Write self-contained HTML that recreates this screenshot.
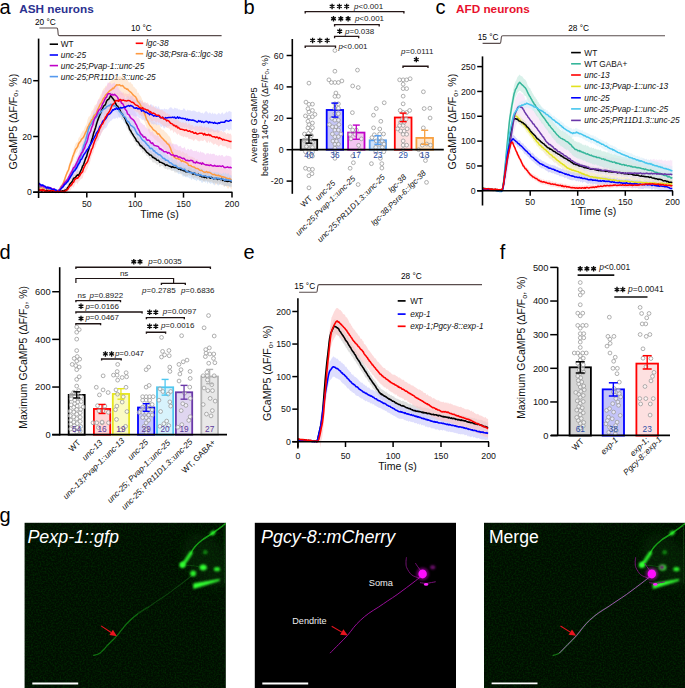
<!DOCTYPE html>
<html><head><meta charset="utf-8"><title>Figure</title>
<style>html,body{margin:0;padding:0;background:#fff;width:685px;height:688px;overflow:hidden}svg text{font-family:"Liberation Sans", sans-serif}</style>
</head><body>
<svg width="685" height="688" viewBox="0 0 685 688" style="display:block">
<defs>
<filter id="bl5" x="-50%" y="-50%" width="200%" height="200%"><feGaussianBlur stdDeviation="0.5"/></filter>
<filter id="bl6" x="-50%" y="-50%" width="200%" height="200%"><feGaussianBlur stdDeviation="0.6"/></filter>
<filter id="bl7" x="-50%" y="-50%" width="200%" height="200%"><feGaussianBlur stdDeviation="0.7"/></filter>
<filter id="bl8" x="-50%" y="-50%" width="200%" height="200%"><feGaussianBlur stdDeviation="0.8"/></filter>
<filter id="bl10" x="-50%" y="-50%" width="200%" height="200%"><feGaussianBlur stdDeviation="1.0"/></filter>
<filter id="bl60" x="-50%" y="-50%" width="200%" height="200%"><feGaussianBlur stdDeviation="6.0"/></filter>
<filter id="nz" x="0" y="0" width="100%" height="100%"><feTurbulence type="fractalNoise" baseFrequency="0.6" numOctaves="2" seed="3"/><feColorMatrix type="matrix" values="0 0 0 0 0  0 0 0 0 0.16  0 0 0 0 0  0 0 0 1.3 -0.5"/></filter>
<pattern id="noiseG" width="201" height="166" patternUnits="userSpaceOnUse"><rect width="201" height="166" filter="url(#nz)"/></pattern>
<clipPath id="cl1"><rect x="24.6" y="522.8" width="201.2" height="166"/></clipPath>
<clipPath id="cl2"><rect x="254.8" y="522.8" width="201.2" height="166"/></clipPath>
<clipPath id="cl3"><rect x="484" y="522.8" width="201" height="166"/></clipPath>
</defs>
<g font-family='"Liberation Sans", sans-serif'>
<rect width="685" height="688" fill="#fff"/>
<text x="-0.60" y="13.70" font-size="20" text-anchor="start" fill="#000" font-weight="normal" font-style="normal" >a</text>
<text x="19.30" y="12.60" font-size="11.75" text-anchor="start" fill="#2b3190" font-weight="bold" font-style="normal" >ASH neurons</text>
<path d="M39.4,28 L56.6,28 Q57.6,28 57.8,30 L58.2,34.5 Q58.4,35.6 59.6,35.6 L221.6,35.6" fill="none" stroke="#5a4d4d" stroke-width="1.1"/>
<text x="35.00" y="25.20" font-size="8.3" text-anchor="start" fill="#000" font-weight="normal" font-style="normal" >20 &#176;C</text>
<text x="130.90" y="31.20" font-size="8.3" text-anchor="start" fill="#000" font-weight="normal" font-style="normal" >10 &#176;C</text>
<line x1="49.70" y1="44.20" x2="58.00" y2="44.20" stroke="#000" stroke-width="1.6" />
<text x="60.80" y="47.20" font-size="8.25" text-anchor="start" fill="#111" font-weight="normal" font-style="normal" >WT</text>
<line x1="49.70" y1="55.00" x2="58.00" y2="55.00" stroke="#0000ff" stroke-width="1.6" />
<text x="60.80" y="58.00" font-size="8.25" text-anchor="start" fill="#111" font-weight="normal" font-style="italic" >unc-25</text>
<line x1="49.70" y1="65.60" x2="58.00" y2="65.60" stroke="#c000c8" stroke-width="1.6" />
<text x="60.80" y="68.60" font-size="8.25" text-anchor="start" fill="#111" font-weight="normal" font-style="italic" >unc-25;Pvap-1::unc-25</text>
<line x1="49.70" y1="76.60" x2="58.00" y2="76.60" stroke="#5599ee" stroke-width="1.6" />
<text x="60.80" y="79.60" font-size="8.25" text-anchor="start" fill="#111" font-weight="normal" font-style="italic" >unc-25;PR11D1.3::unc-25</text>
<line x1="135.70" y1="43.30" x2="143.20" y2="43.30" stroke="#ff0000" stroke-width="1.6" />
<text x="146.00" y="46.30" font-size="8.3" text-anchor="start" fill="#111" font-weight="normal" font-style="italic" >lgc-38</text>
<line x1="135.70" y1="53.70" x2="143.20" y2="53.70" stroke="#ff9a40" stroke-width="1.6" />
<text x="146.00" y="56.70" font-size="8.3" text-anchor="start" fill="#111" font-weight="normal" font-style="italic" >lgc-38;Psra-6::lgc-38</text>
<path d="M38.60,186.37 L39.60,185.69 L40.60,185.63 L41.60,186.81 L42.60,187.09 L43.60,187.53 L44.60,187.86 L45.60,187.83 L46.60,189.44 L47.60,187.99 L48.60,189.27 L49.60,190.61 L50.60,189.03 L51.60,187.18 L52.60,189.00 L53.60,190.49 L54.60,189.84 L55.60,190.74 L56.60,191.85 L57.60,190.94 L58.60,190.48 L59.60,187.97 L60.60,184.75 L61.60,185.39 L62.60,183.13 L63.60,181.01 L64.60,177.62 L65.60,174.57 L66.60,171.76 L67.60,169.63 L68.60,165.87 L69.60,162.45 L70.60,158.86 L71.60,157.77 L72.60,153.64 L73.60,149.55 L74.60,146.30 L75.60,143.74 L76.60,142.55 L77.60,141.90 L78.60,137.87 L79.60,136.98 L80.60,134.52 L81.60,132.70 L82.60,130.91 L83.60,130.55 L84.60,127.70 L85.60,125.87 L86.60,124.17 L87.60,119.48 L88.60,116.73 L89.60,116.30 L90.60,114.72 L91.60,110.89 L92.60,110.32 L93.60,108.62 L94.60,105.42 L95.60,104.71 L96.60,104.08 L97.60,101.19 L98.60,99.22 L99.60,97.31 L100.60,94.71 L101.60,93.27 L102.60,90.35 L103.60,88.55 L104.60,87.83 L105.60,85.81 L106.60,85.70 L107.60,84.31 L108.60,82.96 L109.60,81.51 L110.60,81.36 L111.60,80.42 L112.60,80.01 L113.60,80.01 L114.60,78.48 L115.60,76.69 L116.60,75.78 L117.60,76.42 L118.60,77.12 L119.60,75.89 L120.60,76.33 L121.60,77.16 L122.60,75.56 L123.60,77.27 L124.60,77.98 L125.60,79.35 L126.60,79.55 L127.60,79.75 L128.60,82.20 L129.60,82.61 L130.60,81.96 L131.60,83.93 L132.60,84.16 L133.60,87.04 L134.60,87.17 L135.60,88.67 L136.60,89.20 L137.60,93.18 L138.60,92.42 L139.60,95.36 L140.60,95.98 L141.60,97.99 L142.60,101.18 L143.60,103.18 L144.60,103.87 L145.60,107.59 L146.60,110.46 L147.60,111.01 L148.60,113.84 L149.60,116.92 L150.60,117.02 L151.60,118.83 L152.60,120.31 L153.60,121.62 L154.60,121.91 L155.60,123.14 L156.60,123.18 L157.60,124.94 L158.60,124.59 L159.60,124.90 L160.60,127.48 L161.60,129.25 L162.60,129.72 L163.60,129.68 L164.60,131.24 L165.60,132.23 L166.60,132.88 L167.60,134.37 L168.60,135.76 L169.60,136.45 L170.60,138.51 L171.60,141.98 L172.60,144.24 L173.60,146.41 L174.60,148.69 L175.60,149.29 L176.60,150.35 L177.60,149.76 L178.60,150.85 L179.60,150.01 L180.60,150.83 L181.60,152.64 L182.60,150.89 L183.60,151.90 L184.60,153.13 L185.60,153.63 L186.60,153.07 L187.60,154.13 L188.60,156.54 L189.60,155.94 L190.60,156.75 L191.60,156.51 L192.60,156.98 L193.60,157.78 L194.60,157.81 L195.60,159.76 L196.60,159.34 L197.60,159.05 L198.60,160.98 L199.60,161.97 L200.60,162.26 L201.60,160.36 L202.60,161.71 L203.60,162.05 L204.60,163.89 L205.60,163.15 L206.60,161.57 L207.60,164.50 L208.60,162.16 L209.60,162.33 L210.60,165.03 L211.60,164.60 L212.60,166.38 L213.60,165.82 L214.60,164.44 L215.60,166.26 L216.60,166.88 L217.60,165.36 L218.60,167.03 L219.60,166.57 L220.60,167.05 L221.60,167.51 L222.60,168.47 L223.60,167.94 L224.60,168.18 L225.60,167.51 L226.60,169.73 L227.60,168.71 L228.60,170.14 L229.60,168.30 L230.60,169.47 L231.60,171.13 L231.60,189.83 L230.60,188.26 L229.60,186.31 L228.60,188.45 L227.60,188.55 L226.60,186.50 L225.60,185.55 L224.60,186.85 L223.60,186.55 L222.60,184.79 L221.60,185.08 L220.60,184.02 L219.60,184.87 L218.60,184.29 L217.60,184.24 L216.60,184.09 L215.60,184.69 L214.60,183.39 L213.60,183.59 L212.60,182.73 L211.60,182.35 L210.60,181.00 L209.60,180.52 L208.60,180.95 L207.60,182.51 L206.60,179.79 L205.60,181.08 L204.60,180.28 L203.60,181.13 L202.60,181.23 L201.60,178.11 L200.60,180.44 L199.60,179.59 L198.60,177.95 L197.60,176.61 L196.60,176.63 L195.60,176.78 L194.60,176.95 L193.60,175.33 L192.60,176.35 L191.60,175.01 L190.60,174.18 L189.60,174.61 L188.60,174.95 L187.60,172.01 L186.60,171.91 L185.60,172.52 L184.60,170.43 L183.60,170.90 L182.60,169.87 L181.60,170.17 L180.60,169.18 L179.60,168.65 L178.60,169.03 L177.60,168.10 L176.60,168.59 L175.60,167.48 L174.60,166.94 L173.60,164.63 L172.60,163.02 L171.60,161.91 L170.60,156.53 L169.60,155.18 L168.60,152.72 L167.60,153.48 L166.60,151.49 L165.60,150.14 L164.60,149.38 L163.60,147.89 L162.60,146.73 L161.60,145.61 L160.60,145.32 L159.60,143.05 L158.60,142.12 L157.60,142.56 L156.60,140.40 L155.60,140.06 L154.60,139.58 L153.60,137.86 L152.60,136.82 L151.60,135.16 L150.60,136.16 L149.60,133.87 L148.60,131.76 L147.60,129.37 L146.60,127.33 L145.60,124.62 L144.60,121.74 L143.60,120.18 L142.60,118.51 L141.60,116.06 L140.60,114.42 L139.60,112.65 L138.60,111.56 L137.60,111.56 L136.60,107.70 L135.60,106.33 L134.60,104.08 L133.60,103.35 L132.60,103.85 L131.60,101.64 L130.60,101.06 L129.60,100.04 L128.60,99.02 L127.60,97.30 L126.60,98.09 L125.60,96.19 L124.60,97.28 L123.60,95.83 L122.60,95.36 L121.60,95.21 L120.60,94.36 L119.60,93.10 L118.60,94.58 L117.60,93.58 L116.60,94.20 L115.60,95.28 L114.60,97.02 L113.60,97.01 L112.60,97.99 L111.60,99.20 L110.60,98.69 L109.60,100.99 L108.60,100.17 L107.60,102.92 L106.60,104.04 L105.60,104.69 L104.60,106.89 L103.60,107.96 L102.60,108.42 L101.60,110.79 L100.60,111.71 L99.60,114.57 L98.60,115.65 L97.60,117.69 L96.60,122.23 L95.60,124.11 L94.60,124.91 L93.60,125.66 L92.60,127.43 L91.60,129.80 L90.60,129.92 L89.60,131.40 L88.60,134.33 L87.60,136.01 L86.60,138.66 L85.60,140.44 L84.60,142.28 L83.60,144.49 L82.60,145.84 L81.60,145.45 L80.60,146.44 L79.60,148.59 L78.60,148.24 L77.60,151.47 L76.60,152.65 L75.60,153.86 L74.60,157.73 L73.60,159.80 L72.60,161.50 L71.60,164.01 L70.60,166.36 L69.60,168.89 L68.60,173.02 L67.60,174.17 L66.60,176.68 L65.60,179.22 L64.60,182.05 L63.60,183.17 L62.60,187.04 L61.60,188.37 L60.60,188.35 L59.60,190.11 L58.60,192.22 L57.60,192.96 L56.60,191.68 L55.60,190.97 L54.60,190.67 L53.60,191.13 L52.60,191.65 L51.60,190.49 L50.60,190.71 L49.60,191.74 L48.60,190.42 L47.60,190.96 L46.60,190.34 L45.60,190.31 L44.60,189.01 L43.60,189.85 L42.60,189.86 L41.60,188.09 L40.60,189.22 L39.60,188.42 L38.60,187.76Z" fill="#ffd6b0" fill-opacity="0.5" stroke="none"/>
<path d="M38.60,182.20 L39.60,182.87 L40.60,184.66 L41.60,185.08 L42.60,184.35 L43.60,184.92 L44.60,184.92 L45.60,187.03 L46.60,185.96 L47.60,187.85 L48.60,186.67 L49.60,185.95 L50.60,186.74 L51.60,188.02 L52.60,188.10 L53.60,188.86 L54.60,188.79 L55.60,189.09 L56.60,191.27 L57.60,190.16 L58.60,188.72 L59.60,187.98 L60.60,187.57 L61.60,186.51 L62.60,183.26 L63.60,181.68 L64.60,180.52 L65.60,179.49 L66.60,178.74 L67.60,177.38 L68.60,173.77 L69.60,171.57 L70.60,170.75 L71.60,169.29 L72.60,164.54 L73.60,163.82 L74.60,163.27 L75.60,160.64 L76.60,157.25 L77.60,156.35 L78.60,153.48 L79.60,150.00 L80.60,149.13 L81.60,145.70 L82.60,144.41 L83.60,142.25 L84.60,140.43 L85.60,136.88 L86.60,135.40 L87.60,132.62 L88.60,128.43 L89.60,125.76 L90.60,123.86 L91.60,119.42 L92.60,115.86 L93.60,111.28 L94.60,108.79 L95.60,106.98 L96.60,105.41 L97.60,101.19 L98.60,99.16 L99.60,99.37 L100.60,97.87 L101.60,96.04 L102.60,91.77 L103.60,90.87 L104.60,89.91 L105.60,87.21 L106.60,87.28 L107.60,82.42 L108.60,82.72 L109.60,83.34 L110.60,82.81 L111.60,84.99 L112.60,83.51 L113.60,83.15 L114.60,82.35 L115.60,85.58 L116.60,84.19 L117.60,85.64 L118.60,88.37 L119.60,90.21 L120.60,90.93 L121.60,92.24 L122.60,92.51 L123.60,95.14 L124.60,96.57 L125.60,98.43 L126.60,100.09 L127.60,103.46 L128.60,102.26 L129.60,103.83 L130.60,106.03 L131.60,107.92 L132.60,108.95 L133.60,110.31 L134.60,111.06 L135.60,112.24 L136.60,114.81 L137.60,118.01 L138.60,118.12 L139.60,119.26 L140.60,122.58 L141.60,122.90 L142.60,123.94 L143.60,125.06 L144.60,124.89 L145.60,127.41 L146.60,127.53 L147.60,129.52 L148.60,128.38 L149.60,129.00 L150.60,132.18 L151.60,131.96 L152.60,131.12 L153.60,133.75 L154.60,134.91 L155.60,134.73 L156.60,135.92 L157.60,134.98 L158.60,135.86 L159.60,138.59 L160.60,137.45 L161.60,139.55 L162.60,138.89 L163.60,139.71 L164.60,139.86 L165.60,141.39 L166.60,141.51 L167.60,143.31 L168.60,142.00 L169.60,142.41 L170.60,142.39 L171.60,144.94 L172.60,143.17 L173.60,143.74 L174.60,144.55 L175.60,144.32 L176.60,144.23 L177.60,145.34 L178.60,146.71 L179.60,145.99 L180.60,145.77 L181.60,147.69 L182.60,148.23 L183.60,148.01 L184.60,146.79 L185.60,149.39 L186.60,150.52 L187.60,148.74 L188.60,148.96 L189.60,150.55 L190.60,149.02 L191.60,149.23 L192.60,150.49 L193.60,151.23 L194.60,150.66 L195.60,151.34 L196.60,150.25 L197.60,152.34 L198.60,151.49 L199.60,153.07 L200.60,150.88 L201.60,152.68 L202.60,152.21 L203.60,152.86 L204.60,153.43 L205.60,154.95 L206.60,153.29 L207.60,153.19 L208.60,153.14 L209.60,154.56 L210.60,153.27 L211.60,154.39 L212.60,153.75 L213.60,153.81 L214.60,154.06 L215.60,155.73 L216.60,154.87 L217.60,155.97 L218.60,155.38 L219.60,154.66 L220.60,156.02 L221.60,154.88 L222.60,155.00 L223.60,156.65 L224.60,156.63 L225.60,156.03 L226.60,155.36 L227.60,156.05 L228.60,155.83 L229.60,156.13 L230.60,156.42 L231.60,158.11 L231.60,179.22 L230.60,179.34 L229.60,178.58 L228.60,177.41 L227.60,177.30 L226.60,177.52 L225.60,179.38 L224.60,179.06 L223.60,177.61 L222.60,176.40 L221.60,178.54 L220.60,177.61 L219.60,177.78 L218.60,176.59 L217.60,176.56 L216.60,178.31 L215.60,177.60 L214.60,177.22 L213.60,178.14 L212.60,176.08 L211.60,175.43 L210.60,174.65 L209.60,175.79 L208.60,176.29 L207.60,175.72 L206.60,174.78 L205.60,176.67 L204.60,174.94 L203.60,173.83 L202.60,173.42 L201.60,175.07 L200.60,172.90 L199.60,173.66 L198.60,173.44 L197.60,174.70 L196.60,173.37 L195.60,173.06 L194.60,172.58 L193.60,173.00 L192.60,172.06 L191.60,172.42 L190.60,170.32 L189.60,172.49 L188.60,172.54 L187.60,170.95 L186.60,171.79 L185.60,171.69 L184.60,170.41 L183.60,168.41 L182.60,170.53 L181.60,168.15 L180.60,167.64 L179.60,168.28 L178.60,168.20 L177.60,167.13 L176.60,167.47 L175.60,167.56 L174.60,167.15 L173.60,165.58 L172.60,166.99 L171.60,165.21 L170.60,165.09 L169.60,163.45 L168.60,163.43 L167.60,163.39 L166.60,163.81 L165.60,163.48 L164.60,162.85 L163.60,162.53 L162.60,162.10 L161.60,160.19 L160.60,159.81 L159.60,159.05 L158.60,157.23 L157.60,158.36 L156.60,157.91 L155.60,156.77 L154.60,156.67 L153.60,156.55 L152.60,153.99 L151.60,153.88 L150.60,154.05 L149.60,151.96 L148.60,151.20 L147.60,152.17 L146.60,151.45 L145.60,148.80 L144.60,148.29 L143.60,147.24 L142.60,147.38 L141.60,145.54 L140.60,145.71 L139.60,141.98 L138.60,140.73 L137.60,137.80 L136.60,136.13 L135.60,135.28 L134.60,132.06 L133.60,131.14 L132.60,130.58 L131.60,130.10 L130.60,127.92 L129.60,125.75 L128.60,125.21 L127.60,125.81 L126.60,121.26 L125.60,121.43 L124.60,118.16 L123.60,117.06 L122.60,113.73 L121.60,115.28 L120.60,111.51 L119.60,111.04 L118.60,110.01 L117.60,108.00 L116.60,107.51 L115.60,106.28 L114.60,104.77 L113.60,105.62 L112.60,105.18 L111.60,107.40 L110.60,104.56 L109.60,103.97 L108.60,104.55 L107.60,104.25 L106.60,108.99 L105.60,109.74 L104.60,111.13 L103.60,112.24 L102.60,114.62 L101.60,118.25 L100.60,119.76 L99.60,119.99 L98.60,122.19 L97.60,123.54 L96.60,126.28 L95.60,127.24 L94.60,128.56 L93.60,130.62 L92.60,134.50 L91.60,137.08 L90.60,138.87 L89.60,142.23 L88.60,144.06 L87.60,148.68 L86.60,150.15 L85.60,151.66 L84.60,154.70 L83.60,157.43 L82.60,158.98 L81.60,158.11 L80.60,161.95 L79.60,161.55 L78.60,163.43 L77.60,166.05 L76.60,168.78 L75.60,170.86 L74.60,172.64 L73.60,172.51 L72.60,173.91 L71.60,175.87 L70.60,177.09 L69.60,179.80 L68.60,179.27 L67.60,181.51 L66.60,182.81 L65.60,184.27 L64.60,184.40 L63.60,185.07 L62.60,186.81 L61.60,187.13 L60.60,189.33 L59.60,191.58 L58.60,191.42 L57.60,191.79 L56.60,191.16 L55.60,192.95 L54.60,192.93 L53.60,189.25 L52.60,190.75 L51.60,191.23 L50.60,187.57 L49.60,189.32 L48.60,187.66 L47.60,190.05 L46.60,188.59 L45.60,187.74 L44.60,187.69 L43.60,188.27 L42.60,186.94 L41.60,186.18 L40.60,187.78 L39.60,185.85 L38.60,185.79Z" fill="#f0b8f0" fill-opacity="0.5" stroke="none"/>
<path d="M38.60,184.07 L39.60,184.84 L40.60,185.34 L41.60,186.14 L42.60,185.21 L43.60,186.63 L44.60,185.24 L45.60,187.39 L46.60,188.25 L47.60,187.60 L48.60,188.80 L49.60,189.10 L50.60,187.28 L51.60,187.20 L52.60,188.85 L53.60,188.92 L54.60,187.51 L55.60,190.85 L56.60,190.16 L57.60,191.21 L58.60,190.43 L59.60,187.78 L60.60,186.94 L61.60,184.23 L62.60,184.96 L63.60,182.93 L64.60,180.96 L65.60,178.51 L66.60,178.71 L67.60,177.11 L68.60,174.76 L69.60,172.97 L70.60,170.90 L71.60,170.76 L72.60,167.53 L73.60,166.37 L74.60,165.16 L75.60,161.73 L76.60,160.02 L77.60,159.65 L78.60,156.57 L79.60,153.37 L80.60,151.06 L81.60,147.26 L82.60,143.90 L83.60,141.12 L84.60,137.38 L85.60,133.35 L86.60,130.76 L87.60,127.46 L88.60,122.77 L89.60,120.84 L90.60,118.11 L91.60,116.64 L92.60,115.75 L93.60,113.11 L94.60,112.56 L95.60,111.63 L96.60,110.31 L97.60,108.04 L98.60,105.99 L99.60,108.59 L100.60,106.44 L101.60,106.37 L102.60,103.91 L103.60,104.51 L104.60,103.37 L105.60,102.58 L106.60,100.47 L107.60,100.56 L108.60,98.72 L109.60,99.46 L110.60,98.72 L111.60,97.77 L112.60,99.70 L113.60,99.90 L114.60,99.66 L115.60,101.52 L116.60,101.52 L117.60,101.49 L118.60,103.22 L119.60,104.59 L120.60,104.98 L121.60,109.15 L122.60,108.12 L123.60,111.55 L124.60,111.46 L125.60,111.39 L126.60,115.24 L127.60,116.76 L128.60,115.44 L129.60,116.29 L130.60,118.91 L131.60,118.92 L132.60,120.29 L133.60,120.28 L134.60,122.98 L135.60,125.88 L136.60,126.06 L137.60,128.90 L138.60,129.02 L139.60,129.27 L140.60,131.99 L141.60,132.61 L142.60,134.85 L143.60,133.73 L144.60,136.37 L145.60,136.09 L146.60,136.68 L147.60,140.14 L148.60,140.23 L149.60,142.28 L150.60,143.30 L151.60,141.92 L152.60,142.30 L153.60,144.58 L154.60,145.88 L155.60,147.88 L156.60,146.14 L157.60,147.75 L158.60,148.58 L159.60,149.63 L160.60,148.39 L161.60,151.11 L162.60,151.25 L163.60,152.75 L164.60,151.49 L165.60,153.30 L166.60,155.03 L167.60,154.42 L168.60,156.47 L169.60,157.75 L170.60,157.37 L171.60,156.45 L172.60,158.79 L173.60,160.43 L174.60,159.52 L175.60,158.49 L176.60,159.67 L177.60,162.73 L178.60,163.06 L179.60,161.43 L180.60,161.62 L181.60,163.00 L182.60,163.53 L183.60,162.86 L184.60,164.25 L185.60,164.95 L186.60,165.06 L187.60,164.45 L188.60,166.19 L189.60,167.19 L190.60,165.57 L191.60,166.19 L192.60,167.41 L193.60,167.74 L194.60,167.16 L195.60,167.57 L196.60,169.28 L197.60,168.83 L198.60,167.90 L199.60,168.64 L200.60,167.88 L201.60,168.81 L202.60,169.08 L203.60,169.54 L204.60,169.13 L205.60,171.17 L206.60,170.02 L207.60,172.41 L208.60,171.32 L209.60,170.11 L210.60,170.37 L211.60,172.19 L212.60,172.23 L213.60,172.36 L214.60,172.01 L215.60,172.18 L216.60,172.32 L217.60,172.51 L218.60,172.14 L219.60,173.45 L220.60,172.94 L221.60,174.23 L222.60,173.48 L223.60,172.15 L224.60,174.43 L225.60,172.28 L226.60,174.57 L227.60,173.72 L228.60,172.95 L229.60,175.58 L230.60,175.02 L231.60,175.82 L231.60,186.42 L230.60,187.00 L229.60,187.15 L228.60,186.09 L227.60,186.03 L226.60,185.84 L225.60,185.33 L224.60,186.78 L223.60,185.15 L222.60,185.12 L221.60,185.32 L220.60,184.25 L219.60,184.18 L218.60,185.39 L217.60,185.34 L216.60,183.62 L215.60,182.93 L214.60,185.44 L213.60,184.60 L212.60,183.33 L211.60,183.02 L210.60,184.03 L209.60,182.90 L208.60,181.58 L207.60,184.28 L206.60,181.27 L205.60,182.99 L204.60,180.96 L203.60,181.13 L202.60,182.76 L201.60,182.65 L200.60,180.83 L199.60,181.22 L198.60,179.94 L197.60,179.69 L196.60,181.22 L195.60,180.02 L194.60,180.01 L193.60,179.21 L192.60,178.15 L191.60,180.23 L190.60,178.15 L189.60,178.44 L188.60,177.44 L187.60,177.19 L186.60,177.22 L185.60,177.16 L184.60,176.16 L183.60,176.46 L182.60,176.39 L181.60,173.32 L180.60,173.35 L179.60,173.73 L178.60,174.24 L177.60,172.92 L176.60,171.69 L175.60,170.73 L174.60,170.52 L173.60,170.70 L172.60,169.56 L171.60,168.73 L170.60,167.71 L169.60,169.28 L168.60,166.16 L167.60,166.04 L166.60,165.03 L165.60,165.21 L164.60,163.70 L163.60,165.75 L162.60,163.60 L161.60,161.48 L160.60,160.52 L159.60,161.50 L158.60,160.12 L157.60,158.79 L156.60,157.78 L155.60,158.39 L154.60,156.24 L153.60,157.50 L152.60,155.20 L151.60,153.34 L150.60,154.24 L149.60,154.49 L148.60,152.76 L147.60,151.86 L146.60,150.95 L145.60,149.93 L144.60,148.32 L143.60,147.65 L142.60,145.96 L141.60,145.39 L140.60,144.11 L139.60,141.71 L138.60,139.77 L137.60,140.25 L136.60,138.57 L135.60,135.77 L134.60,134.25 L133.60,132.74 L132.60,131.49 L131.60,130.98 L130.60,131.22 L129.60,129.76 L128.60,127.59 L127.60,126.75 L126.60,126.27 L125.60,123.19 L124.60,123.35 L123.60,121.80 L122.60,119.20 L121.60,119.98 L120.60,117.39 L119.60,116.88 L118.60,116.44 L117.60,113.69 L116.60,112.31 L115.60,111.79 L114.60,111.19 L113.60,111.54 L112.60,111.27 L111.60,110.63 L110.60,109.32 L109.60,111.38 L108.60,112.23 L107.60,113.13 L106.60,111.50 L105.60,113.74 L104.60,115.06 L103.60,116.23 L102.60,115.01 L101.60,118.35 L100.60,118.13 L99.60,119.37 L98.60,119.49 L97.60,120.40 L96.60,124.22 L95.60,124.02 L94.60,124.91 L93.60,125.30 L92.60,126.57 L91.60,129.98 L90.60,132.29 L89.60,131.54 L88.60,133.89 L87.60,139.34 L86.60,142.59 L85.60,146.88 L84.60,150.40 L83.60,150.94 L82.60,157.19 L81.60,160.18 L80.60,162.68 L79.60,166.24 L78.60,167.47 L77.60,169.44 L76.60,170.42 L75.60,170.36 L74.60,174.36 L73.60,175.31 L72.60,177.06 L71.60,177.83 L70.60,179.07 L69.60,180.06 L68.60,182.23 L67.60,184.28 L66.60,184.06 L65.60,183.93 L64.60,186.19 L63.60,186.50 L62.60,187.29 L61.60,188.34 L60.60,190.48 L59.60,190.81 L58.60,191.90 L57.60,193.09 L56.60,191.58 L55.60,191.93 L54.60,189.74 L53.60,191.45 L52.60,191.22 L51.60,190.92 L50.60,190.46 L49.60,191.04 L48.60,189.47 L47.60,189.52 L46.60,190.37 L45.60,188.21 L44.60,188.13 L43.60,188.08 L42.60,187.28 L41.60,186.71 L40.60,188.97 L39.60,186.51 L38.60,187.25Z" fill="#b8d4f8" fill-opacity="0.5" stroke="none"/>
<path d="M38.60,182.07 L39.60,183.26 L40.60,184.32 L41.60,183.93 L42.60,184.33 L43.60,185.60 L44.60,186.06 L45.60,184.91 L46.60,187.22 L47.60,186.40 L48.60,187.09 L49.60,187.95 L50.60,187.32 L51.60,187.66 L52.60,189.91 L53.60,189.18 L54.60,187.78 L55.60,188.66 L56.60,189.31 L57.60,189.60 L58.60,190.46 L59.60,189.91 L60.60,188.00 L61.60,187.57 L62.60,186.81 L63.60,184.35 L64.60,182.44 L65.60,180.80 L66.60,178.73 L67.60,179.99 L68.60,176.40 L69.60,174.22 L70.60,173.89 L71.60,171.79 L72.60,168.23 L73.60,166.51 L74.60,165.66 L75.60,163.83 L76.60,161.64 L77.60,160.50 L78.60,157.85 L79.60,156.50 L80.60,153.06 L81.60,151.91 L82.60,149.43 L83.60,149.11 L84.60,146.99 L85.60,145.24 L86.60,141.89 L87.60,140.46 L88.60,138.80 L89.60,137.07 L90.60,134.16 L91.60,133.45 L92.60,131.03 L93.60,129.14 L94.60,128.16 L95.60,125.93 L96.60,123.42 L97.60,122.08 L98.60,120.98 L99.60,118.56 L100.60,116.10 L101.60,114.27 L102.60,112.37 L103.60,111.00 L104.60,111.80 L105.60,108.95 L106.60,109.14 L107.60,104.97 L108.60,105.43 L109.60,104.83 L110.60,103.51 L111.60,103.75 L112.60,101.28 L113.60,100.34 L114.60,99.85 L115.60,100.51 L116.60,97.97 L117.60,99.34 L118.60,99.78 L119.60,100.12 L120.60,98.42 L121.60,98.79 L122.60,98.69 L123.60,97.87 L124.60,98.71 L125.60,99.30 L126.60,97.24 L127.60,95.81 L128.60,96.25 L129.60,97.98 L130.60,95.99 L131.60,96.02 L132.60,96.44 L133.60,99.16 L134.60,99.23 L135.60,98.75 L136.60,98.98 L137.60,100.25 L138.60,100.86 L139.60,100.47 L140.60,99.80 L141.60,102.89 L142.60,102.18 L143.60,102.85 L144.60,103.01 L145.60,103.67 L146.60,103.11 L147.60,105.09 L148.60,104.87 L149.60,106.32 L150.60,104.06 L151.60,104.55 L152.60,105.50 L153.60,107.31 L154.60,106.77 L155.60,106.05 L156.60,106.61 L157.60,108.06 L158.60,105.76 L159.60,108.86 L160.60,109.44 L161.60,108.92 L162.60,109.37 L163.60,109.56 L164.60,108.35 L165.60,109.61 L166.60,108.89 L167.60,109.68 L168.60,109.23 L169.60,107.66 L170.60,107.26 L171.60,107.44 L172.60,108.72 L173.60,109.33 L174.60,107.43 L175.60,108.28 L176.60,108.59 L177.60,108.60 L178.60,109.81 L179.60,109.25 L180.60,110.19 L181.60,110.02 L182.60,110.05 L183.60,108.23 L184.60,108.68 L185.60,110.44 L186.60,111.31 L187.60,109.55 L188.60,110.51 L189.60,110.19 L190.60,110.57 L191.60,111.31 L192.60,110.80 L193.60,110.54 L194.60,110.78 L195.60,111.30 L196.60,111.95 L197.60,112.18 L198.60,111.42 L199.60,111.67 L200.60,112.68 L201.60,113.31 L202.60,112.39 L203.60,113.88 L204.60,112.41 L205.60,111.29 L206.60,111.31 L207.60,112.44 L208.60,113.65 L209.60,112.26 L210.60,113.04 L211.60,114.21 L212.60,112.28 L213.60,114.20 L214.60,113.13 L215.60,113.84 L216.60,114.83 L217.60,114.00 L218.60,112.68 L219.60,113.45 L220.60,114.40 L221.60,112.91 L222.60,112.25 L223.60,114.47 L224.60,113.59 L225.60,112.82 L226.60,111.16 L227.60,112.78 L228.60,111.22 L229.60,111.02 L230.60,111.76 L231.60,112.12 L231.60,130.53 L230.60,129.04 L229.60,130.27 L228.60,130.43 L227.60,129.34 L226.60,128.47 L225.60,130.42 L224.60,130.64 L223.60,132.14 L222.60,131.29 L221.60,130.35 L220.60,130.39 L219.60,131.56 L218.60,132.76 L217.60,133.28 L216.60,131.59 L215.60,132.02 L214.60,132.36 L213.60,132.66 L212.60,130.95 L211.60,131.40 L210.60,131.96 L209.60,131.83 L208.60,132.93 L207.60,131.74 L206.60,131.11 L205.60,130.11 L204.60,131.78 L203.60,131.26 L202.60,131.06 L201.60,132.11 L200.60,130.25 L199.60,131.60 L198.60,130.21 L197.60,131.65 L196.60,131.11 L195.60,130.37 L194.60,130.09 L193.60,129.01 L192.60,129.04 L191.60,129.95 L190.60,129.94 L189.60,129.17 L188.60,129.54 L187.60,126.97 L186.60,129.42 L185.60,126.79 L184.60,128.92 L183.60,127.03 L182.60,127.86 L181.60,126.96 L180.60,128.18 L179.60,126.90 L178.60,126.84 L177.60,125.14 L176.60,127.23 L175.60,126.03 L174.60,126.71 L173.60,126.97 L172.60,125.32 L171.60,126.67 L170.60,125.56 L169.60,126.02 L168.60,126.78 L167.60,125.88 L166.60,126.89 L165.60,126.94 L164.60,128.56 L163.60,128.01 L162.60,125.75 L161.60,126.95 L160.60,126.87 L159.60,124.79 L158.60,125.01 L157.60,124.53 L156.60,125.58 L155.60,124.36 L154.60,124.11 L153.60,124.64 L152.60,123.75 L151.60,124.27 L150.60,121.94 L149.60,122.90 L148.60,123.09 L147.60,123.36 L146.60,120.31 L145.60,121.07 L144.60,120.24 L143.60,118.95 L142.60,120.33 L141.60,119.57 L140.60,118.36 L139.60,118.24 L138.60,117.86 L137.60,116.46 L136.60,115.64 L135.60,116.65 L134.60,116.35 L133.60,116.31 L132.60,115.22 L131.60,114.81 L130.60,115.37 L129.60,114.82 L128.60,114.30 L127.60,113.91 L126.60,115.81 L125.60,115.06 L124.60,116.77 L123.60,117.14 L122.60,115.75 L121.60,116.47 L120.60,116.15 L119.60,117.93 L118.60,117.12 L117.60,119.12 L116.60,117.38 L115.60,118.60 L114.60,118.64 L113.60,118.62 L112.60,118.91 L111.60,120.38 L110.60,120.83 L109.60,122.05 L108.60,122.97 L107.60,125.18 L106.60,127.14 L105.60,128.13 L104.60,128.51 L103.60,130.07 L102.60,130.30 L101.60,132.57 L100.60,135.29 L99.60,136.78 L98.60,139.91 L97.60,141.20 L96.60,141.01 L95.60,144.90 L94.60,145.32 L93.60,147.29 L92.60,149.11 L91.60,152.79 L90.60,152.42 L89.60,153.79 L88.60,156.12 L87.60,157.20 L86.60,157.64 L85.60,159.91 L84.60,160.68 L83.60,163.20 L82.60,164.55 L81.60,165.85 L80.60,165.84 L79.60,168.63 L78.60,170.58 L77.60,172.43 L76.60,174.02 L75.60,173.20 L74.60,175.74 L73.60,176.74 L72.60,178.40 L71.60,179.04 L70.60,179.36 L69.60,180.74 L68.60,183.84 L67.60,184.46 L66.60,184.32 L65.60,186.46 L64.60,186.03 L63.60,187.21 L62.60,187.96 L61.60,188.86 L60.60,189.65 L59.60,191.98 L58.60,191.24 L57.60,192.43 L56.60,191.18 L55.60,191.84 L54.60,191.34 L53.60,191.25 L52.60,190.20 L51.60,190.10 L50.60,190.23 L49.60,189.38 L48.60,188.56 L47.60,188.86 L46.60,188.69 L45.60,188.58 L44.60,186.36 L43.60,185.92 L42.60,186.26 L41.60,185.46 L40.60,186.47 L39.60,184.67 L38.60,184.60Z" fill="#c8c8ff" fill-opacity="0.5" stroke="none"/>
<path d="M38.60,188.44 L39.60,189.64 L40.60,190.26 L41.60,190.97 L42.60,189.88 L43.60,188.70 L44.60,191.00 L45.60,189.70 L46.60,188.90 L47.60,189.13 L48.60,189.73 L49.60,189.60 L50.60,188.82 L51.60,189.85 L52.60,191.43 L53.60,190.49 L54.60,188.75 L55.60,189.65 L56.60,189.86 L57.60,189.78 L58.60,191.19 L59.60,191.32 L60.60,190.67 L61.60,190.46 L62.60,189.46 L63.60,188.78 L64.60,187.88 L65.60,186.80 L66.60,187.37 L67.60,184.82 L68.60,184.00 L69.60,180.89 L70.60,179.51 L71.60,177.80 L72.60,177.26 L73.60,174.43 L74.60,174.59 L75.60,174.01 L76.60,171.21 L77.60,169.91 L78.60,170.87 L79.60,170.43 L80.60,167.70 L81.60,164.74 L82.60,162.76 L83.60,160.23 L84.60,158.49 L85.60,153.29 L86.60,153.24 L87.60,149.59 L88.60,145.59 L89.60,142.28 L90.60,139.62 L91.60,135.67 L92.60,132.88 L93.60,128.84 L94.60,125.50 L95.60,122.95 L96.60,118.84 L97.60,116.68 L98.60,113.75 L99.60,110.83 L100.60,110.40 L101.60,105.62 L102.60,104.50 L103.60,102.99 L104.60,102.06 L105.60,101.19 L106.60,97.36 L107.60,96.66 L108.60,94.28 L109.60,94.30 L110.60,91.29 L111.60,92.41 L112.60,95.00 L113.60,96.05 L114.60,96.87 L115.60,99.07 L116.60,101.14 L117.60,103.17 L118.60,104.07 L119.60,104.63 L120.60,107.69 L121.60,107.99 L122.60,109.91 L123.60,112.47 L124.60,114.78 L125.60,116.76 L126.60,119.08 L127.60,121.00 L128.60,121.48 L129.60,125.88 L130.60,127.85 L131.60,127.81 L132.60,131.18 L133.60,133.08 L134.60,133.03 L135.60,135.48 L136.60,138.32 L137.60,136.58 L138.60,138.61 L139.60,140.72 L140.60,142.83 L141.60,141.51 L142.60,144.48 L143.60,144.71 L144.60,146.41 L145.60,147.19 L146.60,149.09 L147.60,149.17 L148.60,149.61 L149.60,150.88 L150.60,150.75 L151.60,151.61 L152.60,153.36 L153.60,153.11 L154.60,153.61 L155.60,154.13 L156.60,157.16 L157.60,155.82 L158.60,157.52 L159.60,159.02 L160.60,158.02 L161.60,157.93 L162.60,160.09 L163.60,160.64 L164.60,159.77 L165.60,161.84 L166.60,161.40 L167.60,161.58 L168.60,161.00 L169.60,161.73 L170.60,162.91 L171.60,163.69 L172.60,163.17 L173.60,162.72 L174.60,164.55 L175.60,164.09 L176.60,163.84 L177.60,164.90 L178.60,164.85 L179.60,164.72 L180.60,165.88 L181.60,166.50 L182.60,167.44 L183.60,166.33 L184.60,167.17 L185.60,167.30 L186.60,168.54 L187.60,168.69 L188.60,167.62 L189.60,166.98 L190.60,167.69 L191.60,168.02 L192.60,169.91 L193.60,168.97 L194.60,167.97 L195.60,169.41 L196.60,171.98 L197.60,170.98 L198.60,171.16 L199.60,172.96 L200.60,171.61 L201.60,173.52 L202.60,172.65 L203.60,173.29 L204.60,172.71 L205.60,172.21 L206.60,172.91 L207.60,173.22 L208.60,174.32 L209.60,174.94 L210.60,174.81 L211.60,172.23 L212.60,175.35 L213.60,174.92 L214.60,174.87 L215.60,174.38 L216.60,174.97 L217.60,175.12 L218.60,173.50 L219.60,175.20 L220.60,174.67 L221.60,173.89 L222.60,175.77 L223.60,175.94 L224.60,177.42 L225.60,176.46 L226.60,177.78 L227.60,176.37 L228.60,178.04 L229.60,176.67 L230.60,177.42 L231.60,178.20 L231.60,187.43 L230.60,186.04 L229.60,185.90 L228.60,186.14 L227.60,185.17 L226.60,186.47 L225.60,185.81 L224.60,186.02 L223.60,184.48 L222.60,184.23 L221.60,182.43 L220.60,183.35 L219.60,184.19 L218.60,181.48 L217.60,183.84 L216.60,182.43 L215.60,183.27 L214.60,181.95 L213.60,183.37 L212.60,181.85 L211.60,180.92 L210.60,181.67 L209.60,182.76 L208.60,181.52 L207.60,181.21 L206.60,180.73 L205.60,180.47 L204.60,181.98 L203.60,181.22 L202.60,179.96 L201.60,180.18 L200.60,180.34 L199.60,180.17 L198.60,177.91 L197.60,179.17 L196.60,178.13 L195.60,177.70 L194.60,177.57 L193.60,178.89 L192.60,177.30 L191.60,177.51 L190.60,175.47 L189.60,176.08 L188.60,174.76 L187.60,176.25 L186.60,175.66 L185.60,176.55 L184.60,175.61 L183.60,175.49 L182.60,173.94 L181.60,174.43 L180.60,174.25 L179.60,171.55 L178.60,172.63 L177.60,172.08 L176.60,172.47 L175.60,172.59 L174.60,172.48 L173.60,170.29 L172.60,171.12 L171.60,171.01 L170.60,170.20 L169.60,169.26 L168.60,169.30 L167.60,169.90 L166.60,168.50 L165.60,169.03 L164.60,168.60 L163.60,167.23 L162.60,165.98 L161.60,165.70 L160.60,166.60 L159.60,167.26 L158.60,163.75 L157.60,164.95 L156.60,164.52 L155.60,163.28 L154.60,162.52 L153.60,162.47 L152.60,162.57 L151.60,160.09 L150.60,159.56 L149.60,159.56 L148.60,156.84 L147.60,156.20 L146.60,156.04 L145.60,153.96 L144.60,153.63 L143.60,151.46 L142.60,152.98 L141.60,149.51 L140.60,150.04 L139.60,147.31 L138.60,146.05 L137.60,145.73 L136.60,145.23 L135.60,142.38 L134.60,141.75 L133.60,140.35 L132.60,137.14 L131.60,135.72 L130.60,135.37 L129.60,133.19 L128.60,131.15 L127.60,128.65 L126.60,128.06 L125.60,122.75 L124.60,120.72 L123.60,121.06 L122.60,119.19 L121.60,117.72 L120.60,114.62 L119.60,112.95 L118.60,111.45 L117.60,110.33 L116.60,108.51 L115.60,107.38 L114.60,105.21 L113.60,102.99 L112.60,101.33 L111.60,99.89 L110.60,99.77 L109.60,102.09 L108.60,104.28 L107.60,104.61 L106.60,106.13 L105.60,109.12 L104.60,109.91 L103.60,109.62 L102.60,113.24 L101.60,113.59 L100.60,116.77 L99.60,119.24 L98.60,122.20 L97.60,124.66 L96.60,128.08 L95.60,131.51 L94.60,135.69 L93.60,137.28 L92.60,140.46 L91.60,145.04 L90.60,147.97 L89.60,150.93 L88.60,152.65 L87.60,157.06 L86.60,159.54 L85.60,161.80 L84.60,165.87 L83.60,167.58 L82.60,170.88 L81.60,173.15 L80.60,175.46 L79.60,178.54 L78.60,178.47 L77.60,179.55 L76.60,179.93 L75.60,181.87 L74.60,181.09 L73.60,181.26 L72.60,183.96 L71.60,186.08 L70.60,186.97 L69.60,187.04 L68.60,189.53 L67.60,189.50 L66.60,193.44 L65.60,191.91 L64.60,192.08 L63.60,193.58 L62.60,192.40 L61.60,192.00 L60.60,192.34 L59.60,193.34 L58.60,191.58 L57.60,191.80 L56.60,193.47 L55.60,191.77 L54.60,192.47 L53.60,191.56 L52.60,192.13 L51.60,192.53 L50.60,190.30 L49.60,191.79 L48.60,191.35 L47.60,192.81 L46.60,191.95 L45.60,192.83 L44.60,192.44 L43.60,190.46 L42.60,191.16 L41.60,192.88 L40.60,190.64 L39.60,191.29 L38.60,191.23Z" fill="#c8c8c8" fill-opacity="0.5" stroke="none"/>
<path d="M38.60,189.95 L39.60,188.86 L40.60,190.17 L41.60,189.56 L42.60,189.66 L43.60,189.73 L44.60,190.33 L45.60,190.52 L46.60,190.92 L47.60,191.67 L48.60,188.89 L49.60,189.37 L50.60,190.91 L51.60,189.94 L52.60,190.37 L53.60,189.45 L54.60,192.01 L55.60,189.84 L56.60,191.48 L57.60,189.74 L58.60,190.16 L59.60,191.08 L60.60,189.02 L61.60,189.66 L62.60,189.63 L63.60,188.47 L64.60,188.87 L65.60,187.44 L66.60,188.35 L67.60,185.67 L68.60,183.91 L69.60,181.83 L70.60,183.14 L71.60,181.03 L72.60,179.37 L73.60,179.09 L74.60,175.03 L75.60,173.74 L76.60,172.53 L77.60,172.28 L78.60,171.40 L79.60,171.09 L80.60,167.83 L81.60,167.04 L82.60,165.94 L83.60,162.21 L84.60,159.76 L85.60,157.35 L86.60,154.98 L87.60,154.22 L88.60,152.46 L89.60,148.46 L90.60,146.18 L91.60,141.72 L92.60,141.04 L93.60,136.50 L94.60,135.00 L95.60,132.54 L96.60,128.84 L97.60,126.90 L98.60,124.12 L99.60,123.02 L100.60,119.36 L101.60,116.64 L102.60,117.90 L103.60,115.08 L104.60,111.17 L105.60,109.79 L106.60,109.49 L107.60,105.89 L108.60,106.28 L109.60,103.52 L110.60,101.79 L111.60,99.15 L112.60,96.16 L113.60,96.67 L114.60,95.71 L115.60,93.77 L116.60,93.87 L117.60,92.81 L118.60,94.57 L119.60,92.09 L120.60,93.45 L121.60,92.72 L122.60,93.81 L123.60,92.03 L124.60,93.89 L125.60,93.32 L126.60,94.00 L127.60,94.05 L128.60,94.27 L129.60,92.48 L130.60,95.39 L131.60,95.65 L132.60,94.32 L133.60,96.29 L134.60,97.73 L135.60,97.51 L136.60,99.19 L137.60,97.62 L138.60,99.82 L139.60,99.83 L140.60,101.87 L141.60,101.07 L142.60,99.89 L143.60,103.24 L144.60,101.73 L145.60,102.36 L146.60,103.59 L147.60,102.14 L148.60,104.28 L149.60,105.70 L150.60,104.60 L151.60,106.82 L152.60,107.12 L153.60,105.12 L154.60,107.70 L155.60,107.63 L156.60,108.92 L157.60,108.55 L158.60,109.26 L159.60,109.48 L160.60,109.90 L161.60,109.94 L162.60,109.99 L163.60,111.41 L164.60,111.47 L165.60,112.44 L166.60,113.94 L167.60,113.04 L168.60,114.50 L169.60,114.10 L170.60,116.13 L171.60,116.46 L172.60,117.40 L173.60,119.39 L174.60,118.50 L175.60,118.41 L176.60,119.15 L177.60,120.56 L178.60,120.20 L179.60,121.85 L180.60,121.65 L181.60,123.02 L182.60,122.17 L183.60,122.41 L184.60,123.48 L185.60,121.95 L186.60,122.67 L187.60,125.13 L188.60,123.28 L189.60,123.54 L190.60,125.45 L191.60,124.94 L192.60,125.05 L193.60,126.77 L194.60,127.07 L195.60,125.47 L196.60,126.32 L197.60,125.86 L198.60,127.21 L199.60,125.47 L200.60,126.17 L201.60,125.25 L202.60,127.13 L203.60,127.82 L204.60,125.53 L205.60,128.27 L206.60,126.85 L207.60,127.80 L208.60,126.72 L209.60,129.08 L210.60,128.26 L211.60,128.45 L212.60,129.26 L213.60,129.72 L214.60,130.64 L215.60,130.40 L216.60,130.57 L217.60,129.12 L218.60,130.76 L219.60,131.27 L220.60,131.19 L221.60,130.72 L222.60,132.16 L223.60,132.13 L224.60,131.95 L225.60,132.82 L226.60,134.55 L227.60,132.63 L228.60,133.58 L229.60,134.00 L230.60,133.61 L231.60,135.65 L231.60,149.06 L230.60,149.32 L229.60,147.85 L228.60,147.74 L227.60,148.67 L226.60,147.62 L225.60,146.19 L224.60,146.26 L223.60,146.34 L222.60,146.13 L221.60,144.91 L220.60,144.43 L219.60,145.78 L218.60,146.72 L217.60,145.04 L216.60,145.09 L215.60,143.61 L214.60,143.90 L213.60,145.01 L212.60,143.59 L211.60,142.92 L210.60,141.21 L209.60,143.32 L208.60,140.49 L207.60,142.97 L206.60,142.59 L205.60,140.89 L204.60,139.42 L203.60,140.82 L202.60,140.92 L201.60,140.42 L200.60,140.44 L199.60,141.45 L198.60,141.17 L197.60,140.75 L196.60,139.82 L195.60,139.08 L194.60,140.01 L193.60,141.14 L192.60,139.62 L191.60,139.54 L190.60,139.06 L189.60,138.84 L188.60,138.95 L187.60,137.10 L186.60,137.56 L185.60,137.17 L184.60,136.22 L183.60,137.60 L182.60,136.30 L181.60,136.36 L180.60,135.50 L179.60,135.27 L178.60,133.30 L177.60,134.93 L176.60,133.68 L175.60,132.45 L174.60,131.28 L173.60,133.13 L172.60,130.18 L171.60,130.07 L170.60,130.92 L169.60,128.87 L168.60,128.28 L167.60,128.10 L166.60,128.01 L165.60,125.73 L164.60,126.25 L163.60,126.26 L162.60,124.97 L161.60,124.32 L160.60,123.84 L159.60,122.31 L158.60,123.28 L157.60,121.32 L156.60,122.73 L155.60,122.61 L154.60,120.71 L153.60,120.83 L152.60,120.76 L151.60,120.92 L150.60,118.82 L149.60,119.60 L148.60,116.52 L147.60,117.68 L146.60,117.12 L145.60,117.32 L144.60,115.19 L143.60,116.29 L142.60,115.14 L141.60,116.24 L140.60,115.34 L139.60,115.14 L138.60,113.78 L137.60,112.06 L136.60,112.42 L135.60,111.15 L134.60,110.74 L133.60,109.83 L132.60,109.29 L131.60,108.70 L130.60,108.92 L129.60,107.65 L128.60,106.42 L127.60,106.62 L126.60,107.78 L125.60,107.27 L124.60,107.71 L123.60,107.11 L122.60,107.53 L121.60,106.62 L120.60,105.68 L119.60,106.50 L118.60,107.12 L117.60,108.29 L116.60,106.89 L115.60,107.70 L114.60,109.06 L113.60,110.06 L112.60,111.92 L111.60,112.79 L110.60,115.19 L109.60,117.31 L108.60,118.52 L107.60,120.24 L106.60,122.38 L105.60,123.88 L104.60,127.37 L103.60,127.78 L102.60,131.45 L101.60,132.70 L100.60,135.24 L99.60,136.22 L98.60,139.74 L97.60,140.69 L96.60,143.12 L95.60,146.77 L94.60,147.93 L93.60,151.73 L92.60,153.96 L91.60,156.26 L90.60,160.02 L89.60,163.78 L88.60,165.12 L87.60,168.42 L86.60,169.89 L85.60,172.39 L84.60,172.63 L83.60,174.35 L82.60,178.19 L81.60,178.70 L80.60,179.33 L79.60,181.02 L78.60,181.47 L77.60,184.52 L76.60,182.40 L75.60,183.10 L74.60,185.23 L73.60,187.74 L72.60,186.39 L71.60,187.94 L70.60,190.54 L69.60,190.51 L68.60,190.71 L67.60,193.60 L66.60,193.68 L65.60,192.85 L64.60,194.42 L63.60,192.00 L62.60,193.34 L61.60,193.15 L60.60,192.53 L59.60,192.14 L58.60,194.04 L57.60,191.28 L56.60,192.45 L55.60,194.04 L54.60,192.16 L53.60,190.58 L52.60,191.78 L51.60,191.11 L50.60,191.29 L49.60,191.02 L48.60,191.79 L47.60,192.65 L46.60,193.19 L45.60,191.07 L44.60,192.16 L43.60,189.84 L42.60,192.11 L41.60,189.65 L40.60,191.43 L39.60,189.53 L38.60,191.30Z" fill="#ffc0c0" fill-opacity="0.5" stroke="none"/>
<polyline points="38.60,187.28 39.60,187.19 40.60,187.76 41.60,187.44 42.60,188.78 43.60,189.11 44.60,189.10 45.60,188.49 46.60,189.26 47.60,189.08 48.60,189.09 49.60,190.43 50.60,190.64 51.60,189.20 52.60,190.82 53.60,190.67 54.60,190.60 55.60,190.74 56.60,191.71 57.60,191.57 58.60,191.40 59.60,190.01 60.60,187.04 61.60,186.06 62.60,184.36 63.60,182.28 64.60,179.61 65.60,176.55 66.60,174.08 67.60,171.58 68.60,169.95 69.60,165.86 70.60,162.97 71.60,160.88 72.60,156.88 73.60,154.55 74.60,151.96 75.60,149.26 76.60,148.14 77.60,146.66 78.60,143.74 79.60,142.29 80.60,141.14 81.60,139.04 82.60,138.31 83.60,137.10 84.60,134.82 85.60,132.40 86.60,130.74 87.60,127.34 88.60,125.92 89.60,123.66 90.60,122.30 91.60,119.85 92.60,119.36 93.60,116.58 94.60,115.01 95.60,114.30 96.60,112.62 97.60,109.77 98.60,107.78 99.60,105.52 100.60,103.68 101.60,102.46 102.60,100.01 103.60,98.24 104.60,97.14 105.60,94.97 106.60,94.13 107.60,93.02 108.60,91.93 109.60,90.80 110.60,90.06 111.60,89.70 112.60,88.30 113.60,88.66 114.60,87.01 115.60,85.99 116.60,84.74 117.60,84.89 118.60,85.02 119.60,84.82 120.60,85.76 121.60,85.71 122.60,85.47 123.60,86.67 124.60,88.11 125.60,88.22 126.60,89.14 127.60,89.01 128.60,90.51 129.60,91.28 130.60,92.07 131.60,93.06 132.60,94.34 133.60,95.27 134.60,96.18 135.60,96.83 136.60,98.76 137.60,101.40 138.60,102.29 139.60,103.47 140.60,105.25 141.60,108.02 142.60,109.19 143.60,111.37 144.60,113.61 145.60,116.40 146.60,119.52 147.60,120.86 148.60,123.02 149.60,124.79 150.60,126.30 151.60,127.21 152.60,128.68 153.60,129.98 154.60,130.64 155.60,131.17 156.60,132.55 157.60,134.00 158.60,133.71 159.60,134.85 160.60,136.50 161.60,137.62 162.60,138.54 163.60,139.45 164.60,140.86 165.60,141.26 166.60,142.82 167.60,144.09 168.60,144.19 169.60,146.39 170.60,148.43 171.60,151.80 172.60,153.20 173.60,156.56 174.60,157.25 175.60,158.13 176.60,158.72 177.60,158.10 178.60,159.31 179.60,158.97 180.60,160.30 181.60,161.41 182.60,160.73 183.60,161.55 184.60,161.65 185.60,162.39 186.60,162.94 187.60,163.26 188.60,165.30 189.60,165.61 190.60,165.39 191.60,166.36 192.60,166.78 193.60,166.99 194.60,167.32 195.60,168.23 196.60,168.54 197.60,168.55 198.60,169.22 199.60,170.17 200.60,170.61 201.60,170.27 202.60,171.26 203.60,172.01 204.60,172.31 205.60,172.24 206.60,171.55 207.60,172.45 208.60,172.18 209.60,172.43 210.60,173.07 211.60,173.71 212.60,174.53 213.60,174.61 214.60,174.32 215.60,175.30 216.60,175.25 217.60,175.52 218.60,175.36 219.60,175.93 220.60,176.02 221.60,176.94 222.60,176.78 223.60,176.98 224.60,177.30 225.60,177.56 226.60,178.18 227.60,178.50 228.60,178.90 229.60,178.48 230.60,179.41 231.60,179.83" stroke="#ff9a40" stroke-width="1.5" fill="none" stroke-linejoin="round" />
<polyline points="38.60,189.38 39.60,190.43 40.60,190.43 41.60,191.01 42.60,189.96 43.60,190.02 44.60,190.92 45.60,190.88 46.60,190.37 47.60,191.10 48.60,190.70 49.60,191.43 50.60,190.36 51.60,190.58 52.60,191.77 53.60,190.88 54.60,190.75 55.60,191.70 56.60,191.44 57.60,190.66 58.60,191.37 59.60,191.60 60.60,190.78 61.60,191.64 62.60,190.78 63.60,191.18 64.60,190.47 65.60,189.90 66.60,189.93 67.60,187.47 68.60,186.97 69.60,184.55 70.60,183.35 71.60,182.31 72.60,180.50 73.60,178.23 74.60,177.99 75.60,177.26 76.60,175.73 77.60,174.83 78.60,175.40 79.60,173.45 80.60,171.00 81.60,168.97 82.60,166.10 83.60,164.61 84.60,161.61 85.60,158.27 86.60,156.66 87.60,152.44 88.60,149.78 89.60,146.37 90.60,144.51 91.60,140.21 92.60,137.52 93.60,133.33 94.60,130.54 95.60,127.43 96.60,123.79 97.60,120.62 98.60,117.98 99.60,115.48 100.60,113.34 101.60,110.07 102.60,108.43 103.60,106.04 104.60,105.44 105.60,104.07 106.60,101.10 107.60,99.77 108.60,99.32 109.60,97.74 110.60,95.68 111.60,96.84 112.60,98.35 113.60,99.47 114.60,101.25 115.60,103.40 116.60,105.67 117.60,106.13 118.60,107.80 119.60,109.21 120.60,111.61 121.60,113.06 122.60,114.47 123.60,116.47 124.60,117.65 125.60,119.90 126.60,122.97 127.60,124.37 128.60,126.08 129.60,129.41 130.60,130.66 131.60,132.64 132.60,134.14 133.60,135.91 134.60,137.34 135.60,138.73 136.60,141.14 137.60,141.43 138.60,142.70 139.60,144.50 140.60,146.12 141.60,146.07 142.60,147.88 143.60,148.22 144.60,149.55 145.60,150.62 146.60,152.22 147.60,152.92 148.60,153.50 149.60,154.98 150.60,154.97 151.60,155.70 152.60,157.38 153.60,157.37 154.60,158.46 155.60,158.38 156.60,160.10 157.60,160.28 158.60,160.36 159.60,162.22 160.60,162.13 161.60,162.61 162.60,163.18 163.60,163.55 164.60,164.23 165.60,165.44 166.60,164.80 167.60,165.29 168.60,165.91 169.60,166.37 170.60,166.38 171.60,167.36 172.60,166.76 173.60,167.25 174.60,167.64 175.60,167.43 176.60,167.88 177.60,168.05 178.60,169.33 179.60,168.64 180.60,169.83 181.60,169.37 182.60,170.40 183.60,170.71 184.60,170.50 185.60,171.79 186.60,171.62 187.60,171.75 188.60,171.18 189.60,172.10 190.60,172.16 191.60,172.81 192.60,173.90 193.60,174.08 194.60,173.02 195.60,174.37 196.60,175.10 197.60,174.74 198.60,174.28 199.60,175.89 200.60,175.44 201.60,176.69 202.60,176.81 203.60,177.03 204.60,177.51 205.60,176.34 206.60,177.88 207.60,177.31 208.60,177.21 209.60,177.75 210.60,178.21 211.60,177.32 212.60,178.17 213.60,178.84 214.60,178.45 215.60,178.61 216.60,178.31 217.60,179.56 218.60,178.43 219.60,179.30 220.60,179.42 221.60,178.55 222.60,180.49 223.60,179.45 224.60,180.98 225.60,181.13 226.60,181.33 227.60,181.50 228.60,180.98 229.60,181.31 230.60,181.39 231.60,182.52" stroke="#000" stroke-width="1.5" fill="none" stroke-linejoin="round" />
<polyline points="38.60,186.09 39.60,186.53 40.60,186.81 41.60,186.18 42.60,186.22 43.60,187.10 44.60,187.19 45.60,188.37 46.60,188.43 47.60,188.54 48.60,188.73 49.60,189.18 50.60,188.59 51.60,189.40 52.60,189.24 53.60,190.82 54.60,189.69 55.60,191.29 56.60,190.34 57.60,191.40 58.60,190.34 59.60,189.50 60.60,189.09 61.60,186.54 62.60,185.46 63.60,185.77 64.60,183.93 65.60,182.06 66.60,182.44 67.60,181.11 68.60,178.26 69.60,177.18 70.60,175.01 71.60,173.63 72.60,172.48 73.60,170.02 74.60,169.24 75.60,166.46 76.60,164.99 77.60,164.40 78.60,162.02 79.60,159.92 80.60,157.47 81.60,153.87 82.60,150.14 83.60,145.95 84.60,143.56 85.60,140.39 86.60,136.82 87.60,132.71 88.60,128.90 89.60,126.36 90.60,125.10 91.60,123.69 92.60,121.36 93.60,120.19 94.60,119.04 95.60,117.91 96.60,117.04 97.60,115.16 98.60,113.17 99.60,113.51 100.60,111.99 101.60,111.29 102.60,109.93 103.60,109.42 104.60,108.50 105.60,108.30 106.60,106.41 107.60,106.54 108.60,105.38 109.60,105.75 110.60,104.19 111.60,104.50 112.60,104.86 113.60,105.88 114.60,105.41 115.60,106.75 116.60,107.17 117.60,108.35 118.60,109.83 119.60,111.79 120.60,112.12 121.60,114.06 122.60,113.90 123.60,116.43 124.60,116.78 125.60,117.83 126.60,120.12 127.60,121.74 128.60,121.55 129.60,123.29 130.60,125.34 131.60,125.72 132.60,126.61 133.60,127.28 134.60,128.47 135.60,130.73 136.60,132.75 137.60,134.23 138.60,134.82 139.60,135.32 140.60,137.02 141.60,138.90 142.60,140.08 143.60,140.85 144.60,141.25 145.60,142.85 146.60,143.87 147.60,145.22 148.60,145.70 149.60,147.86 150.60,148.66 151.60,148.21 152.60,149.23 153.60,151.01 154.60,150.80 155.60,152.72 156.60,152.79 157.60,153.89 158.60,154.70 159.60,154.66 160.60,155.57 161.60,156.32 162.60,157.84 163.60,158.63 164.60,158.38 165.60,160.30 166.60,160.11 167.60,160.41 168.60,161.34 169.60,162.87 170.60,162.76 171.60,163.47 172.60,164.58 173.60,165.25 174.60,165.51 175.60,165.53 176.60,166.42 177.60,167.56 178.60,167.92 179.60,168.04 180.60,168.06 181.60,168.49 182.60,169.51 183.60,169.61 184.60,169.08 185.60,170.66 186.60,171.39 187.60,171.60 188.60,172.17 189.60,172.59 190.60,172.35 191.60,173.18 192.60,172.87 193.60,172.73 194.60,173.45 195.60,173.64 196.60,174.95 197.60,174.79 198.60,174.79 199.60,175.18 200.60,174.59 201.60,175.54 202.60,176.07 203.60,175.80 204.60,175.81 205.60,176.33 206.60,176.45 207.60,177.30 208.60,176.58 209.60,176.66 210.60,177.20 211.60,178.02 212.60,178.29 213.60,178.28 214.60,178.91 215.60,178.11 216.60,177.70 217.60,178.64 218.60,178.73 219.60,178.44 220.60,179.43 221.60,179.04 222.60,179.03 223.60,179.34 224.60,180.55 225.60,179.12 226.60,179.89 227.60,179.91 228.60,179.94 229.60,180.50 230.60,180.30 231.60,181.57" stroke="#5599ee" stroke-width="1.5" fill="none" stroke-linejoin="round" />
<polyline points="38.60,184.37 39.60,184.80 40.60,185.92 41.60,185.64 42.60,186.21 43.60,186.85 44.60,186.56 45.60,187.41 46.60,187.80 47.60,188.27 48.60,187.28 49.60,187.82 50.60,187.65 51.60,189.14 52.60,189.31 53.60,188.67 54.60,190.77 55.60,191.24 56.60,191.21 57.60,191.40 58.60,190.44 59.60,189.38 60.60,189.04 61.60,186.81 62.60,185.61 63.60,184.26 64.60,182.47 65.60,181.78 66.60,180.30 67.60,179.47 68.60,177.27 69.60,175.68 70.60,173.59 71.60,172.01 72.60,169.81 73.60,167.66 74.60,167.03 75.60,165.18 76.60,163.08 77.60,161.04 78.60,158.58 79.60,156.64 80.60,154.94 81.60,152.78 82.60,152.17 83.60,149.55 84.60,147.98 85.60,144.53 86.60,142.70 87.60,139.71 88.60,135.47 89.60,133.02 90.60,131.33 91.60,127.62 92.60,125.47 93.60,121.46 94.60,118.15 95.60,116.77 96.60,115.14 97.60,112.57 98.60,110.55 99.60,109.26 100.60,108.63 101.60,106.57 102.60,103.74 103.60,102.11 104.60,99.92 105.60,97.85 106.60,97.10 107.60,94.15 108.60,93.83 109.60,93.62 110.60,93.95 111.60,95.29 112.60,94.37 113.60,95.07 114.60,94.31 115.60,95.42 116.60,96.10 117.60,97.38 118.60,99.76 119.60,100.70 120.60,101.08 121.60,103.30 122.60,103.52 123.60,105.45 124.60,108.10 125.60,109.74 126.60,110.82 127.60,114.13 128.60,114.37 129.60,115.76 130.60,117.89 131.60,118.38 132.60,119.48 133.60,120.17 134.60,121.42 135.60,123.82 136.60,125.17 137.60,127.85 138.60,129.48 139.60,131.43 140.60,133.88 141.60,134.42 142.60,135.72 143.60,137.16 144.60,136.79 145.60,137.53 146.60,139.61 147.60,140.25 148.60,140.08 149.60,140.74 150.60,142.41 151.60,143.45 152.60,142.88 153.60,144.86 154.60,145.44 155.60,145.67 156.60,146.06 157.60,146.22 158.60,146.80 159.60,149.07 160.60,148.54 161.60,150.03 162.60,149.97 163.60,151.59 164.60,151.77 165.60,151.71 166.60,151.92 167.60,153.25 168.60,152.55 169.60,153.22 170.60,154.19 171.60,155.09 172.60,155.09 173.60,154.93 174.60,156.41 175.60,155.60 176.60,155.69 177.60,156.52 178.60,157.20 179.60,156.89 180.60,157.39 181.60,158.02 182.60,158.67 183.60,158.22 184.60,158.91 185.60,160.11 186.60,160.57 187.60,160.32 188.60,160.68 189.60,160.80 190.60,160.34 191.60,160.47 192.60,160.73 193.60,162.51 194.60,162.38 195.60,163.02 196.60,161.62 197.60,162.87 198.60,162.80 199.60,163.42 200.60,162.92 201.60,164.28 202.60,162.91 203.60,163.90 204.60,164.43 205.60,164.90 206.60,164.82 207.60,164.95 208.60,165.26 209.60,165.60 210.60,164.76 211.60,165.45 212.60,165.93 213.60,166.00 214.60,165.35 215.60,166.11 216.60,166.35 217.60,165.98 218.60,166.19 219.60,165.90 220.60,166.36 221.60,166.52 222.60,165.74 223.60,166.81 224.60,167.54 225.60,167.46 226.60,167.33 227.60,166.87 228.60,167.58 229.60,167.44 230.60,167.32 231.60,168.05" stroke="#c000c8" stroke-width="1.5" fill="none" stroke-linejoin="round" />
<polyline points="38.60,182.90 39.60,183.94 40.60,184.56 41.60,185.47 42.60,184.97 43.60,185.67 44.60,186.08 45.60,186.66 46.60,187.85 47.60,187.11 48.60,188.08 49.60,187.83 50.60,188.25 51.60,188.80 52.60,189.84 53.60,189.85 54.60,189.26 55.60,190.12 56.60,190.32 57.60,191.67 58.60,191.20 59.60,190.34 60.60,189.32 61.60,188.14 62.60,187.43 63.60,186.12 64.60,184.16 65.60,184.11 66.60,182.45 67.60,181.74 68.60,180.07 69.60,178.31 70.60,176.59 71.60,175.09 72.60,173.28 73.60,171.34 74.60,170.92 75.60,169.28 76.60,167.98 77.60,165.84 78.60,163.97 79.60,162.66 80.60,159.97 81.60,159.25 82.60,157.21 83.60,155.12 84.60,153.55 85.60,152.49 86.60,150.44 87.60,149.20 88.60,147.86 89.60,145.91 90.60,143.87 91.60,142.89 92.60,140.75 93.60,138.88 94.60,136.79 95.60,135.03 96.60,132.49 97.60,131.42 98.60,129.88 99.60,126.88 100.60,125.56 101.60,124.30 102.60,121.42 103.60,120.29 104.60,120.12 105.60,118.88 106.60,117.25 107.60,115.14 108.60,114.33 109.60,113.97 110.60,112.96 111.60,111.82 112.60,109.80 113.60,110.15 114.60,108.86 115.60,109.24 116.60,108.09 117.60,109.33 118.60,108.54 119.60,108.57 120.60,107.51 121.60,107.98 122.60,107.67 123.60,107.45 124.60,106.81 125.60,107.19 126.60,106.29 127.60,105.96 128.60,105.50 129.60,106.26 130.60,105.41 131.60,105.97 132.60,106.19 133.60,107.66 134.60,107.94 135.60,108.27 136.60,107.69 137.60,108.63 138.60,108.74 139.60,108.67 140.60,108.96 141.60,111.15 142.60,110.16 143.60,110.96 144.60,111.41 145.60,112.47 146.60,112.08 147.60,113.25 148.60,113.57 149.60,114.79 150.60,113.71 151.60,114.53 152.60,115.05 153.60,116.11 154.60,115.60 155.60,115.78 156.60,116.36 157.60,115.98 158.60,115.78 159.60,116.84 160.60,117.79 161.60,117.75 162.60,117.18 163.60,118.12 164.60,118.53 165.60,117.56 166.60,118.10 167.60,117.68 168.60,117.47 169.60,117.53 170.60,117.37 171.60,117.59 172.60,117.04 173.60,117.63 174.60,117.08 175.60,118.20 176.60,117.91 177.60,116.88 178.60,118.23 179.60,117.37 180.60,118.06 181.60,118.41 182.60,118.25 183.60,118.39 184.60,118.86 185.60,118.57 186.60,120.03 187.60,118.97 188.60,120.40 189.60,119.59 190.60,119.95 191.60,120.32 192.60,119.92 193.60,120.25 194.60,120.78 195.60,121.01 196.60,121.85 197.60,122.14 198.60,120.62 199.60,121.55 200.60,120.96 201.60,122.20 202.60,121.48 203.60,122.55 204.60,122.05 205.60,121.43 206.60,121.32 207.60,121.83 208.60,122.98 209.60,121.85 210.60,122.50 211.60,122.41 212.60,122.45 213.60,123.32 214.60,122.41 215.60,123.36 216.60,123.29 217.60,123.66 218.60,122.78 219.60,123.27 220.60,122.25 221.60,122.28 222.60,122.17 223.60,122.34 224.60,122.25 225.60,120.72 226.60,120.56 227.60,121.04 228.60,121.32 229.60,120.65 230.60,120.05 231.60,121.08" stroke="#0000ff" stroke-width="1.5" fill="none" stroke-linejoin="round" />
<polyline points="38.60,190.83 39.60,189.26 40.60,190.58 41.60,189.68 42.60,191.18 43.60,189.62 44.60,191.17 45.60,190.92 46.60,191.31 47.60,191.64 48.60,190.43 49.60,190.69 50.60,191.39 51.60,190.73 52.60,190.77 53.60,190.78 54.60,191.91 55.60,192.01 56.60,191.95 57.60,191.04 58.60,192.30 59.60,191.66 60.60,191.25 61.60,191.70 62.60,191.70 63.60,191.19 64.60,191.83 65.60,190.86 66.60,190.17 67.60,189.57 68.60,187.87 69.60,186.25 70.60,185.81 71.60,184.82 72.60,182.74 73.60,182.36 74.60,179.70 75.60,178.89 76.60,177.94 77.60,178.24 78.60,176.82 79.60,175.87 80.60,173.97 81.60,172.82 82.60,171.66 83.60,168.32 84.60,166.35 85.60,164.23 86.60,162.95 87.60,161.51 88.60,158.61 89.60,155.59 90.60,152.75 91.60,149.30 92.60,147.84 93.60,144.17 94.60,141.31 95.60,138.78 96.60,137.00 97.60,133.50 98.60,132.09 99.60,128.94 100.60,127.14 101.60,124.53 102.60,123.96 103.60,121.80 104.60,119.34 105.60,116.87 106.60,115.70 107.60,113.70 108.60,112.67 109.60,111.02 110.60,108.93 111.60,106.40 112.60,104.23 113.60,103.94 114.60,102.65 115.60,100.49 116.60,100.77 117.60,100.61 118.60,101.31 119.60,99.59 120.60,99.49 121.60,100.69 122.60,100.15 123.60,100.02 124.60,100.74 125.60,100.68 126.60,101.09 127.60,100.60 128.60,100.55 129.60,100.67 130.60,101.47 131.60,102.29 132.60,102.27 133.60,102.82 134.60,103.99 135.60,104.82 136.60,105.28 137.60,105.43 138.60,106.92 139.60,107.45 140.60,108.10 141.60,108.54 142.60,107.49 143.60,109.04 144.60,108.94 145.60,109.45 146.60,110.11 147.60,109.91 148.60,110.53 149.60,112.25 150.60,111.61 151.60,113.10 152.60,113.21 153.60,113.09 154.60,113.59 155.60,114.58 156.60,115.24 157.60,115.13 158.60,115.15 159.60,115.84 160.60,117.51 161.60,117.79 162.60,117.23 163.60,118.99 164.60,119.12 165.60,119.33 166.60,120.93 167.60,120.28 168.60,120.88 169.60,121.95 170.60,123.27 171.60,123.60 172.60,124.14 173.60,125.51 174.60,125.29 175.60,126.61 176.60,125.93 177.60,127.90 178.60,127.39 179.60,128.68 180.60,129.32 181.60,129.31 182.60,129.48 183.60,129.73 184.60,130.38 185.60,130.03 186.60,130.10 187.60,130.95 188.60,131.19 189.60,130.80 190.60,131.81 191.60,132.00 192.60,131.76 193.60,132.94 194.60,133.25 195.60,132.64 196.60,133.68 197.60,134.03 198.60,133.62 199.60,133.34 200.60,133.25 201.60,133.15 202.60,133.54 203.60,134.92 204.60,133.46 205.60,135.06 206.60,134.83 207.60,135.16 208.60,134.23 209.60,135.45 210.60,135.02 211.60,136.14 212.60,136.65 213.60,136.85 214.60,136.85 215.60,137.76 216.60,136.96 217.60,137.15 218.60,138.67 219.60,137.61 220.60,138.52 221.60,138.82 222.60,139.88 223.60,139.32 224.60,139.94 225.60,140.12 226.60,140.37 227.60,140.65 228.60,140.93 229.60,141.44 230.60,141.45 231.60,141.58" stroke="#ff0000" stroke-width="1.5" fill="none" stroke-linejoin="round" />
<line x1="38.60" y1="38.60" x2="38.60" y2="198.00" stroke="#000" stroke-width="1.6" />
<line x1="33.20" y1="192.20" x2="232.40" y2="192.20" stroke="#000" stroke-width="1.6" />
<line x1="33.20" y1="192.20" x2="38.60" y2="192.20" stroke="#000" stroke-width="1.5" />
<text x="31.90" y="195.30" font-size="8.75" text-anchor="end" fill="#111" font-weight="normal" font-style="normal" >0</text>
<line x1="33.20" y1="136.50" x2="38.60" y2="136.50" stroke="#000" stroke-width="1.5" />
<text x="31.90" y="139.60" font-size="8.75" text-anchor="end" fill="#111" font-weight="normal" font-style="normal" >20</text>
<line x1="33.20" y1="80.70" x2="38.60" y2="80.70" stroke="#000" stroke-width="1.5" />
<text x="31.90" y="83.80" font-size="8.75" text-anchor="end" fill="#111" font-weight="normal" font-style="normal" >40</text>
<line x1="86.80" y1="192.20" x2="86.80" y2="197.60" stroke="#000" stroke-width="1.5" />
<text x="86.80" y="207.20" font-size="8.75" text-anchor="middle" fill="#111" font-weight="normal" font-style="normal" >50</text>
<line x1="135.20" y1="192.20" x2="135.20" y2="197.60" stroke="#000" stroke-width="1.5" />
<text x="135.20" y="207.20" font-size="8.75" text-anchor="middle" fill="#111" font-weight="normal" font-style="normal" >100</text>
<line x1="183.50" y1="192.20" x2="183.50" y2="197.60" stroke="#000" stroke-width="1.5" />
<text x="183.50" y="207.20" font-size="8.75" text-anchor="middle" fill="#111" font-weight="normal" font-style="normal" >150</text>
<line x1="232.00" y1="192.20" x2="232.00" y2="197.60" stroke="#000" stroke-width="1.5" />
<text x="232.00" y="207.20" font-size="8.75" text-anchor="middle" fill="#111" font-weight="normal" font-style="normal" >200</text>
<text x="159.60" y="217.60" font-size="10.6" text-anchor="middle" fill="#111" font-weight="normal" font-style="normal" >Time (s)</text>
<text transform="translate(16.80,121.60) rotate(-90)" font-size="10.55" text-anchor="middle" fill="#111">GCaMP5 (&#916;F/F<tspan font-size="70%" dy="1.5">o</tspan><tspan dy="-1.5">, %)</tspan></text>
<text x="243.40" y="14.40" font-size="20" text-anchor="start" fill="#000" font-weight="normal" font-style="normal" >b</text>
<path d="M305.20,13.40 L305.20,11.60 L403.90,11.60 L403.90,13.40" fill="none" stroke="#241616" stroke-width="1.35"/>
<path d="M332.10,3.65 L332.10,9.15 M329.72,5.03 L334.48,7.78 M334.48,5.03 L329.72,7.78 " stroke="#0a0a0a" stroke-width="1.35" fill="none"/>
<path d="M339.40,3.65 L339.40,9.15 M337.02,5.03 L341.78,7.78 M341.78,5.03 L337.02,7.78 " stroke="#0a0a0a" stroke-width="1.35" fill="none"/>
<path d="M346.70,3.65 L346.70,9.15 M344.32,5.03 L349.08,7.78 M349.08,5.03 L344.32,7.78 " stroke="#0a0a0a" stroke-width="1.35" fill="none"/>
<text x="354.00" y="9.10" font-size="8" fill="#222" text-anchor="start"><tspan font-style="italic">p</tspan>&lt;0.001</text>
<path d="M334.60,26.60 L334.60,24.60 L379.20,24.60 L379.20,26.60" fill="none" stroke="#241616" stroke-width="1.35"/>
<path d="M333.50,16.05 L333.50,21.55 M331.12,17.43 L335.88,20.18 M335.88,17.43 L331.12,20.18 " stroke="#0a0a0a" stroke-width="1.35" fill="none"/>
<path d="M340.80,16.05 L340.80,21.55 M338.42,17.43 L343.18,20.18 M343.18,17.43 L338.42,20.18 " stroke="#0a0a0a" stroke-width="1.35" fill="none"/>
<path d="M348.10,16.05 L348.10,21.55 M345.72,17.43 L350.48,20.18 M350.48,17.43 L345.72,20.18 " stroke="#0a0a0a" stroke-width="1.35" fill="none"/>
<text x="354.90" y="21.40" font-size="8" fill="#222" text-anchor="start"><tspan font-style="italic">p</tspan>&lt;0.001</text>
<path d="M334.60,38.20 L334.60,36.40 L358.70,36.40 L358.70,38.20" fill="none" stroke="#241616" stroke-width="1.35"/>
<path d="M339.70,28.55 L339.70,34.05 M337.32,29.93 L342.08,32.67 M342.08,29.93 L337.32,32.67 " stroke="#0a0a0a" stroke-width="1.35" fill="none"/>
<text x="345.00" y="33.90" font-size="8" fill="#222" text-anchor="start"><tspan font-style="italic">p</tspan>=0.038</text>
<path d="M305.20,48.10 L305.20,46.10 L335.50,46.10 L335.50,48.10" fill="none" stroke="#241616" stroke-width="1.35"/>
<path d="M312.60,37.65 L312.60,43.15 M310.22,39.02 L314.98,41.77 M314.98,39.02 L310.22,41.77 " stroke="#0a0a0a" stroke-width="1.35" fill="none"/>
<path d="M319.90,37.65 L319.90,43.15 M317.52,39.02 L322.28,41.77 M322.28,39.02 L317.52,41.77 " stroke="#0a0a0a" stroke-width="1.35" fill="none"/>
<path d="M327.20,37.65 L327.20,43.15 M324.82,39.02 L329.58,41.77 M329.58,39.02 L324.82,41.77 " stroke="#0a0a0a" stroke-width="1.35" fill="none"/>
<text x="338.40" y="49.10" font-size="8" fill="#222" text-anchor="start"><tspan font-style="italic">p</tspan>&lt;0.001</text>
<path d="M403.00,68.00 L403.00,66.20 L428.00,66.20 L428.00,68.00" fill="none" stroke="#241616" stroke-width="1.35"/>
<path d="M416.30,56.85 L416.30,62.35 M413.92,58.23 L418.68,60.98 M418.68,58.23 L413.92,60.98 " stroke="#0a0a0a" stroke-width="1.35" fill="none"/>
<text x="401.00" y="53.90" font-size="8" fill="#222" text-anchor="start"><tspan font-style="italic">p</tspan>=0.0111</text>
<rect x="300.70" y="139.81" width="16.50" height="9.89" fill="#d6d6d6" stroke="#000" stroke-width="1.8" />
<circle cx="308.95" cy="187.85" r="1.9" fill="#fff" fill-opacity="0.6" stroke="#9a9a9a" stroke-width="0.8"/>
<circle cx="308.95" cy="175.76" r="1.9" fill="#fff" fill-opacity="0.6" stroke="#9a9a9a" stroke-width="0.8"/>
<circle cx="311.95" cy="173.72" r="1.9" fill="#fff" fill-opacity="0.6" stroke="#9a9a9a" stroke-width="0.8"/>
<circle cx="308.95" cy="169.32" r="1.9" fill="#fff" fill-opacity="0.6" stroke="#9a9a9a" stroke-width="0.8"/>
<circle cx="312.45" cy="169.32" r="1.9" fill="#fff" fill-opacity="0.6" stroke="#9a9a9a" stroke-width="0.8"/>
<circle cx="305.45" cy="168.23" r="1.9" fill="#fff" fill-opacity="0.6" stroke="#9a9a9a" stroke-width="0.8"/>
<circle cx="308.95" cy="156.76" r="1.9" fill="#fff" fill-opacity="0.6" stroke="#9a9a9a" stroke-width="0.8"/>
<circle cx="312.45" cy="156.14" r="1.9" fill="#fff" fill-opacity="0.6" stroke="#9a9a9a" stroke-width="0.8"/>
<circle cx="308.95" cy="152.84" r="1.9" fill="#fff" fill-opacity="0.6" stroke="#9a9a9a" stroke-width="0.8"/>
<circle cx="312.45" cy="152.05" r="1.9" fill="#fff" fill-opacity="0.6" stroke="#9a9a9a" stroke-width="0.8"/>
<circle cx="305.45" cy="151.74" r="1.9" fill="#fff" fill-opacity="0.6" stroke="#9a9a9a" stroke-width="0.8"/>
<circle cx="308.95" cy="148.91" r="1.9" fill="#fff" fill-opacity="0.6" stroke="#9a9a9a" stroke-width="0.8"/>
<circle cx="312.45" cy="147.50" r="1.9" fill="#fff" fill-opacity="0.6" stroke="#9a9a9a" stroke-width="0.8"/>
<circle cx="306.45" cy="146.56" r="1.9" fill="#fff" fill-opacity="0.6" stroke="#9a9a9a" stroke-width="0.8"/>
<circle cx="308.95" cy="144.20" r="1.9" fill="#fff" fill-opacity="0.6" stroke="#9a9a9a" stroke-width="0.8"/>
<circle cx="312.45" cy="142.63" r="1.9" fill="#fff" fill-opacity="0.6" stroke="#9a9a9a" stroke-width="0.8"/>
<circle cx="307.45" cy="141.06" r="1.9" fill="#fff" fill-opacity="0.6" stroke="#9a9a9a" stroke-width="0.8"/>
<circle cx="303.95" cy="140.28" r="1.9" fill="#fff" fill-opacity="0.6" stroke="#9a9a9a" stroke-width="0.8"/>
<circle cx="309.95" cy="138.71" r="1.9" fill="#fff" fill-opacity="0.6" stroke="#9a9a9a" stroke-width="0.8"/>
<circle cx="306.95" cy="136.67" r="1.9" fill="#fff" fill-opacity="0.6" stroke="#9a9a9a" stroke-width="0.8"/>
<circle cx="311.45" cy="135.57" r="1.9" fill="#fff" fill-opacity="0.6" stroke="#9a9a9a" stroke-width="0.8"/>
<circle cx="304.45" cy="134.00" r="1.9" fill="#fff" fill-opacity="0.6" stroke="#9a9a9a" stroke-width="0.8"/>
<circle cx="308.45" cy="133.37" r="1.9" fill="#fff" fill-opacity="0.6" stroke="#9a9a9a" stroke-width="0.8"/>
<circle cx="310.45" cy="130.55" r="1.9" fill="#fff" fill-opacity="0.6" stroke="#9a9a9a" stroke-width="0.8"/>
<circle cx="307.95" cy="127.88" r="1.9" fill="#fff" fill-opacity="0.6" stroke="#9a9a9a" stroke-width="0.8"/>
<circle cx="312.45" cy="127.72" r="1.9" fill="#fff" fill-opacity="0.6" stroke="#9a9a9a" stroke-width="0.8"/>
<circle cx="308.95" cy="124.58" r="1.9" fill="#fff" fill-opacity="0.6" stroke="#9a9a9a" stroke-width="0.8"/>
<circle cx="312.45" cy="123.01" r="1.9" fill="#fff" fill-opacity="0.6" stroke="#9a9a9a" stroke-width="0.8"/>
<circle cx="307.95" cy="121.28" r="1.9" fill="#fff" fill-opacity="0.6" stroke="#9a9a9a" stroke-width="0.8"/>
<circle cx="308.95" cy="117.04" r="1.9" fill="#fff" fill-opacity="0.6" stroke="#9a9a9a" stroke-width="0.8"/>
<circle cx="312.45" cy="116.73" r="1.9" fill="#fff" fill-opacity="0.6" stroke="#9a9a9a" stroke-width="0.8"/>
<circle cx="305.45" cy="115.94" r="1.9" fill="#fff" fill-opacity="0.6" stroke="#9a9a9a" stroke-width="0.8"/>
<circle cx="314.95" cy="114.38" r="1.9" fill="#fff" fill-opacity="0.6" stroke="#9a9a9a" stroke-width="0.8"/>
<circle cx="308.95" cy="112.02" r="1.9" fill="#fff" fill-opacity="0.6" stroke="#9a9a9a" stroke-width="0.8"/>
<circle cx="312.45" cy="110.45" r="1.9" fill="#fff" fill-opacity="0.6" stroke="#9a9a9a" stroke-width="0.8"/>
<circle cx="307.95" cy="108.72" r="1.9" fill="#fff" fill-opacity="0.6" stroke="#9a9a9a" stroke-width="0.8"/>
<circle cx="308.95" cy="104.33" r="1.9" fill="#fff" fill-opacity="0.6" stroke="#9a9a9a" stroke-width="0.8"/>
<circle cx="312.45" cy="104.17" r="1.9" fill="#fff" fill-opacity="0.6" stroke="#9a9a9a" stroke-width="0.8"/>
<circle cx="305.95" cy="102.13" r="1.9" fill="#fff" fill-opacity="0.6" stroke="#9a9a9a" stroke-width="0.8"/>
<circle cx="308.95" cy="83.13" r="1.9" fill="#fff" fill-opacity="0.6" stroke="#9a9a9a" stroke-width="0.8"/>
<line x1="308.95" y1="135.20" x2="308.95" y2="143.20" stroke="#000" stroke-width="1.3" />
<line x1="305.45" y1="135.20" x2="312.45" y2="135.20" stroke="#000" stroke-width="1.4" />
<line x1="305.45" y1="143.20" x2="312.45" y2="143.20" stroke="#000" stroke-width="1.4" />
<text x="308.95" y="157.50" font-size="8.3" text-anchor="middle" fill="#2d4fa8" font-weight="normal" font-style="normal" >40</text>
<rect x="326.70" y="109.98" width="16.40" height="39.72" fill="#c6c6f6" stroke="#0000ff" stroke-width="1.8" />
<circle cx="334.90" cy="158.33" r="1.9" fill="#fff" fill-opacity="0.6" stroke="#9a9a9a" stroke-width="0.8"/>
<circle cx="334.90" cy="152.84" r="1.9" fill="#fff" fill-opacity="0.6" stroke="#9a9a9a" stroke-width="0.8"/>
<circle cx="334.90" cy="148.13" r="1.9" fill="#fff" fill-opacity="0.6" stroke="#9a9a9a" stroke-width="0.8"/>
<circle cx="334.90" cy="144.20" r="1.9" fill="#fff" fill-opacity="0.6" stroke="#9a9a9a" stroke-width="0.8"/>
<circle cx="338.40" cy="144.20" r="1.9" fill="#fff" fill-opacity="0.6" stroke="#9a9a9a" stroke-width="0.8"/>
<circle cx="336.40" cy="141.06" r="1.9" fill="#fff" fill-opacity="0.6" stroke="#9a9a9a" stroke-width="0.8"/>
<circle cx="332.90" cy="141.06" r="1.9" fill="#fff" fill-opacity="0.6" stroke="#9a9a9a" stroke-width="0.8"/>
<circle cx="334.90" cy="136.67" r="1.9" fill="#fff" fill-opacity="0.6" stroke="#9a9a9a" stroke-width="0.8"/>
<circle cx="338.40" cy="136.67" r="1.9" fill="#fff" fill-opacity="0.6" stroke="#9a9a9a" stroke-width="0.8"/>
<circle cx="332.40" cy="134.00" r="1.9" fill="#fff" fill-opacity="0.6" stroke="#9a9a9a" stroke-width="0.8"/>
<circle cx="340.90" cy="134.00" r="1.9" fill="#fff" fill-opacity="0.6" stroke="#9a9a9a" stroke-width="0.8"/>
<circle cx="334.90" cy="130.07" r="1.9" fill="#fff" fill-opacity="0.6" stroke="#9a9a9a" stroke-width="0.8"/>
<circle cx="338.40" cy="130.07" r="1.9" fill="#fff" fill-opacity="0.6" stroke="#9a9a9a" stroke-width="0.8"/>
<circle cx="335.90" cy="126.78" r="1.9" fill="#fff" fill-opacity="0.6" stroke="#9a9a9a" stroke-width="0.8"/>
<circle cx="332.40" cy="126.78" r="1.9" fill="#fff" fill-opacity="0.6" stroke="#9a9a9a" stroke-width="0.8"/>
<circle cx="338.90" cy="124.58" r="1.9" fill="#fff" fill-opacity="0.6" stroke="#9a9a9a" stroke-width="0.8"/>
<circle cx="329.40" cy="124.58" r="1.9" fill="#fff" fill-opacity="0.6" stroke="#9a9a9a" stroke-width="0.8"/>
<circle cx="334.90" cy="120.18" r="1.9" fill="#fff" fill-opacity="0.6" stroke="#9a9a9a" stroke-width="0.8"/>
<circle cx="338.40" cy="120.18" r="1.9" fill="#fff" fill-opacity="0.6" stroke="#9a9a9a" stroke-width="0.8"/>
<circle cx="331.90" cy="118.30" r="1.9" fill="#fff" fill-opacity="0.6" stroke="#9a9a9a" stroke-width="0.8"/>
<circle cx="334.90" cy="113.75" r="1.9" fill="#fff" fill-opacity="0.6" stroke="#9a9a9a" stroke-width="0.8"/>
<circle cx="338.40" cy="113.75" r="1.9" fill="#fff" fill-opacity="0.6" stroke="#9a9a9a" stroke-width="0.8"/>
<circle cx="334.90" cy="108.25" r="1.9" fill="#fff" fill-opacity="0.6" stroke="#9a9a9a" stroke-width="0.8"/>
<circle cx="338.40" cy="108.25" r="1.9" fill="#fff" fill-opacity="0.6" stroke="#9a9a9a" stroke-width="0.8"/>
<circle cx="334.90" cy="103.86" r="1.9" fill="#fff" fill-opacity="0.6" stroke="#9a9a9a" stroke-width="0.8"/>
<circle cx="338.40" cy="103.86" r="1.9" fill="#fff" fill-opacity="0.6" stroke="#9a9a9a" stroke-width="0.8"/>
<circle cx="334.90" cy="96.32" r="1.9" fill="#fff" fill-opacity="0.6" stroke="#9a9a9a" stroke-width="0.8"/>
<circle cx="338.40" cy="96.32" r="1.9" fill="#fff" fill-opacity="0.6" stroke="#9a9a9a" stroke-width="0.8"/>
<circle cx="335.90" cy="93.02" r="1.9" fill="#fff" fill-opacity="0.6" stroke="#9a9a9a" stroke-width="0.8"/>
<circle cx="334.90" cy="82.50" r="1.9" fill="#fff" fill-opacity="0.6" stroke="#9a9a9a" stroke-width="0.8"/>
<circle cx="338.40" cy="82.50" r="1.9" fill="#fff" fill-opacity="0.6" stroke="#9a9a9a" stroke-width="0.8"/>
<circle cx="331.40" cy="82.50" r="1.9" fill="#fff" fill-opacity="0.6" stroke="#9a9a9a" stroke-width="0.8"/>
<circle cx="341.90" cy="80.93" r="1.9" fill="#fff" fill-opacity="0.6" stroke="#9a9a9a" stroke-width="0.8"/>
<circle cx="328.90" cy="79.83" r="1.9" fill="#fff" fill-opacity="0.6" stroke="#9a9a9a" stroke-width="0.8"/>
<circle cx="334.90" cy="71.20" r="1.9" fill="#fff" fill-opacity="0.6" stroke="#9a9a9a" stroke-width="0.8"/>
<circle cx="334.90" cy="50.48" r="1.9" fill="#fff" fill-opacity="0.6" stroke="#9a9a9a" stroke-width="0.8"/>
<line x1="334.90" y1="103.10" x2="334.90" y2="117.10" stroke="#0000ff" stroke-width="1.3" />
<line x1="331.40" y1="103.10" x2="338.40" y2="103.10" stroke="#0000ff" stroke-width="1.4" />
<line x1="331.40" y1="117.10" x2="338.40" y2="117.10" stroke="#0000ff" stroke-width="1.4" />
<text x="334.90" y="157.50" font-size="8.3" text-anchor="middle" fill="#2d4fa8" font-weight="normal" font-style="normal" >36</text>
<rect x="348.10" y="132.59" width="16.40" height="17.11" fill="#f4c6f2" stroke="#c000c8" stroke-width="1.8" />
<circle cx="358.11" cy="184.55" r="1.9" fill="#fff" fill-opacity="0.6" stroke="#9a9a9a" stroke-width="0.8"/>
<circle cx="350.13" cy="168.23" r="1.9" fill="#fff" fill-opacity="0.6" stroke="#9a9a9a" stroke-width="0.8"/>
<circle cx="353.38" cy="162.73" r="1.9" fill="#fff" fill-opacity="0.6" stroke="#9a9a9a" stroke-width="0.8"/>
<circle cx="352.70" cy="156.14" r="1.9" fill="#fff" fill-opacity="0.6" stroke="#9a9a9a" stroke-width="0.8"/>
<circle cx="359.37" cy="149.70" r="1.9" fill="#fff" fill-opacity="0.6" stroke="#9a9a9a" stroke-width="0.8"/>
<circle cx="358.60" cy="145.30" r="1.9" fill="#fff" fill-opacity="0.6" stroke="#9a9a9a" stroke-width="0.8"/>
<circle cx="361.40" cy="138.87" r="1.9" fill="#fff" fill-opacity="0.6" stroke="#9a9a9a" stroke-width="0.8"/>
<circle cx="350.93" cy="138.87" r="1.9" fill="#fff" fill-opacity="0.6" stroke="#9a9a9a" stroke-width="0.8"/>
<circle cx="355.28" cy="134.47" r="1.9" fill="#fff" fill-opacity="0.6" stroke="#9a9a9a" stroke-width="0.8"/>
<circle cx="350.19" cy="134.47" r="1.9" fill="#fff" fill-opacity="0.6" stroke="#9a9a9a" stroke-width="0.8"/>
<circle cx="352.64" cy="130.07" r="1.9" fill="#fff" fill-opacity="0.6" stroke="#9a9a9a" stroke-width="0.8"/>
<circle cx="356.37" cy="130.07" r="1.9" fill="#fff" fill-opacity="0.6" stroke="#9a9a9a" stroke-width="0.8"/>
<circle cx="350.14" cy="126.78" r="1.9" fill="#fff" fill-opacity="0.6" stroke="#9a9a9a" stroke-width="0.8"/>
<circle cx="352.38" cy="112.65" r="1.9" fill="#fff" fill-opacity="0.6" stroke="#9a9a9a" stroke-width="0.8"/>
<circle cx="358.25" cy="87.53" r="1.9" fill="#fff" fill-opacity="0.6" stroke="#9a9a9a" stroke-width="0.8"/>
<circle cx="352.67" cy="85.96" r="1.9" fill="#fff" fill-opacity="0.6" stroke="#9a9a9a" stroke-width="0.8"/>
<circle cx="357.46" cy="70.10" r="1.9" fill="#fff" fill-opacity="0.6" stroke="#9a9a9a" stroke-width="0.8"/>
<line x1="356.30" y1="125.10" x2="356.30" y2="139.30" stroke="#c000c8" stroke-width="1.3" />
<line x1="352.80" y1="125.10" x2="359.80" y2="125.10" stroke="#c000c8" stroke-width="1.4" />
<line x1="352.80" y1="139.30" x2="359.80" y2="139.30" stroke="#c000c8" stroke-width="1.4" />
<text x="356.30" y="157.50" font-size="8.3" text-anchor="middle" fill="#2d4fa8" font-weight="normal" font-style="normal" >17</text>
<rect x="369.70" y="140.28" width="16.30" height="9.42" fill="#cfe2f8" stroke="#5aa0f0" stroke-width="1.8" />
<circle cx="381.87" cy="168.07" r="1.9" fill="#fff" fill-opacity="0.6" stroke="#9a9a9a" stroke-width="0.8"/>
<circle cx="371.43" cy="163.67" r="1.9" fill="#fff" fill-opacity="0.6" stroke="#9a9a9a" stroke-width="0.8"/>
<circle cx="381.83" cy="163.67" r="1.9" fill="#fff" fill-opacity="0.6" stroke="#9a9a9a" stroke-width="0.8"/>
<circle cx="380.43" cy="158.33" r="1.9" fill="#fff" fill-opacity="0.6" stroke="#9a9a9a" stroke-width="0.8"/>
<circle cx="375.77" cy="151.74" r="1.9" fill="#fff" fill-opacity="0.6" stroke="#9a9a9a" stroke-width="0.8"/>
<circle cx="383.79" cy="151.74" r="1.9" fill="#fff" fill-opacity="0.6" stroke="#9a9a9a" stroke-width="0.8"/>
<circle cx="375.73" cy="147.34" r="1.9" fill="#fff" fill-opacity="0.6" stroke="#9a9a9a" stroke-width="0.8"/>
<circle cx="382.37" cy="147.34" r="1.9" fill="#fff" fill-opacity="0.6" stroke="#9a9a9a" stroke-width="0.8"/>
<circle cx="379.20" cy="144.20" r="1.9" fill="#fff" fill-opacity="0.6" stroke="#9a9a9a" stroke-width="0.8"/>
<circle cx="384.00" cy="144.20" r="1.9" fill="#fff" fill-opacity="0.6" stroke="#9a9a9a" stroke-width="0.8"/>
<circle cx="376.27" cy="140.91" r="1.9" fill="#fff" fill-opacity="0.6" stroke="#9a9a9a" stroke-width="0.8"/>
<circle cx="382.13" cy="140.91" r="1.9" fill="#fff" fill-opacity="0.6" stroke="#9a9a9a" stroke-width="0.8"/>
<circle cx="379.39" cy="137.61" r="1.9" fill="#fff" fill-opacity="0.6" stroke="#9a9a9a" stroke-width="0.8"/>
<circle cx="371.95" cy="137.61" r="1.9" fill="#fff" fill-opacity="0.6" stroke="#9a9a9a" stroke-width="0.8"/>
<circle cx="374.31" cy="134.78" r="1.9" fill="#fff" fill-opacity="0.6" stroke="#9a9a9a" stroke-width="0.8"/>
<circle cx="379.61" cy="134.00" r="1.9" fill="#fff" fill-opacity="0.6" stroke="#9a9a9a" stroke-width="0.8"/>
<circle cx="383.53" cy="134.00" r="1.9" fill="#fff" fill-opacity="0.6" stroke="#9a9a9a" stroke-width="0.8"/>
<circle cx="379.77" cy="128.98" r="1.9" fill="#fff" fill-opacity="0.6" stroke="#9a9a9a" stroke-width="0.8"/>
<circle cx="373.57" cy="127.88" r="1.9" fill="#fff" fill-opacity="0.6" stroke="#9a9a9a" stroke-width="0.8"/>
<circle cx="380.83" cy="121.28" r="1.9" fill="#fff" fill-opacity="0.6" stroke="#9a9a9a" stroke-width="0.8"/>
<circle cx="373.47" cy="115.16" r="1.9" fill="#fff" fill-opacity="0.6" stroke="#9a9a9a" stroke-width="0.8"/>
<circle cx="376.28" cy="108.57" r="1.9" fill="#fff" fill-opacity="0.6" stroke="#9a9a9a" stroke-width="0.8"/>
<circle cx="384.21" cy="102.76" r="1.9" fill="#fff" fill-opacity="0.6" stroke="#9a9a9a" stroke-width="0.8"/>
<line x1="377.85" y1="135.70" x2="377.85" y2="144.30" stroke="#5aa0f0" stroke-width="1.3" />
<line x1="374.35" y1="135.70" x2="381.35" y2="135.70" stroke="#5aa0f0" stroke-width="1.4" />
<line x1="374.35" y1="144.30" x2="381.35" y2="144.30" stroke="#5aa0f0" stroke-width="1.4" />
<text x="377.85" y="157.50" font-size="8.3" text-anchor="middle" fill="#2d4fa8" font-weight="normal" font-style="normal" >23</text>
<rect x="394.80" y="117.51" width="16.70" height="32.19" fill="#fde0e0" stroke="#ff0000" stroke-width="1.8" />
<circle cx="403.15" cy="149.70" r="1.9" fill="#fff" fill-opacity="0.6" stroke="#9a9a9a" stroke-width="0.8"/>
<circle cx="403.15" cy="145.15" r="1.9" fill="#fff" fill-opacity="0.6" stroke="#9a9a9a" stroke-width="0.8"/>
<circle cx="406.65" cy="145.15" r="1.9" fill="#fff" fill-opacity="0.6" stroke="#9a9a9a" stroke-width="0.8"/>
<circle cx="403.15" cy="140.91" r="1.9" fill="#fff" fill-opacity="0.6" stroke="#9a9a9a" stroke-width="0.8"/>
<circle cx="403.15" cy="134.31" r="1.9" fill="#fff" fill-opacity="0.6" stroke="#9a9a9a" stroke-width="0.8"/>
<circle cx="406.65" cy="134.31" r="1.9" fill="#fff" fill-opacity="0.6" stroke="#9a9a9a" stroke-width="0.8"/>
<circle cx="404.15" cy="131.02" r="1.9" fill="#fff" fill-opacity="0.6" stroke="#9a9a9a" stroke-width="0.8"/>
<circle cx="400.65" cy="131.02" r="1.9" fill="#fff" fill-opacity="0.6" stroke="#9a9a9a" stroke-width="0.8"/>
<circle cx="407.15" cy="128.82" r="1.9" fill="#fff" fill-opacity="0.6" stroke="#9a9a9a" stroke-width="0.8"/>
<circle cx="397.65" cy="128.82" r="1.9" fill="#fff" fill-opacity="0.6" stroke="#9a9a9a" stroke-width="0.8"/>
<circle cx="403.15" cy="125.52" r="1.9" fill="#fff" fill-opacity="0.6" stroke="#9a9a9a" stroke-width="0.8"/>
<circle cx="399.65" cy="125.52" r="1.9" fill="#fff" fill-opacity="0.6" stroke="#9a9a9a" stroke-width="0.8"/>
<circle cx="404.15" cy="122.22" r="1.9" fill="#fff" fill-opacity="0.6" stroke="#9a9a9a" stroke-width="0.8"/>
<circle cx="400.65" cy="122.22" r="1.9" fill="#fff" fill-opacity="0.6" stroke="#9a9a9a" stroke-width="0.8"/>
<circle cx="402.65" cy="119.08" r="1.9" fill="#fff" fill-opacity="0.6" stroke="#9a9a9a" stroke-width="0.8"/>
<circle cx="406.15" cy="119.08" r="1.9" fill="#fff" fill-opacity="0.6" stroke="#9a9a9a" stroke-width="0.8"/>
<circle cx="403.15" cy="112.49" r="1.9" fill="#fff" fill-opacity="0.6" stroke="#9a9a9a" stroke-width="0.8"/>
<circle cx="406.65" cy="112.49" r="1.9" fill="#fff" fill-opacity="0.6" stroke="#9a9a9a" stroke-width="0.8"/>
<circle cx="400.15" cy="110.45" r="1.9" fill="#fff" fill-opacity="0.6" stroke="#9a9a9a" stroke-width="0.8"/>
<circle cx="409.65" cy="110.45" r="1.9" fill="#fff" fill-opacity="0.6" stroke="#9a9a9a" stroke-width="0.8"/>
<circle cx="403.15" cy="103.86" r="1.9" fill="#fff" fill-opacity="0.6" stroke="#9a9a9a" stroke-width="0.8"/>
<circle cx="403.15" cy="96.16" r="1.9" fill="#fff" fill-opacity="0.6" stroke="#9a9a9a" stroke-width="0.8"/>
<circle cx="403.15" cy="88.63" r="1.9" fill="#fff" fill-opacity="0.6" stroke="#9a9a9a" stroke-width="0.8"/>
<circle cx="406.65" cy="88.63" r="1.9" fill="#fff" fill-opacity="0.6" stroke="#9a9a9a" stroke-width="0.8"/>
<circle cx="403.15" cy="84.23" r="1.9" fill="#fff" fill-opacity="0.6" stroke="#9a9a9a" stroke-width="0.8"/>
<circle cx="403.15" cy="79.83" r="1.9" fill="#fff" fill-opacity="0.6" stroke="#9a9a9a" stroke-width="0.8"/>
<circle cx="406.65" cy="79.83" r="1.9" fill="#fff" fill-opacity="0.6" stroke="#9a9a9a" stroke-width="0.8"/>
<circle cx="399.65" cy="79.83" r="1.9" fill="#fff" fill-opacity="0.6" stroke="#9a9a9a" stroke-width="0.8"/>
<circle cx="410.15" cy="78.74" r="1.9" fill="#fff" fill-opacity="0.6" stroke="#9a9a9a" stroke-width="0.8"/>
<line x1="403.15" y1="113.10" x2="403.15" y2="121.70" stroke="#ff0000" stroke-width="1.3" />
<line x1="399.65" y1="113.10" x2="406.65" y2="113.10" stroke="#ff0000" stroke-width="1.4" />
<line x1="399.65" y1="121.70" x2="406.65" y2="121.70" stroke="#ff0000" stroke-width="1.4" />
<text x="403.15" y="157.50" font-size="8.3" text-anchor="middle" fill="#2d4fa8" font-weight="normal" font-style="normal" >29</text>
<rect x="416.40" y="137.92" width="16.60" height="11.78" fill="#fde6cf" stroke="#f8a040" stroke-width="1.8" />
<circle cx="426.52" cy="182.36" r="1.9" fill="#fff" fill-opacity="0.6" stroke="#9a9a9a" stroke-width="0.8"/>
<circle cx="425.44" cy="160.53" r="1.9" fill="#fff" fill-opacity="0.6" stroke="#9a9a9a" stroke-width="0.8"/>
<circle cx="427.10" cy="156.14" r="1.9" fill="#fff" fill-opacity="0.6" stroke="#9a9a9a" stroke-width="0.8"/>
<circle cx="421.18" cy="155.04" r="1.9" fill="#fff" fill-opacity="0.6" stroke="#9a9a9a" stroke-width="0.8"/>
<circle cx="418.62" cy="149.70" r="1.9" fill="#fff" fill-opacity="0.6" stroke="#9a9a9a" stroke-width="0.8"/>
<circle cx="422.30" cy="145.15" r="1.9" fill="#fff" fill-opacity="0.6" stroke="#9a9a9a" stroke-width="0.8"/>
<circle cx="430.46" cy="145.15" r="1.9" fill="#fff" fill-opacity="0.6" stroke="#9a9a9a" stroke-width="0.8"/>
<circle cx="426.72" cy="144.05" r="1.9" fill="#fff" fill-opacity="0.6" stroke="#9a9a9a" stroke-width="0.8"/>
<circle cx="423.34" cy="127.88" r="1.9" fill="#fff" fill-opacity="0.6" stroke="#9a9a9a" stroke-width="0.8"/>
<circle cx="430.09" cy="117.99" r="1.9" fill="#fff" fill-opacity="0.6" stroke="#9a9a9a" stroke-width="0.8"/>
<circle cx="424.17" cy="108.57" r="1.9" fill="#fff" fill-opacity="0.6" stroke="#9a9a9a" stroke-width="0.8"/>
<circle cx="429.87" cy="108.25" r="1.9" fill="#fff" fill-opacity="0.6" stroke="#9a9a9a" stroke-width="0.8"/>
<circle cx="423.39" cy="91.77" r="1.9" fill="#fff" fill-opacity="0.6" stroke="#9a9a9a" stroke-width="0.8"/>
<line x1="424.70" y1="130.30" x2="424.70" y2="144.30" stroke="#f8a040" stroke-width="1.3" />
<line x1="421.20" y1="130.30" x2="428.20" y2="130.30" stroke="#f8a040" stroke-width="1.4" />
<line x1="421.20" y1="144.30" x2="428.20" y2="144.30" stroke="#f8a040" stroke-width="1.4" />
<text x="424.70" y="157.50" font-size="8.3" text-anchor="middle" fill="#2d4fa8" font-weight="normal" font-style="normal" >13</text>
<line x1="292.30" y1="39.00" x2="292.30" y2="193.80" stroke="#000" stroke-width="1.6" />
<line x1="292.30" y1="149.70" x2="443.80" y2="149.70" stroke="#000" stroke-width="1.7" />
<line x1="286.60" y1="55.50" x2="292.30" y2="55.50" stroke="#000" stroke-width="1.5" />
<text x="283.50" y="58.60" font-size="8.75" text-anchor="end" fill="#111" font-weight="normal" font-style="normal" >60</text>
<line x1="286.60" y1="86.90" x2="292.30" y2="86.90" stroke="#000" stroke-width="1.5" />
<text x="283.50" y="90.00" font-size="8.75" text-anchor="end" fill="#111" font-weight="normal" font-style="normal" >40</text>
<line x1="286.60" y1="118.30" x2="292.30" y2="118.30" stroke="#000" stroke-width="1.5" />
<text x="283.50" y="121.40" font-size="8.75" text-anchor="end" fill="#111" font-weight="normal" font-style="normal" >20</text>
<line x1="286.60" y1="149.70" x2="292.30" y2="149.70" stroke="#000" stroke-width="1.5" />
<text x="283.50" y="152.80" font-size="8.75" text-anchor="end" fill="#111" font-weight="normal" font-style="normal" >0</text>
<line x1="286.60" y1="181.10" x2="292.30" y2="181.10" stroke="#000" stroke-width="1.5" />
<text x="283.50" y="184.20" font-size="8.75" text-anchor="end" fill="#111" font-weight="normal" font-style="normal" >-20</text>
<text transform="translate(257.3,125.0) rotate(-90)" font-size="9.3" text-anchor="middle" fill="#111">Average GCaMP5</text>
<text transform="translate(267.9,115.5) rotate(-90)" font-size="9" text-anchor="middle" fill="#111">between 140~200s (&#916;F/F<tspan font-size="70%" dy="1.5">o</tspan><tspan dy="-1.5">, %)</tspan></text>
<text transform="translate(312.60,199.00) rotate(-45)" font-size="8" text-anchor="end" fill="#111" font-style="normal">WT</text>
<text transform="translate(335.80,183.60) rotate(-45)" font-size="8" text-anchor="end" fill="#111" font-style="italic">unc-25</text>
<text transform="translate(355.90,179.00) rotate(-45)" font-size="8" text-anchor="end" fill="#111" font-style="italic">unc-25;Pvap-1::unc-25</text>
<text transform="translate(385.50,177.70) rotate(-45)" font-size="8" text-anchor="end" fill="#111" font-style="italic">unc-25;PR11D1.3::unc-25</text>
<text transform="translate(406.80,177.70) rotate(-45)" font-size="8" text-anchor="end" fill="#111" font-style="italic">lgc-38</text>
<text transform="translate(426.50,173.70) rotate(-45)" font-size="8" text-anchor="end" fill="#111" font-style="italic">lgc-38;Psra-6::lgc-38</text>
<text x="435.60" y="14.30" font-size="20" text-anchor="start" fill="#000" font-weight="normal" font-style="normal" >c</text>
<text x="456.00" y="12.80" font-size="11.75" text-anchor="start" fill="#e8112d" font-weight="bold" font-style="normal" >AFD neurons</text>
<path d="M482.6,43.4 L499.8,43.4 Q500.6,43.4 500.8,42 L501.4,37 Q501.6,35.8 502.8,35.8 L665,35.8" fill="none" stroke="#5a4d4d" stroke-width="1.1"/>
<text x="477.70" y="40.20" font-size="8.3" text-anchor="start" fill="#000" font-weight="normal" font-style="normal" >15 &#176;C</text>
<text x="568.20" y="31.20" font-size="8.3" text-anchor="start" fill="#000" font-weight="normal" font-style="normal" >28 &#176;C</text>
<line x1="571.10" y1="52.60" x2="580.80" y2="52.60" stroke="#000" stroke-width="1.6" />
<text x="584.30" y="55.60" font-size="8.3" text-anchor="start" fill="#111" font-weight="normal" font-style="normal" >WT</text>
<line x1="571.10" y1="63.80" x2="580.80" y2="63.80" stroke="#35b69a" stroke-width="1.6" />
<text x="584.30" y="66.80" font-size="8.3" text-anchor="start" fill="#111" font-weight="normal" font-style="normal" >WT GABA+</text>
<line x1="571.10" y1="75.00" x2="580.80" y2="75.00" stroke="#ff0000" stroke-width="1.6" />
<text x="584.30" y="78.00" font-size="8.3" text-anchor="start" fill="#111" font-weight="normal" font-style="italic" >unc-13</text>
<line x1="571.10" y1="86.40" x2="580.80" y2="86.40" stroke="#e2e21e" stroke-width="1.6" />
<text x="584.30" y="89.40" font-size="8.3" text-anchor="start" fill="#111" font-weight="normal" font-style="italic" >unc-13;Pvap-1::unc-13</text>
<line x1="571.10" y1="97.80" x2="580.80" y2="97.80" stroke="#0000ff" stroke-width="1.6" />
<text x="584.30" y="100.80" font-size="8.3" text-anchor="start" fill="#111" font-weight="normal" font-style="italic" >unc-25</text>
<line x1="571.10" y1="108.90" x2="580.80" y2="108.90" stroke="#45c6ee" stroke-width="1.6" />
<text x="584.30" y="111.90" font-size="8.3" text-anchor="start" fill="#111" font-weight="normal" font-style="italic" >unc-25;Pvap-1::unc-25</text>
<line x1="571.10" y1="120.40" x2="580.80" y2="120.40" stroke="#6a35a8" stroke-width="1.6" />
<text x="584.30" y="123.40" font-size="8.3" text-anchor="start" fill="#111" font-weight="normal" font-style="italic" >unc-25;PR11D1.3::unc-25</text>
<path d="M482.60,188.81 L483.30,187.79 L484.00,188.39 L484.70,187.69 L485.40,189.15 L486.10,188.44 L486.80,188.53 L487.50,188.68 L488.20,189.20 L488.90,188.37 L489.60,188.45 L490.30,189.09 L491.00,188.82 L491.70,188.71 L492.40,188.61 L493.10,190.02 L493.80,189.10 L494.50,188.90 L495.20,188.88 L495.90,189.42 L496.60,190.60 L497.30,189.37 L498.00,189.82 L498.70,190.44 L499.40,189.58 L500.10,190.48 L500.80,190.49 L501.50,190.32 L502.20,189.01 L502.90,188.74 L503.60,184.12 L504.30,179.89 L505.00,175.98 L505.70,157.33 L506.40,153.43 L507.10,148.71 L507.80,144.05 L508.50,138.76 L509.20,135.46 L509.90,130.36 L510.60,125.69 L511.30,120.95 L512.00,117.59 L512.70,113.35 L513.40,108.54 L514.10,104.46 L514.80,101.09 L515.50,98.81 L516.20,96.83 L516.90,96.34 L517.60,93.99 L518.30,92.99 L519.00,93.01 L519.70,91.90 L520.40,92.39 L521.10,93.08 L521.80,93.92 L522.50,93.79 L523.20,94.77 L523.90,95.87 L524.60,97.34 L525.30,99.44 L526.00,100.64 L526.70,100.45 L527.40,101.95 L528.10,102.84 L528.80,104.30 L529.50,104.50 L530.20,106.29 L530.90,106.08 L531.60,107.51 L532.30,108.56 L533.00,109.37 L533.70,110.64 L534.40,110.99 L535.10,112.80 L535.80,112.57 L536.50,113.58 L537.20,115.24 L537.90,116.01 L538.60,117.34 L539.30,117.88 L540.00,119.25 L540.70,119.67 L541.40,120.30 L542.10,122.16 L542.80,122.11 L543.50,123.28 L544.20,123.78 L544.90,125.09 L545.60,126.58 L546.30,127.20 L547.00,127.76 L547.70,128.29 L548.40,129.77 L549.10,131.01 L549.80,130.54 L550.50,130.71 L551.20,131.87 L551.90,131.36 L552.60,133.03 L553.30,133.43 L554.00,134.25 L554.70,135.11 L555.40,134.26 L556.10,135.68 L556.80,136.09 L557.50,136.98 L558.20,137.62 L558.90,137.66 L559.60,137.91 L560.30,138.40 L561.00,139.63 L561.70,139.23 L562.40,140.17 L563.10,140.15 L563.80,141.54 L564.50,142.04 L565.20,141.69 L565.90,142.93 L566.60,142.89 L567.30,142.82 L568.00,143.73 L568.70,143.86 L569.40,144.38 L570.10,144.99 L570.80,146.07 L571.50,147.02 L572.20,146.44 L572.90,147.85 L573.60,147.48 L574.30,148.68 L575.00,147.92 L575.70,149.33 L576.40,149.02 L577.10,149.91 L577.80,149.49 L578.50,150.68 L579.20,150.56 L579.90,150.27 L580.60,151.55 L581.30,151.30 L582.00,151.25 L582.70,151.72 L583.40,152.20 L584.10,152.43 L584.80,152.59 L585.50,151.91 L586.20,152.70 L586.90,152.34 L587.60,152.83 L588.30,152.64 L589.00,153.06 L589.70,154.41 L590.40,155.19 L591.10,154.50 L591.80,154.58 L592.50,153.95 L593.20,154.85 L593.90,154.95 L594.60,154.41 L595.30,155.45 L596.00,155.17 L596.70,154.95 L597.40,155.33 L598.10,155.19 L598.80,155.87 L599.50,155.43 L600.20,155.13 L600.90,156.49 L601.60,155.73 L602.30,156.33 L603.00,155.93 L603.70,156.28 L604.40,156.66 L605.10,155.62 L605.80,156.63 L606.50,156.06 L607.20,156.79 L607.90,156.85 L608.60,157.63 L609.30,157.49 L610.00,157.16 L610.70,157.99 L611.40,157.05 L612.10,157.20 L612.80,157.78 L613.50,156.98 L614.20,157.99 L614.90,157.65 L615.60,158.11 L616.30,158.33 L617.00,157.79 L617.70,158.09 L618.40,158.46 L619.10,158.27 L619.80,158.26 L620.50,158.82 L621.20,159.28 L621.90,158.39 L622.60,159.34 L623.30,158.92 L624.00,159.93 L624.70,159.52 L625.40,158.62 L626.10,159.90 L626.80,158.72 L627.50,158.88 L628.20,159.43 L628.90,160.01 L629.60,158.99 L630.30,159.78 L631.00,159.65 L631.70,159.64 L632.40,159.04 L633.10,158.87 L633.80,159.69 L634.50,159.27 L635.20,158.71 L635.90,158.82 L636.60,159.03 L637.30,158.93 L638.00,158.71 L638.70,159.68 L639.40,159.60 L640.10,158.94 L640.80,159.65 L641.50,159.92 L642.20,160.01 L642.90,159.30 L643.60,158.63 L644.30,159.34 L645.00,158.86 L645.70,159.88 L646.40,158.43 L647.10,159.77 L647.80,160.31 L648.50,159.73 L649.20,160.03 L649.90,160.33 L650.60,159.12 L651.30,159.50 L652.00,159.71 L652.70,159.60 L653.40,159.02 L654.10,158.73 L654.80,159.50 L655.50,160.30 L656.20,158.95 L656.90,159.86 L657.60,160.06 L658.30,160.19 L659.00,159.14 L659.70,159.86 L660.40,160.03 L661.10,159.49 L661.80,159.44 L662.50,160.38 L663.20,160.51 L663.90,161.14 L664.60,160.18 L665.30,159.87 L666.00,161.00 L666.70,161.09 L667.40,160.84 L668.10,160.36 L668.80,160.48 L669.50,160.93 L670.20,159.55 L670.90,160.50 L671.60,160.51 L672.30,160.37 L672.30,188.19 L671.60,187.75 L670.90,188.11 L670.20,188.24 L669.50,187.80 L668.80,188.63 L668.10,188.05 L667.40,188.94 L666.70,188.17 L666.00,188.77 L665.30,187.58 L664.60,187.31 L663.90,188.07 L663.20,188.41 L662.50,188.64 L661.80,187.85 L661.10,188.12 L660.40,188.05 L659.70,188.56 L659.00,187.91 L658.30,188.26 L657.60,187.27 L656.90,187.76 L656.20,187.12 L655.50,187.86 L654.80,188.14 L654.10,187.29 L653.40,187.71 L652.70,187.41 L652.00,187.07 L651.30,186.64 L650.60,187.38 L649.90,188.06 L649.20,186.81 L648.50,187.19 L647.80,187.14 L647.10,187.09 L646.40,186.59 L645.70,187.24 L645.00,186.98 L644.30,187.72 L643.60,187.67 L642.90,187.79 L642.20,187.07 L641.50,188.12 L640.80,187.25 L640.10,186.66 L639.40,187.25 L638.70,186.61 L638.00,187.05 L637.30,187.67 L636.60,187.60 L635.90,186.59 L635.20,187.35 L634.50,187.19 L633.80,187.21 L633.10,187.08 L632.40,187.61 L631.70,187.15 L631.00,187.63 L630.30,186.82 L629.60,186.56 L628.90,187.69 L628.20,187.33 L627.50,186.89 L626.80,187.80 L626.10,187.44 L625.40,187.21 L624.70,187.02 L624.00,186.86 L623.30,186.30 L622.60,187.29 L621.90,186.57 L621.20,186.16 L620.50,187.49 L619.80,186.56 L619.10,186.06 L618.40,186.65 L617.70,186.78 L617.00,186.07 L616.30,186.38 L615.60,185.83 L614.90,186.73 L614.20,186.30 L613.50,184.80 L612.80,185.10 L612.10,185.80 L611.40,184.95 L610.70,184.85 L610.00,184.42 L609.30,184.47 L608.60,185.01 L607.90,184.34 L607.20,184.47 L606.50,184.91 L605.80,184.47 L605.10,183.58 L604.40,183.71 L603.70,184.17 L603.00,184.76 L602.30,184.17 L601.60,183.88 L600.90,183.56 L600.20,183.87 L599.50,183.99 L598.80,183.13 L598.10,183.45 L597.40,183.36 L596.70,184.02 L596.00,182.39 L595.30,183.27 L594.60,182.92 L593.90,182.62 L593.20,182.66 L592.50,182.42 L591.80,182.35 L591.10,183.08 L590.40,182.66 L589.70,182.40 L589.00,181.91 L588.30,181.73 L587.60,180.70 L586.90,180.56 L586.20,181.19 L585.50,180.10 L584.80,180.65 L584.10,179.15 L583.40,180.32 L582.70,179.41 L582.00,179.67 L581.30,179.33 L580.60,178.46 L579.90,178.49 L579.20,178.25 L578.50,178.45 L577.80,177.05 L577.10,178.26 L576.40,177.07 L575.70,176.65 L575.00,175.85 L574.30,176.44 L573.60,175.21 L572.90,174.66 L572.20,174.26 L571.50,174.34 L570.80,174.48 L570.10,172.84 L569.40,172.96 L568.70,172.73 L568.00,171.75 L567.30,171.35 L566.60,170.11 L565.90,170.75 L565.20,170.14 L564.50,170.22 L563.80,169.02 L563.10,167.86 L562.40,168.33 L561.70,167.15 L561.00,166.99 L560.30,166.07 L559.60,165.19 L558.90,166.03 L558.20,165.37 L557.50,165.28 L556.80,163.73 L556.10,163.08 L555.40,162.67 L554.70,163.36 L554.00,162.80 L553.30,160.95 L552.60,160.74 L551.90,159.69 L551.20,159.27 L550.50,158.26 L549.80,159.06 L549.10,158.07 L548.40,157.16 L547.70,156.18 L547.00,156.18 L546.30,155.52 L545.60,155.26 L544.90,153.01 L544.20,152.89 L543.50,151.63 L542.80,150.16 L542.10,149.90 L541.40,147.74 L540.70,147.59 L540.00,146.12 L539.30,145.99 L538.60,144.92 L537.90,143.95 L537.20,143.36 L536.50,141.62 L535.80,141.16 L535.10,140.36 L534.40,139.63 L533.70,138.18 L533.00,137.73 L532.30,137.19 L531.60,135.30 L530.90,134.97 L530.20,134.36 L529.50,132.69 L528.80,131.57 L528.10,131.49 L527.40,129.29 L526.70,129.11 L526.00,128.19 L525.30,126.89 L524.60,126.29 L523.90,124.75 L523.20,123.15 L522.50,122.67 L521.80,121.25 L521.10,121.38 L520.40,121.04 L519.70,120.34 L519.00,120.69 L518.30,121.40 L517.60,121.66 L516.90,123.29 L516.20,124.88 L515.50,126.79 L514.80,129.38 L514.10,131.89 L513.40,135.56 L512.70,140.13 L512.00,144.92 L511.30,149.96 L510.60,154.57 L509.90,157.86 L509.20,162.85 L508.50,166.83 L507.80,171.56 L507.10,176.19 L506.40,181.34 L505.70,185.82 L505.00,176.82 L504.30,180.69 L503.60,186.54 L502.90,189.67 L502.20,191.15 L501.50,191.83 L500.80,191.74 L500.10,192.01 L499.40,192.15 L498.70,192.02 L498.00,191.77 L497.30,191.78 L496.60,191.54 L495.90,191.18 L495.20,191.56 L494.50,191.09 L493.80,190.70 L493.10,190.58 L492.40,190.45 L491.70,191.16 L491.00,191.39 L490.30,190.38 L489.60,190.82 L488.90,189.71 L488.20,189.86 L487.50,190.48 L486.80,189.99 L486.10,190.38 L485.40,189.58 L484.70,190.01 L484.00,189.94 L483.30,190.18 L482.60,190.42Z" fill="#f4d8f4" fill-opacity="0.55" stroke="none"/>
<path d="M482.60,187.18 L483.30,187.83 L484.00,186.77 L484.70,188.72 L485.40,188.08 L486.10,188.65 L486.80,187.98 L487.50,187.53 L488.20,187.85 L488.90,187.92 L489.60,187.59 L490.30,188.65 L491.00,188.23 L491.70,188.74 L492.40,189.23 L493.10,188.24 L493.80,188.51 L494.50,188.73 L495.20,187.72 L495.90,188.89 L496.60,188.56 L497.30,188.91 L498.00,189.57 L498.70,189.43 L499.40,190.08 L500.10,190.59 L500.80,190.40 L501.50,189.83 L502.20,188.65 L502.90,186.18 L503.60,181.06 L504.30,173.74 L505.00,165.83 L505.70,151.26 L506.40,144.46 L507.10,137.07 L507.80,129.29 L508.50,122.21 L509.20,115.26 L509.90,109.39 L510.60,105.59 L511.30,101.36 L512.00,97.48 L512.70,93.13 L513.40,88.92 L514.10,85.49 L514.80,83.28 L515.50,81.28 L516.20,80.43 L516.90,78.59 L517.60,76.63 L518.30,76.35 L519.00,75.19 L519.70,74.53 L520.40,75.43 L521.10,76.20 L521.80,75.97 L522.50,76.72 L523.20,77.73 L523.90,78.87 L524.60,79.20 L525.30,79.87 L526.00,80.65 L526.70,81.94 L527.40,84.44 L528.10,86.07 L528.80,86.70 L529.50,88.05 L530.20,88.32 L530.90,90.62 L531.60,91.02 L532.30,93.11 L533.00,93.68 L533.70,94.98 L534.40,96.84 L535.10,96.62 L535.80,98.39 L536.50,99.03 L537.20,100.03 L537.90,102.23 L538.60,102.02 L539.30,104.03 L540.00,104.30 L540.70,105.39 L541.40,106.94 L542.10,107.38 L542.80,108.86 L543.50,108.83 L544.20,109.57 L544.90,110.86 L545.60,111.73 L546.30,112.79 L547.00,114.55 L547.70,115.12 L548.40,116.67 L549.10,117.65 L549.80,117.59 L550.50,118.66 L551.20,119.70 L551.90,120.32 L552.60,120.76 L553.30,122.17 L554.00,123.51 L554.70,123.36 L555.40,125.15 L556.10,125.67 L556.80,126.25 L557.50,127.65 L558.20,126.90 L558.90,128.50 L559.60,128.67 L560.30,129.99 L561.00,129.99 L561.70,131.26 L562.40,130.16 L563.10,131.42 L563.80,131.50 L564.50,132.25 L565.20,132.19 L565.90,132.54 L566.60,133.81 L567.30,134.18 L568.00,134.24 L568.70,135.54 L569.40,135.17 L570.10,136.22 L570.80,136.55 L571.50,136.87 L572.20,139.18 L572.90,138.33 L573.60,139.25 L574.30,140.87 L575.00,141.38 L575.70,141.02 L576.40,142.09 L577.10,141.54 L577.80,142.69 L578.50,142.18 L579.20,142.01 L579.90,143.51 L580.60,143.37 L581.30,143.17 L582.00,144.37 L582.70,144.68 L583.40,144.48 L584.10,145.70 L584.80,144.86 L585.50,144.83 L586.20,145.33 L586.90,146.47 L587.60,145.20 L588.30,146.24 L589.00,146.86 L589.70,147.48 L590.40,147.79 L591.10,147.21 L591.80,147.46 L592.50,148.53 L593.20,147.73 L593.90,148.03 L594.60,149.26 L595.30,148.47 L596.00,149.11 L596.70,149.54 L597.40,149.57 L598.10,149.83 L598.80,149.39 L599.50,150.44 L600.20,149.47 L600.90,149.83 L601.60,151.31 L602.30,151.39 L603.00,151.16 L603.70,151.13 L604.40,151.51 L605.10,151.46 L605.80,151.93 L606.50,152.53 L607.20,152.16 L607.90,152.28 L608.60,152.50 L609.30,152.48 L610.00,153.79 L610.70,153.55 L611.40,152.79 L612.10,154.51 L612.80,154.33 L613.50,154.59 L614.20,154.37 L614.90,154.08 L615.60,154.90 L616.30,154.82 L617.00,156.06 L617.70,155.58 L618.40,156.04 L619.10,155.66 L619.80,156.35 L620.50,155.64 L621.20,156.47 L621.90,156.91 L622.60,157.11 L623.30,156.95 L624.00,157.18 L624.70,157.07 L625.40,157.34 L626.10,156.49 L626.80,157.29 L627.50,158.09 L628.20,157.00 L628.90,158.22 L629.60,157.95 L630.30,157.90 L631.00,158.54 L631.70,158.59 L632.40,158.35 L633.10,159.57 L633.80,159.26 L634.50,159.08 L635.20,158.47 L635.90,159.60 L636.60,159.10 L637.30,159.24 L638.00,159.98 L638.70,159.51 L639.40,160.12 L640.10,160.23 L640.80,160.14 L641.50,160.41 L642.20,161.08 L642.90,161.09 L643.60,160.57 L644.30,161.53 L645.00,160.92 L645.70,161.65 L646.40,161.54 L647.10,162.03 L647.80,161.91 L648.50,161.71 L649.20,162.13 L649.90,162.77 L650.60,162.12 L651.30,162.10 L652.00,162.27 L652.70,163.22 L653.40,163.66 L654.10,164.15 L654.80,163.49 L655.50,164.27 L656.20,164.36 L656.90,164.25 L657.60,164.66 L658.30,165.22 L659.00,165.59 L659.70,164.64 L660.40,164.89 L661.10,165.77 L661.80,166.92 L662.50,166.85 L663.20,167.28 L663.90,167.11 L664.60,167.50 L665.30,167.76 L666.00,167.04 L666.70,168.54 L667.40,169.16 L668.10,168.32 L668.80,168.27 L669.50,168.45 L670.20,169.78 L670.90,170.57 L671.60,170.30 L672.30,170.28 L672.30,185.95 L671.60,185.91 L670.90,185.52 L670.20,185.68 L669.50,185.32 L668.80,184.83 L668.10,184.50 L667.40,184.66 L666.70,183.75 L666.00,183.45 L665.30,183.82 L664.60,184.14 L663.90,183.00 L663.20,183.28 L662.50,182.11 L661.80,182.89 L661.10,182.22 L660.40,181.53 L659.70,180.93 L659.00,180.88 L658.30,180.59 L657.60,180.85 L656.90,180.14 L656.20,180.39 L655.50,180.51 L654.80,179.48 L654.10,179.22 L653.40,179.23 L652.70,178.72 L652.00,178.94 L651.30,179.12 L650.60,178.38 L649.90,178.58 L649.20,178.28 L648.50,178.31 L647.80,178.33 L647.10,177.96 L646.40,177.96 L645.70,176.69 L645.00,177.09 L644.30,177.94 L643.60,177.22 L642.90,176.13 L642.20,176.22 L641.50,176.33 L640.80,175.67 L640.10,176.09 L639.40,175.25 L638.70,175.99 L638.00,175.85 L637.30,175.67 L636.60,174.83 L635.90,176.00 L635.20,174.33 L634.50,174.88 L633.80,175.20 L633.10,175.06 L632.40,175.46 L631.70,173.54 L631.00,174.15 L630.30,174.65 L629.60,173.34 L628.90,173.62 L628.20,174.39 L627.50,173.31 L626.80,173.72 L626.10,173.40 L625.40,173.21 L624.70,173.24 L624.00,172.36 L623.30,172.38 L622.60,173.20 L621.90,172.95 L621.20,172.72 L620.50,171.84 L619.80,172.64 L619.10,171.34 L618.40,171.27 L617.70,171.31 L617.00,171.78 L616.30,170.84 L615.60,171.81 L614.90,169.55 L614.20,170.68 L613.50,170.35 L612.80,169.76 L612.10,169.87 L611.40,169.77 L610.70,169.08 L610.00,169.14 L609.30,169.39 L608.60,168.24 L607.90,167.93 L607.20,167.95 L606.50,168.12 L605.80,167.40 L605.10,167.41 L604.40,168.00 L603.70,167.35 L603.00,167.37 L602.30,167.07 L601.60,166.78 L600.90,165.78 L600.20,166.69 L599.50,166.17 L598.80,164.92 L598.10,165.81 L597.40,165.43 L596.70,165.24 L596.00,164.09 L595.30,164.41 L594.60,164.90 L593.90,164.16 L593.20,164.54 L592.50,164.62 L591.80,163.66 L591.10,163.12 L590.40,163.46 L589.70,163.02 L589.00,162.37 L588.30,162.65 L587.60,161.80 L586.90,162.51 L586.20,161.75 L585.50,161.33 L584.80,160.23 L584.10,160.69 L583.40,160.77 L582.70,160.42 L582.00,159.62 L581.30,159.45 L580.60,159.02 L579.90,159.95 L579.20,158.28 L578.50,158.82 L577.80,158.61 L577.10,158.29 L576.40,157.85 L575.70,157.16 L575.00,156.97 L574.30,156.68 L573.60,156.01 L572.90,155.46 L572.20,155.29 L571.50,153.80 L570.80,152.87 L570.10,152.97 L569.40,151.46 L568.70,150.42 L568.00,150.25 L567.30,149.29 L566.60,150.16 L565.90,149.14 L565.20,149.18 L564.50,148.51 L563.80,148.20 L563.10,147.07 L562.40,146.91 L561.70,146.09 L561.00,146.81 L560.30,145.38 L559.60,144.27 L558.90,145.03 L558.20,143.20 L557.50,143.63 L556.80,143.10 L556.10,142.16 L555.40,140.49 L554.70,140.31 L554.00,139.62 L553.30,138.48 L552.60,137.93 L551.90,137.18 L551.20,135.60 L550.50,134.27 L549.80,133.45 L549.10,133.66 L548.40,132.42 L547.70,130.18 L547.00,130.61 L546.30,128.87 L545.60,128.37 L544.90,127.37 L544.20,126.18 L543.50,124.64 L542.80,124.18 L542.10,123.20 L541.40,123.19 L540.70,121.02 L540.00,120.74 L539.30,119.77 L538.60,117.52 L537.90,117.39 L537.20,116.27 L536.50,115.97 L535.80,114.48 L535.10,113.16 L534.40,112.14 L533.70,110.64 L533.00,110.43 L532.30,108.34 L531.60,107.57 L530.90,105.99 L530.20,104.99 L529.50,103.93 L528.80,102.31 L528.10,101.84 L527.40,100.32 L526.70,98.31 L526.00,96.35 L525.30,96.12 L524.60,95.59 L523.90,95.22 L523.20,93.30 L522.50,92.62 L521.80,92.43 L521.10,91.41 L520.40,90.68 L519.70,90.44 L519.00,91.35 L518.30,91.80 L517.60,92.61 L516.90,94.27 L516.20,95.86 L515.50,97.12 L514.80,99.27 L514.10,102.19 L513.40,105.21 L512.70,109.92 L512.00,113.59 L511.30,117.79 L510.60,121.80 L509.90,124.90 L509.20,131.62 L508.50,138.46 L507.80,145.45 L507.10,153.88 L506.40,161.20 L505.70,168.61 L505.00,167.19 L504.30,174.79 L503.60,181.98 L502.90,187.66 L502.20,191.21 L501.50,192.00 L500.80,191.36 L500.10,191.84 L499.40,190.36 L498.70,190.54 L498.00,190.03 L497.30,190.60 L496.60,189.94 L495.90,190.62 L495.20,190.39 L494.50,190.47 L493.80,190.21 L493.10,189.94 L492.40,190.39 L491.70,189.91 L491.00,190.22 L490.30,189.95 L489.60,190.46 L488.90,190.04 L488.20,189.45 L487.50,189.61 L486.80,190.50 L486.10,190.08 L485.40,189.30 L484.70,189.84 L484.00,188.40 L483.30,188.84 L482.60,189.09Z" fill="#bfe8dc" fill-opacity="0.6" stroke="none"/>
<path d="M482.60,188.03 L483.30,188.06 L484.00,189.24 L484.70,188.23 L485.40,188.96 L486.10,188.38 L486.80,189.39 L487.50,188.80 L488.20,189.43 L488.90,189.58 L489.60,189.10 L490.30,188.81 L491.00,189.18 L491.70,189.15 L492.40,189.60 L493.10,188.73 L493.80,189.68 L494.50,189.34 L495.20,189.93 L495.90,189.10 L496.60,189.91 L497.30,189.29 L498.00,190.29 L498.70,190.18 L499.40,190.39 L500.10,190.34 L500.80,191.02 L501.50,190.88 L502.20,190.12 L502.90,187.41 L503.60,181.87 L504.30,176.94 L505.00,170.59 L505.70,160.34 L506.40,153.39 L507.10,148.28 L507.80,141.36 L508.50,135.77 L509.20,131.67 L509.90,127.93 L510.60,124.92 L511.30,120.56 L512.00,117.60 L512.70,114.68 L513.40,111.36 L514.10,110.08 L514.80,108.64 L515.50,108.18 L516.20,107.19 L516.90,105.54 L517.60,105.03 L518.30,103.78 L519.00,103.38 L519.70,101.58 L520.40,101.85 L521.10,102.35 L521.80,100.29 L522.50,101.02 L523.20,100.67 L523.90,100.45 L524.60,100.78 L525.30,99.79 L526.00,100.30 L526.70,98.82 L527.40,100.00 L528.10,99.30 L528.80,99.51 L529.50,101.23 L530.20,99.93 L530.90,101.28 L531.60,100.55 L532.30,101.91 L533.00,101.48 L533.70,102.74 L534.40,103.31 L535.10,103.37 L535.80,102.64 L536.50,104.02 L537.20,103.99 L537.90,104.61 L538.60,105.80 L539.30,106.05 L540.00,106.04 L540.70,106.55 L541.40,106.07 L542.10,107.74 L542.80,107.43 L543.50,108.49 L544.20,109.37 L544.90,108.95 L545.60,109.34 L546.30,110.40 L547.00,109.99 L547.70,110.61 L548.40,112.02 L549.10,112.79 L549.80,112.05 L550.50,113.67 L551.20,113.66 L551.90,115.19 L552.60,115.88 L553.30,115.74 L554.00,115.41 L554.70,116.40 L555.40,117.30 L556.10,118.02 L556.80,117.66 L557.50,119.11 L558.20,119.67 L558.90,119.57 L559.60,119.82 L560.30,121.22 L561.00,121.80 L561.70,121.51 L562.40,122.73 L563.10,122.65 L563.80,123.62 L564.50,124.86 L565.20,125.38 L565.90,125.78 L566.60,125.71 L567.30,126.41 L568.00,126.24 L568.70,127.45 L569.40,127.80 L570.10,127.65 L570.80,128.31 L571.50,128.32 L572.20,129.02 L572.90,129.93 L573.60,128.17 L574.30,129.47 L575.00,128.63 L575.70,128.06 L576.40,128.20 L577.10,128.22 L577.80,129.27 L578.50,129.35 L579.20,129.97 L579.90,129.62 L580.60,130.34 L581.30,130.51 L582.00,130.58 L582.70,130.12 L583.40,131.64 L584.10,132.52 L584.80,131.16 L585.50,132.48 L586.20,132.18 L586.90,133.47 L587.60,132.97 L588.30,133.53 L589.00,133.99 L589.70,134.09 L590.40,134.99 L591.10,135.19 L591.80,135.13 L592.50,135.62 L593.20,134.85 L593.90,136.51 L594.60,136.41 L595.30,136.05 L596.00,136.63 L596.70,137.72 L597.40,137.58 L598.10,137.99 L598.80,138.88 L599.50,139.38 L600.20,139.26 L600.90,139.45 L601.60,140.29 L602.30,140.54 L603.00,140.59 L603.70,140.94 L604.40,141.62 L605.10,142.02 L605.80,141.67 L606.50,141.57 L607.20,142.57 L607.90,143.17 L608.60,143.72 L609.30,144.08 L610.00,144.74 L610.70,145.06 L611.40,145.62 L612.10,144.96 L612.80,145.63 L613.50,146.44 L614.20,145.89 L614.90,146.98 L615.60,146.65 L616.30,147.41 L617.00,147.92 L617.70,148.96 L618.40,149.24 L619.10,149.51 L619.80,148.93 L620.50,149.89 L621.20,150.11 L621.90,150.28 L622.60,150.50 L623.30,150.69 L624.00,151.00 L624.70,150.66 L625.40,151.30 L626.10,152.33 L626.80,152.02 L627.50,152.18 L628.20,152.76 L628.90,152.78 L629.60,152.91 L630.30,153.56 L631.00,153.37 L631.70,153.49 L632.40,153.95 L633.10,154.68 L633.80,155.34 L634.50,154.69 L635.20,155.75 L635.90,155.86 L636.60,156.33 L637.30,155.94 L638.00,155.54 L638.70,157.35 L639.40,156.08 L640.10,157.72 L640.80,157.41 L641.50,157.56 L642.20,157.85 L642.90,158.08 L643.60,158.00 L644.30,158.44 L645.00,159.06 L645.70,159.16 L646.40,158.84 L647.10,159.59 L647.80,159.90 L648.50,159.28 L649.20,159.92 L649.90,160.13 L650.60,159.55 L651.30,160.62 L652.00,160.96 L652.70,161.04 L653.40,160.95 L654.10,161.18 L654.80,161.36 L655.50,161.50 L656.20,162.33 L656.90,161.42 L657.60,161.87 L658.30,162.35 L659.00,162.96 L659.70,163.35 L660.40,163.21 L661.10,163.19 L661.80,163.83 L662.50,163.38 L663.20,164.55 L663.90,164.95 L664.60,164.15 L665.30,164.23 L666.00,165.07 L666.70,165.62 L667.40,164.90 L668.10,165.66 L668.80,166.15 L669.50,165.29 L670.20,165.44 L670.90,166.68 L671.60,166.57 L672.30,165.85 L672.30,174.78 L671.60,174.47 L670.90,174.28 L670.20,173.85 L669.50,173.38 L668.80,174.19 L668.10,172.79 L667.40,172.83 L666.70,172.92 L666.00,172.99 L665.30,172.52 L664.60,172.03 L663.90,172.70 L663.20,172.39 L662.50,171.95 L661.80,171.67 L661.10,171.43 L660.40,171.52 L659.70,170.82 L659.00,170.55 L658.30,170.75 L657.60,169.64 L656.90,169.50 L656.20,169.24 L655.50,169.45 L654.80,169.61 L654.10,169.92 L653.40,168.66 L652.70,169.45 L652.00,167.89 L651.30,167.71 L650.60,167.95 L649.90,168.20 L649.20,167.71 L648.50,168.43 L647.80,167.59 L647.10,166.83 L646.40,166.38 L645.70,166.57 L645.00,167.40 L644.30,165.75 L643.60,166.57 L642.90,165.95 L642.20,164.88 L641.50,165.42 L640.80,164.66 L640.10,165.72 L639.40,164.01 L638.70,164.86 L638.00,164.17 L637.30,164.19 L636.60,164.33 L635.90,163.81 L635.20,163.00 L634.50,163.06 L633.80,162.61 L633.10,163.41 L632.40,162.06 L631.70,161.57 L631.00,161.14 L630.30,160.70 L629.60,161.25 L628.90,161.29 L628.20,160.31 L627.50,159.85 L626.80,159.57 L626.10,159.72 L625.40,160.20 L624.70,159.58 L624.00,159.00 L623.30,158.40 L622.60,158.09 L621.90,158.95 L621.20,157.66 L620.50,157.01 L619.80,156.46 L619.10,156.44 L618.40,157.03 L617.70,156.43 L617.00,155.36 L616.30,155.84 L615.60,155.58 L614.90,154.01 L614.20,153.65 L613.50,153.48 L612.80,154.16 L612.10,152.63 L611.40,152.57 L610.70,152.92 L610.00,152.81 L609.30,152.80 L608.60,151.78 L607.90,152.02 L607.20,150.14 L606.50,150.17 L605.80,150.15 L605.10,150.00 L604.40,149.52 L603.70,149.42 L603.00,148.42 L602.30,148.62 L601.60,148.09 L600.90,146.87 L600.20,146.78 L599.50,147.74 L598.80,145.59 L598.10,146.13 L597.40,146.52 L596.70,145.78 L596.00,144.78 L595.30,144.99 L594.60,144.11 L593.90,144.12 L593.20,143.17 L592.50,142.73 L591.80,143.81 L591.10,143.20 L590.40,143.36 L589.70,141.43 L589.00,142.13 L588.30,142.07 L587.60,141.06 L586.90,140.97 L586.20,140.77 L585.50,140.79 L584.80,139.06 L584.10,139.98 L583.40,138.76 L582.70,139.04 L582.00,137.82 L581.30,137.79 L580.60,137.95 L579.90,137.04 L579.20,137.79 L578.50,136.70 L577.80,136.60 L577.10,137.23 L576.40,136.18 L575.70,137.06 L575.00,136.77 L574.30,136.80 L573.60,136.19 L572.90,137.47 L572.20,137.40 L571.50,137.27 L570.80,136.21 L570.10,136.62 L569.40,135.73 L568.70,134.50 L568.00,134.64 L567.30,134.94 L566.60,133.39 L565.90,132.92 L565.20,133.49 L564.50,132.82 L563.80,132.14 L563.10,131.61 L562.40,131.30 L561.70,130.39 L561.00,129.22 L560.30,129.36 L559.60,128.38 L558.90,127.76 L558.20,127.86 L557.50,126.76 L556.80,125.89 L556.10,126.57 L555.40,125.72 L554.70,124.52 L554.00,124.21 L553.30,123.98 L552.60,123.17 L551.90,122.11 L551.20,122.32 L550.50,121.14 L549.80,120.44 L549.10,120.39 L548.40,119.99 L547.70,118.89 L547.00,118.55 L546.30,119.08 L545.60,117.94 L544.90,117.18 L544.20,117.41 L543.50,115.62 L542.80,115.73 L542.10,115.87 L541.40,115.24 L540.70,114.39 L540.00,114.70 L539.30,113.32 L538.60,113.52 L537.90,111.82 L537.20,112.34 L536.50,110.94 L535.80,111.76 L535.10,111.22 L534.40,111.49 L533.70,109.88 L533.00,110.19 L532.30,110.43 L531.60,108.64 L530.90,108.61 L530.20,108.73 L529.50,108.05 L528.80,108.74 L528.10,107.23 L527.40,107.76 L526.70,107.80 L526.00,107.19 L525.30,108.28 L524.60,108.20 L523.90,108.00 L523.20,109.56 L522.50,109.63 L521.80,108.28 L521.10,109.73 L520.40,109.97 L519.70,110.73 L519.00,110.91 L518.30,112.48 L517.60,112.98 L516.90,113.58 L516.20,114.19 L515.50,115.55 L514.80,117.32 L514.10,117.29 L513.40,120.43 L512.70,123.31 L512.00,126.83 L511.30,129.48 L510.60,132.66 L509.90,135.95 L509.20,140.31 L508.50,143.74 L507.80,150.35 L507.10,155.15 L506.40,162.38 L505.70,168.02 L505.00,172.19 L504.30,177.60 L503.60,184.39 L502.90,189.32 L502.20,191.81 L501.50,191.89 L500.80,192.79 L500.10,191.85 L499.40,191.84 L498.70,191.54 L498.00,192.39 L497.30,191.95 L496.60,192.31 L495.90,191.46 L495.20,191.02 L494.50,191.44 L493.80,191.34 L493.10,190.15 L492.40,191.58 L491.70,190.69 L491.00,190.95 L490.30,190.50 L489.60,190.56 L488.90,190.56 L488.20,190.49 L487.50,189.93 L486.80,190.80 L486.10,190.17 L485.40,190.11 L484.70,189.41 L484.00,189.48 L483.30,189.25 L482.60,189.53Z" fill="#d0eefa" fill-opacity="0.5" stroke="none"/>
<path d="M482.60,188.02 L483.30,188.58 L484.00,188.39 L484.70,188.52 L485.40,188.95 L486.10,188.55 L486.80,188.83 L487.50,188.45 L488.20,188.50 L488.90,188.11 L489.60,189.02 L490.30,188.70 L491.00,189.03 L491.70,188.81 L492.40,189.44 L493.10,188.89 L493.80,189.70 L494.50,189.95 L495.20,189.33 L495.90,188.82 L496.60,190.12 L497.30,190.28 L498.00,189.54 L498.70,190.35 L499.40,190.80 L500.10,190.22 L500.80,189.45 L501.50,189.36 L502.20,190.17 L502.90,186.82 L503.60,182.55 L504.30,176.41 L505.00,172.17 L505.70,162.55 L506.40,156.54 L507.10,151.80 L507.80,144.92 L508.50,140.51 L509.20,135.17 L509.90,131.64 L510.60,126.67 L511.30,122.86 L512.00,120.09 L512.70,116.90 L513.40,113.26 L514.10,112.56 L514.80,111.78 L515.50,112.71 L516.20,111.83 L516.90,112.57 L517.60,113.48 L518.30,114.31 L519.00,114.09 L519.70,116.11 L520.40,116.13 L521.10,117.42 L521.80,118.00 L522.50,119.07 L523.20,119.73 L523.90,121.04 L524.60,121.74 L525.30,122.32 L526.00,123.22 L526.70,124.00 L527.40,124.71 L528.10,125.58 L528.80,126.65 L529.50,128.35 L530.20,128.01 L530.90,130.29 L531.60,130.97 L532.30,131.44 L533.00,132.28 L533.70,133.13 L534.40,133.99 L535.10,134.55 L535.80,135.35 L536.50,137.61 L537.20,137.57 L537.90,138.84 L538.60,139.87 L539.30,140.75 L540.00,141.28 L540.70,141.84 L541.40,142.24 L542.10,143.43 L542.80,143.61 L543.50,143.80 L544.20,145.71 L544.90,145.07 L545.60,145.45 L546.30,146.11 L547.00,147.88 L547.70,148.37 L548.40,149.28 L549.10,148.97 L549.80,149.90 L550.50,150.83 L551.20,150.48 L551.90,151.16 L552.60,152.51 L553.30,152.79 L554.00,152.99 L554.70,153.59 L555.40,154.07 L556.10,155.60 L556.80,155.89 L557.50,155.95 L558.20,156.70 L558.90,157.15 L559.60,158.04 L560.30,157.94 L561.00,158.89 L561.70,159.04 L562.40,159.98 L563.10,160.85 L563.80,161.23 L564.50,161.72 L565.20,162.35 L565.90,162.63 L566.60,163.21 L567.30,163.83 L568.00,164.14 L568.70,164.41 L569.40,164.85 L570.10,164.63 L570.80,164.67 L571.50,166.02 L572.20,165.69 L572.90,165.86 L573.60,166.69 L574.30,166.64 L575.00,167.14 L575.70,166.77 L576.40,166.44 L577.10,167.37 L577.80,167.97 L578.50,167.66 L579.20,168.30 L579.90,169.19 L580.60,168.25 L581.30,169.94 L582.00,170.10 L582.70,169.16 L583.40,170.48 L584.10,170.21 L584.80,170.74 L585.50,171.28 L586.20,170.84 L586.90,171.52 L587.60,171.47 L588.30,172.33 L589.00,172.39 L589.70,172.58 L590.40,172.80 L591.10,172.22 L591.80,172.28 L592.50,172.65 L593.20,173.26 L593.90,173.24 L594.60,173.17 L595.30,173.72 L596.00,174.17 L596.70,174.17 L597.40,173.50 L598.10,173.66 L598.80,174.43 L599.50,174.47 L600.20,173.83 L600.90,174.75 L601.60,173.71 L602.30,174.38 L603.00,174.67 L603.70,174.71 L604.40,175.29 L605.10,174.22 L605.80,174.63 L606.50,174.88 L607.20,174.76 L607.90,175.71 L608.60,175.96 L609.30,174.88 L610.00,175.07 L610.70,175.20 L611.40,176.72 L612.10,175.78 L612.80,175.93 L613.50,175.45 L614.20,176.12 L614.90,175.70 L615.60,176.56 L616.30,176.34 L617.00,176.43 L617.70,177.53 L618.40,176.97 L619.10,176.82 L619.80,176.69 L620.50,177.17 L621.20,177.59 L621.90,176.50 L622.60,177.73 L623.30,177.04 L624.00,176.46 L624.70,176.95 L625.40,177.49 L626.10,177.31 L626.80,177.60 L627.50,176.56 L628.20,177.52 L628.90,178.19 L629.60,178.43 L630.30,178.52 L631.00,176.83 L631.70,177.13 L632.40,177.46 L633.10,178.07 L633.80,178.11 L634.50,178.17 L635.20,177.45 L635.90,178.06 L636.60,178.46 L637.30,178.79 L638.00,178.86 L638.70,178.67 L639.40,178.43 L640.10,177.70 L640.80,177.91 L641.50,178.04 L642.20,178.41 L642.90,178.77 L643.60,178.70 L644.30,179.18 L645.00,179.14 L645.70,178.95 L646.40,178.33 L647.10,178.05 L647.80,179.35 L648.50,179.46 L649.20,179.59 L649.90,178.45 L650.60,178.51 L651.30,179.64 L652.00,178.30 L652.70,178.69 L653.40,179.19 L654.10,180.11 L654.80,178.46 L655.50,179.39 L656.20,179.54 L656.90,179.16 L657.60,178.99 L658.30,179.35 L659.00,179.75 L659.70,179.70 L660.40,179.67 L661.10,179.01 L661.80,179.56 L662.50,179.32 L663.20,180.59 L663.90,179.86 L664.60,179.57 L665.30,179.61 L666.00,179.86 L666.70,179.26 L667.40,179.05 L668.10,179.68 L668.80,180.18 L669.50,180.03 L670.20,179.93 L670.90,180.37 L671.60,180.19 L672.30,180.37 L672.30,188.02 L671.60,187.81 L670.90,187.61 L670.20,188.25 L669.50,188.02 L668.80,187.37 L668.10,187.32 L667.40,187.64 L666.70,187.19 L666.00,187.42 L665.30,187.70 L664.60,187.28 L663.90,187.29 L663.20,188.18 L662.50,187.25 L661.80,186.57 L661.10,187.89 L660.40,186.98 L659.70,188.34 L659.00,187.92 L658.30,188.20 L657.60,187.83 L656.90,188.12 L656.20,187.54 L655.50,187.69 L654.80,187.16 L654.10,187.67 L653.40,186.92 L652.70,187.47 L652.00,186.40 L651.30,187.51 L650.60,186.37 L649.90,186.93 L649.20,187.48 L648.50,186.92 L647.80,186.71 L647.10,186.11 L646.40,186.39 L645.70,186.92 L645.00,185.98 L644.30,186.16 L643.60,186.37 L642.90,186.45 L642.20,186.56 L641.50,185.97 L640.80,186.41 L640.10,185.84 L639.40,186.06 L638.70,186.80 L638.00,186.73 L637.30,186.34 L636.60,185.87 L635.90,185.85 L635.20,186.66 L634.50,186.26 L633.80,185.65 L633.10,185.30 L632.40,185.51 L631.70,185.19 L631.00,185.01 L630.30,185.57 L629.60,185.71 L628.90,185.26 L628.20,184.80 L627.50,185.90 L626.80,185.13 L626.10,185.20 L625.40,185.65 L624.70,184.90 L624.00,185.82 L623.30,185.84 L622.60,185.08 L621.90,184.69 L621.20,185.06 L620.50,185.89 L619.80,184.75 L619.10,184.41 L618.40,184.81 L617.70,184.22 L617.00,185.12 L616.30,183.80 L615.60,184.38 L614.90,184.24 L614.20,183.75 L613.50,184.16 L612.80,183.98 L612.10,184.39 L611.40,183.77 L610.70,184.21 L610.00,183.19 L609.30,182.80 L608.60,183.01 L607.90,183.14 L607.20,182.96 L606.50,183.48 L605.80,183.57 L605.10,183.11 L604.40,182.38 L603.70,182.48 L603.00,182.40 L602.30,182.79 L601.60,182.62 L600.90,181.89 L600.20,181.65 L599.50,182.49 L598.80,181.87 L598.10,181.94 L597.40,182.50 L596.70,181.53 L596.00,181.21 L595.30,180.76 L594.60,181.57 L593.90,182.05 L593.20,180.60 L592.50,180.24 L591.80,180.42 L591.10,180.12 L590.40,181.45 L589.70,180.70 L589.00,179.79 L588.30,179.95 L587.60,179.31 L586.90,178.64 L586.20,179.39 L585.50,178.72 L584.80,179.23 L584.10,178.70 L583.40,178.67 L582.70,177.90 L582.00,178.34 L581.30,177.40 L580.60,176.99 L579.90,177.04 L579.20,175.94 L578.50,176.07 L577.80,175.25 L577.10,175.48 L576.40,174.74 L575.70,175.56 L575.00,174.69 L574.30,174.66 L573.60,173.93 L572.90,173.37 L572.20,173.66 L571.50,173.58 L570.80,172.54 L570.10,173.99 L569.40,172.31 L568.70,173.04 L568.00,172.54 L567.30,172.41 L566.60,170.79 L565.90,170.57 L565.20,170.97 L564.50,169.98 L563.80,169.31 L563.10,168.17 L562.40,167.56 L561.70,167.48 L561.00,167.56 L560.30,166.52 L559.60,166.15 L558.90,165.76 L558.20,164.97 L557.50,163.84 L556.80,163.62 L556.10,162.55 L555.40,162.35 L554.70,161.31 L554.00,161.75 L553.30,161.71 L552.60,160.29 L551.90,159.57 L551.20,158.63 L550.50,158.77 L549.80,158.27 L549.10,157.92 L548.40,156.84 L547.70,155.78 L547.00,155.68 L546.30,154.46 L545.60,153.96 L544.90,153.97 L544.20,152.46 L543.50,151.68 L542.80,151.18 L542.10,150.73 L541.40,150.48 L540.70,149.60 L540.00,149.61 L539.30,148.88 L538.60,147.22 L537.90,146.80 L537.20,146.15 L536.50,145.48 L535.80,143.95 L535.10,142.61 L534.40,142.69 L533.70,141.26 L533.00,140.77 L532.30,138.84 L531.60,138.60 L530.90,137.55 L530.20,136.63 L529.50,136.05 L528.80,134.93 L528.10,133.22 L527.40,133.24 L526.70,132.45 L526.00,131.84 L525.30,130.02 L524.60,129.37 L523.90,127.89 L523.20,128.03 L522.50,126.78 L521.80,126.35 L521.10,125.53 L520.40,124.97 L519.70,124.00 L519.00,122.21 L518.30,122.79 L517.60,120.86 L516.90,120.22 L516.20,119.92 L515.50,120.23 L514.80,119.55 L514.10,120.89 L513.40,121.13 L512.70,124.93 L512.00,128.54 L511.30,131.33 L510.60,134.67 L509.90,138.37 L509.20,143.79 L508.50,148.05 L507.80,154.15 L507.10,159.76 L506.40,165.56 L505.70,171.37 L505.00,173.43 L504.30,178.19 L503.60,184.68 L502.90,188.08 L502.20,192.01 L501.50,191.10 L500.80,191.59 L500.10,191.57 L499.40,192.40 L498.70,191.83 L498.00,190.78 L497.30,191.18 L496.60,190.98 L495.90,190.97 L495.20,191.15 L494.50,190.95 L493.80,191.38 L493.10,191.01 L492.40,190.82 L491.70,190.35 L491.00,191.38 L490.30,191.00 L489.60,189.71 L488.90,190.60 L488.20,190.41 L487.50,190.49 L486.80,190.01 L486.10,189.49 L485.40,191.05 L484.70,189.81 L484.00,189.74 L483.30,189.64 L482.60,190.52Z" fill="#f4f4b0" fill-opacity="0.6" stroke="none"/>
<path d="M482.60,188.67 L483.30,187.60 L484.00,187.44 L484.70,187.45 L485.40,188.16 L486.10,188.56 L486.80,188.76 L487.50,188.12 L488.20,188.15 L488.90,188.66 L489.60,189.36 L490.30,188.63 L491.00,187.98 L491.70,189.06 L492.40,188.07 L493.10,188.89 L493.80,188.37 L494.50,189.39 L495.20,189.25 L495.90,189.51 L496.60,188.73 L497.30,189.27 L498.00,189.76 L498.70,189.67 L499.40,188.64 L500.10,190.45 L500.80,189.93 L501.50,189.79 L502.20,189.02 L502.90,186.86 L503.60,182.40 L504.30,176.96 L505.00,170.78 L505.70,163.43 L506.40,158.27 L507.10,152.06 L507.80,147.05 L508.50,141.18 L509.20,136.53 L509.90,133.42 L510.60,129.39 L511.30,126.66 L512.00,122.38 L512.70,119.51 L513.40,117.17 L514.10,115.45 L514.80,116.30 L515.50,115.12 L516.20,116.68 L516.90,115.50 L517.60,115.67 L518.30,117.98 L519.00,118.04 L519.70,117.92 L520.40,118.52 L521.10,118.50 L521.80,119.87 L522.50,119.24 L523.20,119.76 L523.90,120.22 L524.60,121.11 L525.30,121.33 L526.00,122.29 L526.70,123.57 L527.40,124.44 L528.10,124.45 L528.80,125.93 L529.50,125.82 L530.20,128.15 L530.90,127.91 L531.60,129.22 L532.30,129.65 L533.00,131.20 L533.70,131.06 L534.40,131.70 L535.10,133.06 L535.80,134.22 L536.50,134.85 L537.20,135.89 L537.90,136.39 L538.60,136.92 L539.30,136.99 L540.00,137.12 L540.70,139.30 L541.40,139.53 L542.10,139.95 L542.80,140.81 L543.50,140.26 L544.20,141.39 L544.90,142.16 L545.60,143.41 L546.30,143.36 L547.00,144.13 L547.70,145.07 L548.40,145.33 L549.10,145.06 L549.80,146.54 L550.50,145.59 L551.20,146.54 L551.90,146.73 L552.60,147.42 L553.30,148.62 L554.00,149.09 L554.70,149.01 L555.40,149.33 L556.10,150.49 L556.80,150.38 L557.50,150.24 L558.20,151.44 L558.90,150.78 L559.60,151.13 L560.30,152.53 L561.00,152.54 L561.70,152.30 L562.40,153.44 L563.10,154.27 L563.80,155.53 L564.50,154.49 L565.20,154.65 L565.90,155.28 L566.60,156.11 L567.30,155.75 L568.00,156.73 L568.70,158.08 L569.40,158.08 L570.10,157.43 L570.80,159.26 L571.50,159.07 L572.20,159.17 L572.90,160.50 L573.60,161.49 L574.30,161.43 L575.00,160.92 L575.70,161.41 L576.40,161.93 L577.10,161.33 L577.80,161.76 L578.50,162.33 L579.20,162.16 L579.90,163.64 L580.60,163.27 L581.30,163.55 L582.00,163.78 L582.70,163.53 L583.40,164.44 L584.10,164.45 L584.80,165.35 L585.50,165.07 L586.20,164.81 L586.90,165.23 L587.60,165.31 L588.30,164.58 L589.00,165.92 L589.70,165.65 L590.40,166.00 L591.10,166.93 L591.80,165.94 L592.50,166.70 L593.20,166.31 L593.90,166.17 L594.60,167.20 L595.30,166.97 L596.00,167.25 L596.70,166.96 L597.40,167.44 L598.10,166.54 L598.80,167.54 L599.50,167.54 L600.20,167.91 L600.90,167.85 L601.60,167.92 L602.30,168.29 L603.00,167.99 L603.70,167.15 L604.40,167.73 L605.10,167.71 L605.80,168.14 L606.50,167.91 L607.20,168.06 L607.90,167.55 L608.60,169.52 L609.30,168.83 L610.00,169.11 L610.70,168.72 L611.40,169.58 L612.10,168.51 L612.80,168.26 L613.50,168.92 L614.20,169.67 L614.90,169.01 L615.60,169.31 L616.30,169.29 L617.00,169.83 L617.70,169.70 L618.40,169.79 L619.10,170.05 L619.80,168.82 L620.50,170.07 L621.20,170.34 L621.90,169.88 L622.60,169.47 L623.30,170.19 L624.00,170.15 L624.70,171.28 L625.40,170.31 L626.10,170.85 L626.80,171.20 L627.50,170.28 L628.20,171.18 L628.90,170.32 L629.60,171.15 L630.30,170.81 L631.00,171.53 L631.70,170.99 L632.40,171.26 L633.10,172.06 L633.80,172.35 L634.50,172.39 L635.20,171.87 L635.90,172.15 L636.60,172.68 L637.30,171.65 L638.00,172.69 L638.70,172.05 L639.40,172.67 L640.10,173.01 L640.80,172.82 L641.50,173.12 L642.20,173.45 L642.90,173.48 L643.60,173.33 L644.30,173.92 L645.00,173.73 L645.70,174.46 L646.40,173.04 L647.10,173.30 L647.80,173.26 L648.50,173.84 L649.20,174.94 L649.90,174.11 L650.60,173.72 L651.30,174.60 L652.00,175.22 L652.70,175.38 L653.40,174.67 L654.10,176.17 L654.80,175.48 L655.50,176.39 L656.20,175.80 L656.90,175.24 L657.60,177.00 L658.30,176.12 L659.00,176.17 L659.70,176.64 L660.40,176.97 L661.10,176.50 L661.80,176.16 L662.50,177.10 L663.20,178.39 L663.90,177.67 L664.60,177.87 L665.30,178.26 L666.00,177.97 L666.70,178.68 L667.40,178.79 L668.10,178.68 L668.80,179.27 L669.50,179.04 L670.20,179.92 L670.90,179.54 L671.60,179.65 L672.30,179.25 L672.30,186.13 L671.60,185.72 L670.90,184.84 L670.20,185.35 L669.50,185.78 L668.80,185.27 L668.10,184.48 L667.40,184.36 L666.70,185.24 L666.00,183.32 L665.30,183.30 L664.60,184.02 L663.90,184.45 L663.20,183.73 L662.50,182.73 L661.80,183.51 L661.10,182.16 L660.40,183.13 L659.70,181.58 L659.00,182.05 L658.30,183.14 L657.60,181.88 L656.90,181.58 L656.20,182.07 L655.50,181.74 L654.80,181.34 L654.10,181.14 L653.40,181.44 L652.70,180.66 L652.00,180.68 L651.30,180.60 L650.60,180.14 L649.90,180.68 L649.20,180.26 L648.50,180.43 L647.80,179.13 L647.10,180.21 L646.40,179.62 L645.70,179.65 L645.00,179.23 L644.30,179.64 L643.60,179.45 L642.90,178.72 L642.20,179.51 L641.50,178.05 L640.80,179.30 L640.10,179.01 L639.40,179.41 L638.70,178.34 L638.00,178.66 L637.30,178.05 L636.60,177.55 L635.90,178.20 L635.20,178.26 L634.50,177.93 L633.80,177.80 L633.10,178.75 L632.40,177.61 L631.70,177.11 L631.00,177.62 L630.30,177.17 L629.60,176.67 L628.90,176.10 L628.20,176.87 L627.50,176.65 L626.80,177.06 L626.10,177.01 L625.40,176.54 L624.70,177.04 L624.00,176.00 L623.30,176.23 L622.60,176.15 L621.90,176.45 L621.20,176.78 L620.50,175.26 L619.80,175.41 L619.10,176.08 L618.40,175.05 L617.70,175.80 L617.00,175.65 L616.30,175.77 L615.60,175.68 L614.90,174.74 L614.20,175.65 L613.50,174.68 L612.80,175.16 L612.10,174.79 L611.40,175.35 L610.70,174.70 L610.00,174.97 L609.30,173.87 L608.60,174.52 L607.90,174.48 L607.20,173.92 L606.50,174.90 L605.80,175.06 L605.10,173.77 L604.40,173.25 L603.70,174.37 L603.00,173.26 L602.30,173.92 L601.60,173.45 L600.90,174.51 L600.20,173.78 L599.50,172.71 L598.80,174.25 L598.10,173.15 L597.40,173.29 L596.70,173.34 L596.00,172.36 L595.30,172.89 L594.60,172.11 L593.90,172.20 L593.20,172.54 L592.50,172.45 L591.80,172.13 L591.10,171.91 L590.40,172.43 L589.70,171.72 L589.00,172.05 L588.30,170.68 L587.60,171.34 L586.90,171.56 L586.20,170.52 L585.50,171.04 L584.80,171.27 L584.10,171.15 L583.40,170.68 L582.70,169.73 L582.00,169.71 L581.30,169.93 L580.60,168.89 L579.90,168.96 L579.20,169.22 L578.50,168.96 L577.80,168.36 L577.10,167.39 L576.40,167.65 L575.70,167.23 L575.00,167.12 L574.30,166.91 L573.60,166.86 L572.90,166.32 L572.20,165.87 L571.50,166.10 L570.80,164.72 L570.10,164.25 L569.40,164.14 L568.70,163.84 L568.00,163.17 L567.30,162.82 L566.60,162.32 L565.90,161.57 L565.20,160.66 L564.50,161.44 L563.80,160.24 L563.10,159.31 L562.40,160.12 L561.70,158.97 L561.00,158.35 L560.30,158.74 L559.60,157.32 L558.90,157.01 L558.20,156.70 L557.50,155.91 L556.80,155.99 L556.10,156.60 L555.40,154.86 L554.70,155.27 L554.00,154.51 L553.30,154.51 L552.60,152.78 L551.90,153.29 L551.20,151.96 L550.50,152.58 L549.80,152.65 L549.10,151.66 L548.40,150.76 L547.70,150.00 L547.00,150.38 L546.30,149.61 L545.60,148.19 L544.90,148.07 L544.20,147.28 L543.50,146.20 L542.80,146.32 L542.10,145.49 L541.40,145.61 L540.70,145.25 L540.00,143.57 L539.30,142.94 L538.60,142.96 L537.90,142.09 L537.20,142.03 L536.50,141.38 L535.80,140.44 L535.10,138.11 L534.40,137.90 L533.70,137.84 L533.00,137.40 L532.30,135.56 L531.60,134.68 L530.90,134.16 L530.20,134.23 L529.50,132.65 L528.80,131.91 L528.10,130.68 L527.40,129.58 L526.70,129.31 L526.00,128.86 L525.30,127.84 L524.60,127.58 L523.90,126.79 L523.20,125.54 L522.50,125.07 L521.80,126.21 L521.10,124.83 L520.40,124.53 L519.70,124.69 L519.00,123.44 L518.30,122.81 L517.60,121.60 L516.90,122.56 L516.20,121.75 L515.50,121.20 L514.80,121.70 L514.10,122.42 L513.40,123.41 L512.70,125.79 L512.00,128.12 L511.30,131.61 L510.60,135.45 L509.90,139.34 L509.20,142.96 L508.50,146.52 L507.80,152.34 L507.10,158.10 L506.40,163.36 L505.70,168.57 L505.00,172.55 L504.30,178.39 L503.60,183.65 L502.90,188.46 L502.20,190.56 L501.50,191.35 L500.80,191.67 L500.10,191.70 L499.40,190.63 L498.70,191.24 L498.00,190.93 L497.30,190.67 L496.60,190.54 L495.90,190.79 L495.20,190.33 L494.50,190.11 L493.80,189.87 L493.10,190.71 L492.40,191.05 L491.70,190.23 L491.00,189.95 L490.30,190.76 L489.60,189.93 L488.90,190.63 L488.20,190.41 L487.50,189.49 L486.80,189.10 L486.10,189.14 L485.40,190.08 L484.70,189.36 L484.00,189.37 L483.30,188.61 L482.60,189.76Z" fill="#d8d8d8" fill-opacity="0.5" stroke="none"/>
<path d="M482.60,187.64 L483.30,188.34 L484.00,187.22 L484.70,188.78 L485.40,188.79 L486.10,188.79 L486.80,188.22 L487.50,188.61 L488.20,189.27 L488.90,189.27 L489.60,188.61 L490.30,189.35 L491.00,188.49 L491.70,188.25 L492.40,188.80 L493.10,188.98 L493.80,189.65 L494.50,189.08 L495.20,189.59 L495.90,188.63 L496.60,188.52 L497.30,190.29 L498.00,189.69 L498.70,189.82 L499.40,189.56 L500.10,189.01 L500.80,190.34 L501.50,189.80 L502.20,189.83 L502.90,186.91 L503.60,182.95 L504.30,177.26 L505.00,172.72 L505.70,162.78 L506.40,158.04 L507.10,152.53 L507.80,147.66 L508.50,145.25 L509.20,142.35 L509.90,141.11 L510.60,139.11 L511.30,137.00 L512.00,136.50 L512.70,134.69 L513.40,134.97 L514.10,135.52 L514.80,135.94 L515.50,137.12 L516.20,137.94 L516.90,138.26 L517.60,139.65 L518.30,140.28 L519.00,139.70 L519.70,140.20 L520.40,140.98 L521.10,142.37 L521.80,143.18 L522.50,143.13 L523.20,143.34 L523.90,144.44 L524.60,145.82 L525.30,145.75 L526.00,146.60 L526.70,147.20 L527.40,148.37 L528.10,149.39 L528.80,149.52 L529.50,149.91 L530.20,150.84 L530.90,151.96 L531.60,153.17 L532.30,152.50 L533.00,153.24 L533.70,153.84 L534.40,154.94 L535.10,155.94 L535.80,156.56 L536.50,156.45 L537.20,157.27 L537.90,157.82 L538.60,158.80 L539.30,159.11 L540.00,160.33 L540.70,159.01 L541.40,160.22 L542.10,160.80 L542.80,161.24 L543.50,161.37 L544.20,161.33 L544.90,162.68 L545.60,161.92 L546.30,162.55 L547.00,163.38 L547.70,163.53 L548.40,163.87 L549.10,164.35 L549.80,164.46 L550.50,164.58 L551.20,165.18 L551.90,164.99 L552.60,164.95 L553.30,165.57 L554.00,165.32 L554.70,165.83 L555.40,165.64 L556.10,166.54 L556.80,166.97 L557.50,166.41 L558.20,168.20 L558.90,167.08 L559.60,168.62 L560.30,167.67 L561.00,168.82 L561.70,169.06 L562.40,168.33 L563.10,168.43 L563.80,169.43 L564.50,170.12 L565.20,170.64 L565.90,170.20 L566.60,169.64 L567.30,171.40 L568.00,170.46 L568.70,170.78 L569.40,171.52 L570.10,171.26 L570.80,171.94 L571.50,172.21 L572.20,172.21 L572.90,172.22 L573.60,171.92 L574.30,172.31 L575.00,172.92 L575.70,173.30 L576.40,173.30 L577.10,172.86 L577.80,173.46 L578.50,172.75 L579.20,173.55 L579.90,173.60 L580.60,174.53 L581.30,173.95 L582.00,173.82 L582.70,174.62 L583.40,173.95 L584.10,174.69 L584.80,173.96 L585.50,174.43 L586.20,174.58 L586.90,175.22 L587.60,174.82 L588.30,175.61 L589.00,175.69 L589.70,175.42 L590.40,175.72 L591.10,176.54 L591.80,175.15 L592.50,176.73 L593.20,175.94 L593.90,176.83 L594.60,176.82 L595.30,175.87 L596.00,177.06 L596.70,176.27 L597.40,175.49 L598.10,176.92 L598.80,176.25 L599.50,177.39 L600.20,176.59 L600.90,177.67 L601.60,176.60 L602.30,176.29 L603.00,176.75 L603.70,177.04 L604.40,176.43 L605.10,176.77 L605.80,176.95 L606.50,177.24 L607.20,176.92 L607.90,177.63 L608.60,176.80 L609.30,177.68 L610.00,177.43 L610.70,177.52 L611.40,178.42 L612.10,178.22 L612.80,178.31 L613.50,177.64 L614.20,177.57 L614.90,178.04 L615.60,179.12 L616.30,178.58 L617.00,177.95 L617.70,178.10 L618.40,179.20 L619.10,178.97 L619.80,178.74 L620.50,179.42 L621.20,178.65 L621.90,179.44 L622.60,179.49 L623.30,179.54 L624.00,179.32 L624.70,179.50 L625.40,178.86 L626.10,178.38 L626.80,179.15 L627.50,179.05 L628.20,179.07 L628.90,178.86 L629.60,178.95 L630.30,178.89 L631.00,180.22 L631.70,180.01 L632.40,179.77 L633.10,179.21 L633.80,180.71 L634.50,179.26 L635.20,180.34 L635.90,179.97 L636.60,180.08 L637.30,179.53 L638.00,179.86 L638.70,180.75 L639.40,179.71 L640.10,180.44 L640.80,180.23 L641.50,181.19 L642.20,181.21 L642.90,181.32 L643.60,181.18 L644.30,179.92 L645.00,180.38 L645.70,180.46 L646.40,180.86 L647.10,181.07 L647.80,180.32 L648.50,181.06 L649.20,180.87 L649.90,180.85 L650.60,181.33 L651.30,181.72 L652.00,181.41 L652.70,180.87 L653.40,180.93 L654.10,180.30 L654.80,182.27 L655.50,181.57 L656.20,181.27 L656.90,181.44 L657.60,181.85 L658.30,181.37 L659.00,182.93 L659.70,182.47 L660.40,182.05 L661.10,182.08 L661.80,182.26 L662.50,182.06 L663.20,182.16 L663.90,181.47 L664.60,182.30 L665.30,181.91 L666.00,181.99 L666.70,183.18 L667.40,182.72 L668.10,183.05 L668.80,184.12 L669.50,184.13 L670.20,184.19 L670.90,184.51 L671.60,185.11 L672.30,184.09 L672.30,193.08 L671.60,193.11 L670.90,191.95 L670.20,192.06 L669.50,192.07 L668.80,191.92 L668.10,191.69 L667.40,191.35 L666.70,191.15 L666.00,190.52 L665.30,190.07 L664.60,191.24 L663.90,189.60 L663.20,190.17 L662.50,189.73 L661.80,190.06 L661.10,190.24 L660.40,190.34 L659.70,189.76 L659.00,190.47 L658.30,189.48 L657.60,189.76 L656.90,189.15 L656.20,189.50 L655.50,189.42 L654.80,190.25 L654.10,188.53 L653.40,188.62 L652.70,189.18 L652.00,189.65 L651.30,189.39 L650.60,188.53 L649.90,188.14 L649.20,189.07 L648.50,188.39 L647.80,188.34 L647.10,188.86 L646.40,188.15 L645.70,188.58 L645.00,188.46 L644.30,188.03 L643.60,189.03 L642.90,188.98 L642.20,189.08 L641.50,188.76 L640.80,189.17 L640.10,188.31 L639.40,188.73 L638.70,188.69 L638.00,188.42 L637.30,187.56 L636.60,187.98 L635.90,188.00 L635.20,188.43 L634.50,187.86 L633.80,187.85 L633.10,188.13 L632.40,188.27 L631.70,188.32 L631.00,187.72 L630.30,187.02 L629.60,187.12 L628.90,187.89 L628.20,187.34 L627.50,187.76 L626.80,186.69 L626.10,186.81 L625.40,187.64 L624.70,187.51 L624.00,187.62 L623.30,187.82 L622.60,187.07 L621.90,186.67 L621.20,186.25 L620.50,186.73 L619.80,186.31 L619.10,186.90 L618.40,186.49 L617.70,186.18 L617.00,186.57 L616.30,186.47 L615.60,185.95 L614.90,186.53 L614.20,186.30 L613.50,185.95 L612.80,185.84 L612.10,186.24 L611.40,186.15 L610.70,185.66 L610.00,186.14 L609.30,184.63 L608.60,185.54 L607.90,185.90 L607.20,184.80 L606.50,184.96 L605.80,185.78 L605.10,185.42 L604.40,184.92 L603.70,185.54 L603.00,184.49 L602.30,185.31 L601.60,184.55 L600.90,184.52 L600.20,184.44 L599.50,185.28 L598.80,184.97 L598.10,185.18 L597.40,184.67 L596.70,184.04 L596.00,184.48 L595.30,183.90 L594.60,183.71 L593.90,184.21 L593.20,184.55 L592.50,184.43 L591.80,183.62 L591.10,184.11 L590.40,183.94 L589.70,183.19 L589.00,183.23 L588.30,184.32 L587.60,183.78 L586.90,183.34 L586.20,182.98 L585.50,182.24 L584.80,181.81 L584.10,181.66 L583.40,181.93 L582.70,183.00 L582.00,182.30 L581.30,181.25 L580.60,182.56 L579.90,181.38 L579.20,180.61 L578.50,182.00 L577.80,180.86 L577.10,180.75 L576.40,181.58 L575.70,180.69 L575.00,180.54 L574.30,180.11 L573.60,179.99 L572.90,180.68 L572.20,179.89 L571.50,180.17 L570.80,180.09 L570.10,179.95 L569.40,179.47 L568.70,179.15 L568.00,178.59 L567.30,179.23 L566.60,177.44 L565.90,177.51 L565.20,178.06 L564.50,178.23 L563.80,176.82 L563.10,177.08 L562.40,176.52 L561.70,176.42 L561.00,176.35 L560.30,176.16 L559.60,176.58 L558.90,175.22 L558.20,174.91 L557.50,175.02 L556.80,174.73 L556.10,174.57 L555.40,173.96 L554.70,174.14 L554.00,173.46 L553.30,172.96 L552.60,173.60 L551.90,173.12 L551.20,172.93 L550.50,172.23 L549.80,171.98 L549.10,172.36 L548.40,172.43 L547.70,171.51 L547.00,170.79 L546.30,170.84 L545.60,170.31 L544.90,169.77 L544.20,168.84 L543.50,168.68 L542.80,168.75 L542.10,167.86 L541.40,168.64 L540.70,167.25 L540.00,167.69 L539.30,167.12 L538.60,165.71 L537.90,165.68 L537.20,165.49 L536.50,164.82 L535.80,163.84 L535.10,163.99 L534.40,162.44 L533.70,162.25 L533.00,161.40 L532.30,161.04 L531.60,160.45 L530.90,159.63 L530.20,159.09 L529.50,158.79 L528.80,157.19 L528.10,157.01 L527.40,156.53 L526.70,155.21 L526.00,155.25 L525.30,153.58 L524.60,154.14 L523.90,153.22 L523.20,151.37 L522.50,151.01 L521.80,150.04 L521.10,149.51 L520.40,149.30 L519.70,149.12 L519.00,147.21 L518.30,147.22 L517.60,147.43 L516.90,145.68 L516.20,145.05 L515.50,144.50 L514.80,144.07 L514.10,144.23 L513.40,143.02 L512.70,142.31 L512.00,144.07 L511.30,145.74 L510.60,146.76 L509.90,149.00 L509.20,150.52 L508.50,152.32 L507.80,156.81 L507.10,161.32 L506.40,166.46 L505.70,170.72 L505.00,174.73 L504.30,179.25 L503.60,184.92 L502.90,188.47 L502.20,191.12 L501.50,191.19 L500.80,191.68 L500.10,191.28 L499.40,190.92 L498.70,191.69 L498.00,191.31 L497.30,191.78 L496.60,191.21 L495.90,191.22 L495.20,190.47 L494.50,190.97 L493.80,191.38 L493.10,191.23 L492.40,190.38 L491.70,189.95 L491.00,190.24 L490.30,190.03 L489.60,190.83 L488.90,190.84 L488.20,190.72 L487.50,190.24 L486.80,189.75 L486.10,190.13 L485.40,189.47 L484.70,190.11 L484.00,188.94 L483.30,189.44 L482.60,188.61Z" fill="#c8c8fa" fill-opacity="0.7" stroke="none"/>
<path d="M482.60,187.92 L483.30,188.43 L484.00,187.36 L484.70,187.59 L485.40,188.01 L486.10,187.98 L486.80,187.67 L487.50,188.33 L488.20,188.00 L488.90,187.24 L489.60,188.82 L490.30,188.29 L491.00,188.50 L491.70,187.97 L492.40,188.42 L493.10,188.95 L493.80,188.73 L494.50,189.17 L495.20,188.60 L495.90,188.18 L496.60,189.01 L497.30,187.94 L498.00,189.12 L498.70,188.81 L499.40,188.35 L500.10,189.37 L500.80,189.13 L501.50,188.67 L502.20,188.64 L502.90,186.65 L503.60,182.51 L504.30,178.11 L505.00,172.31 L505.70,165.89 L506.40,162.31 L507.10,157.78 L507.80,154.23 L508.50,151.83 L509.20,147.87 L509.90,145.73 L510.60,141.68 L511.30,140.01 L512.00,140.17 L512.70,140.46 L513.40,141.93 L514.10,144.48 L514.80,145.44 L515.50,147.32 L516.20,148.39 L516.90,150.46 L517.60,152.15 L518.30,152.53 L519.00,155.01 L519.70,156.15 L520.40,156.60 L521.10,158.24 L521.80,160.57 L522.50,161.88 L523.20,162.80 L523.90,163.77 L524.60,165.10 L525.30,166.50 L526.00,166.75 L526.70,166.99 L527.40,168.21 L528.10,168.79 L528.80,169.77 L529.50,170.53 L530.20,172.73 L530.90,172.94 L531.60,173.19 L532.30,173.58 L533.00,174.84 L533.70,173.97 L534.40,174.90 L535.10,175.09 L535.80,175.48 L536.50,176.74 L537.20,176.29 L537.90,176.77 L538.60,177.79 L539.30,178.36 L540.00,178.84 L540.70,178.39 L541.40,178.67 L542.10,180.13 L542.80,179.34 L543.50,179.24 L544.20,179.65 L544.90,180.34 L545.60,180.71 L546.30,179.64 L547.00,180.62 L547.70,180.86 L548.40,180.34 L549.10,180.43 L549.80,180.28 L550.50,181.05 L551.20,181.34 L551.90,182.12 L552.60,180.86 L553.30,181.80 L554.00,182.75 L554.70,182.16 L555.40,181.76 L556.10,181.88 L556.80,182.49 L557.50,183.13 L558.20,182.73 L558.90,183.48 L559.60,182.97 L560.30,182.77 L561.00,183.20 L561.70,183.23 L562.40,182.96 L563.10,184.20 L563.80,183.71 L564.50,184.10 L565.20,183.14 L565.90,184.28 L566.60,184.24 L567.30,184.65 L568.00,184.26 L568.70,185.01 L569.40,184.68 L570.10,184.95 L570.80,185.66 L571.50,185.70 L572.20,185.35 L572.90,185.41 L573.60,184.80 L574.30,184.63 L575.00,186.16 L575.70,185.20 L576.40,185.48 L577.10,185.29 L577.80,185.56 L578.50,186.18 L579.20,185.44 L579.90,185.01 L580.60,186.07 L581.30,185.21 L582.00,185.74 L582.70,184.72 L583.40,186.12 L584.10,186.07 L584.80,185.09 L585.50,185.59 L586.20,185.56 L586.90,184.55 L587.60,185.23 L588.30,184.97 L589.00,185.05 L589.70,184.56 L590.40,184.44 L591.10,184.31 L591.80,184.64 L592.50,184.44 L593.20,184.37 L593.90,185.11 L594.60,185.24 L595.30,184.14 L596.00,184.40 L596.70,184.60 L597.40,184.21 L598.10,183.22 L598.80,184.24 L599.50,183.93 L600.20,183.42 L600.90,183.61 L601.60,183.98 L602.30,183.53 L603.00,183.82 L603.70,183.20 L604.40,183.13 L605.10,183.39 L605.80,184.12 L606.50,183.09 L607.20,183.08 L607.90,182.45 L608.60,183.66 L609.30,183.62 L610.00,182.21 L610.70,182.56 L611.40,182.84 L612.10,182.59 L612.80,183.55 L613.50,182.06 L614.20,183.44 L614.90,182.22 L615.60,182.24 L616.30,183.51 L617.00,183.70 L617.70,183.04 L618.40,182.61 L619.10,182.50 L619.80,182.52 L620.50,182.69 L621.20,182.91 L621.90,182.78 L622.60,181.72 L623.30,183.09 L624.00,182.53 L624.70,183.33 L625.40,181.68 L626.10,183.05 L626.80,182.04 L627.50,182.16 L628.20,183.12 L628.90,181.81 L629.60,182.66 L630.30,181.96 L631.00,182.71 L631.70,182.63 L632.40,183.32 L633.10,182.38 L633.80,182.57 L634.50,182.72 L635.20,182.56 L635.90,182.97 L636.60,182.81 L637.30,182.93 L638.00,182.86 L638.70,181.87 L639.40,182.82 L640.10,182.09 L640.80,181.90 L641.50,182.36 L642.20,182.16 L642.90,181.66 L643.60,182.04 L644.30,181.48 L645.00,182.18 L645.70,181.95 L646.40,181.86 L647.10,181.74 L647.80,181.14 L648.50,181.94 L649.20,181.71 L649.90,181.79 L650.60,181.53 L651.30,182.06 L652.00,181.86 L652.70,181.91 L653.40,182.08 L654.10,181.07 L654.80,181.13 L655.50,182.10 L656.20,182.42 L656.90,182.28 L657.60,181.32 L658.30,182.23 L659.00,181.46 L659.70,182.68 L660.40,181.44 L661.10,181.81 L661.80,182.44 L662.50,182.20 L663.20,182.25 L663.90,182.66 L664.60,182.69 L665.30,182.87 L666.00,181.95 L666.70,183.31 L667.40,182.85 L668.10,182.51 L668.80,183.26 L669.50,182.66 L670.20,182.99 L670.90,183.45 L671.60,183.37 L672.30,184.34 L672.30,188.55 L671.60,187.87 L670.90,188.18 L670.20,188.58 L669.50,188.07 L668.80,188.02 L668.10,187.63 L667.40,187.43 L666.70,188.34 L666.00,187.15 L665.30,188.22 L664.60,187.90 L663.90,188.12 L663.20,186.63 L662.50,187.92 L661.80,186.77 L661.10,188.01 L660.40,187.41 L659.70,187.03 L659.00,187.13 L658.30,186.51 L657.60,187.37 L656.90,187.33 L656.20,187.09 L655.50,186.86 L654.80,187.18 L654.10,187.16 L653.40,185.85 L652.70,186.54 L652.00,186.35 L651.30,185.77 L650.60,186.86 L649.90,187.09 L649.20,186.32 L648.50,185.81 L647.80,185.95 L647.10,186.39 L646.40,186.58 L645.70,185.87 L645.00,186.49 L644.30,186.82 L643.60,186.38 L642.90,186.27 L642.20,187.52 L641.50,186.53 L640.80,186.83 L640.10,186.94 L639.40,187.54 L638.70,186.79 L638.00,188.27 L637.30,187.78 L636.60,187.86 L635.90,187.46 L635.20,187.10 L634.50,187.87 L633.80,187.60 L633.10,187.38 L632.40,188.56 L631.70,187.89 L631.00,187.57 L630.30,187.71 L629.60,187.54 L628.90,187.81 L628.20,187.31 L627.50,188.13 L626.80,187.51 L626.10,187.29 L625.40,187.96 L624.70,187.49 L624.00,188.26 L623.30,188.11 L622.60,187.31 L621.90,187.97 L621.20,187.63 L620.50,186.82 L619.80,187.20 L619.10,187.76 L618.40,187.36 L617.70,187.30 L617.00,188.15 L616.30,187.54 L615.60,187.79 L614.90,187.34 L614.20,187.37 L613.50,187.79 L612.80,187.89 L612.10,187.44 L611.40,187.94 L610.70,188.28 L610.00,188.31 L609.30,188.49 L608.60,187.84 L607.90,187.73 L607.20,187.66 L606.50,187.86 L605.80,188.18 L605.10,187.50 L604.40,187.57 L603.70,188.02 L603.00,188.12 L602.30,188.86 L601.60,189.17 L600.90,188.87 L600.20,189.36 L599.50,188.79 L598.80,189.43 L598.10,189.14 L597.40,189.08 L596.70,189.94 L596.00,189.25 L595.30,189.84 L594.60,190.38 L593.90,190.47 L593.20,188.97 L592.50,189.81 L591.80,189.87 L591.10,190.64 L590.40,189.67 L589.70,189.47 L589.00,190.41 L588.30,189.77 L587.60,189.77 L586.90,190.59 L586.20,190.53 L585.50,191.21 L584.80,190.06 L584.10,190.96 L583.40,189.95 L582.70,190.84 L582.00,190.49 L581.30,190.35 L580.60,189.98 L579.90,189.85 L579.20,190.08 L578.50,190.78 L577.80,190.20 L577.10,190.71 L576.40,191.17 L575.70,189.95 L575.00,189.99 L574.30,190.75 L573.60,189.88 L572.90,190.29 L572.20,190.06 L571.50,189.98 L570.80,190.08 L570.10,190.10 L569.40,189.02 L568.70,189.05 L568.00,189.47 L567.30,189.80 L566.60,189.55 L565.90,188.80 L565.20,189.14 L564.50,188.71 L563.80,189.42 L563.10,189.19 L562.40,188.06 L561.70,188.39 L561.00,188.61 L560.30,188.06 L559.60,187.81 L558.90,187.66 L558.20,187.80 L557.50,187.91 L556.80,187.06 L556.10,187.62 L555.40,187.10 L554.70,186.48 L554.00,186.65 L553.30,186.96 L552.60,186.65 L551.90,187.26 L551.20,186.31 L550.50,187.03 L549.80,185.30 L549.10,186.16 L548.40,185.68 L547.70,185.45 L547.00,184.89 L546.30,184.32 L545.60,185.29 L544.90,184.32 L544.20,185.04 L543.50,184.38 L542.80,184.72 L542.10,184.56 L541.40,184.32 L540.70,183.67 L540.00,184.09 L539.30,182.71 L538.60,182.47 L537.90,182.86 L537.20,180.97 L536.50,181.49 L535.80,180.61 L535.10,181.27 L534.40,179.53 L533.70,179.12 L533.00,179.47 L532.30,179.17 L531.60,178.41 L530.90,177.59 L530.20,177.64 L529.50,176.43 L528.80,175.54 L528.10,175.11 L527.40,173.81 L526.70,173.06 L526.00,171.88 L525.30,170.50 L524.60,170.80 L523.90,168.20 L523.20,167.87 L522.50,166.76 L521.80,166.04 L521.10,163.33 L520.40,162.80 L519.70,161.18 L519.00,160.15 L518.30,157.34 L517.60,157.55 L516.90,155.34 L516.20,154.17 L515.50,151.73 L514.80,150.73 L514.10,148.52 L513.40,146.46 L512.70,145.09 L512.00,144.52 L511.30,144.53 L510.60,147.22 L509.90,149.51 L509.20,152.26 L508.50,156.80 L507.80,159.69 L507.10,161.76 L506.40,166.70 L505.70,171.30 L505.00,174.26 L504.30,179.14 L503.60,185.34 L502.90,188.36 L502.20,189.82 L501.50,190.86 L500.80,190.28 L500.10,190.89 L499.40,190.45 L498.70,190.80 L498.00,190.51 L497.30,189.89 L496.60,190.76 L495.90,190.37 L495.20,189.84 L494.50,189.99 L493.80,189.81 L493.10,190.18 L492.40,189.16 L491.70,190.45 L491.00,189.43 L490.30,190.40 L489.60,189.48 L488.90,189.97 L488.20,188.96 L487.50,189.31 L486.80,189.94 L486.10,189.56 L485.40,189.77 L484.70,189.27 L484.00,189.25 L483.30,189.84 L482.60,189.20Z" fill="#ffd0d0" fill-opacity="0.6" stroke="none"/>
<polyline points="482.60,189.13 483.30,189.38 484.00,189.10 484.70,189.38 485.40,189.63 486.10,189.36 486.80,189.60 487.50,189.67 488.20,189.84 488.90,189.26 489.60,189.43 490.30,190.16 491.00,190.03 491.70,189.71 492.40,190.17 493.10,189.78 493.80,190.00 494.50,190.14 495.20,190.04 495.90,190.03 496.60,190.40 497.30,190.58 498.00,190.39 498.70,190.73 499.40,191.06 500.10,190.39 500.80,190.63 501.50,190.55 502.20,190.55 502.90,187.95 503.60,183.67 504.30,177.85 505.00,172.60 505.70,166.92 506.40,161.01 507.10,155.64 507.80,149.50 508.50,144.11 509.20,139.76 509.90,134.98 510.60,131.18 511.30,127.36 512.00,124.14 512.70,120.52 513.40,117.28 514.10,116.27 514.80,116.14 515.50,116.21 516.20,116.25 516.90,116.69 517.60,117.05 518.30,118.46 519.00,118.71 519.70,119.80 520.40,120.71 521.10,121.54 521.80,122.22 522.50,123.08 523.20,124.23 523.90,124.45 524.60,125.30 525.30,126.25 526.00,127.50 526.70,128.16 527.40,129.05 528.10,129.71 528.80,130.67 529.50,132.00 530.20,132.58 530.90,133.68 531.60,134.42 532.30,135.39 533.00,136.21 533.70,137.70 534.40,138.39 535.10,139.19 535.80,139.90 536.50,141.30 537.20,142.00 537.90,142.57 538.60,143.48 539.30,144.86 540.00,145.03 540.70,145.71 541.40,146.07 542.10,147.30 542.80,147.41 543.50,148.28 544.20,149.02 544.90,149.48 545.60,149.96 546.30,150.48 547.00,151.44 547.70,151.70 548.40,152.60 549.10,153.48 549.80,154.06 550.50,154.47 551.20,155.02 551.90,155.28 552.60,156.42 553.30,157.11 554.00,157.27 554.70,157.63 555.40,158.58 556.10,159.05 556.80,159.94 557.50,160.41 558.20,160.70 558.90,161.34 559.60,161.85 560.30,162.54 561.00,163.08 561.70,163.65 562.40,163.84 563.10,164.87 563.80,164.82 564.50,165.54 565.20,166.32 565.90,166.45 566.60,167.46 567.30,167.79 568.00,168.30 568.70,168.48 569.40,168.98 570.10,169.33 570.80,169.09 571.50,169.91 572.20,170.22 572.90,170.04 573.60,170.26 574.30,170.66 575.00,170.75 575.70,171.01 576.40,171.14 577.10,171.45 577.80,171.61 578.50,171.68 579.20,172.50 579.90,172.69 580.60,172.44 581.30,173.33 582.00,173.78 582.70,173.60 583.40,174.28 584.10,174.00 584.80,174.61 585.50,175.03 586.20,174.99 586.90,175.18 587.60,175.33 588.30,175.94 589.00,176.03 589.70,176.43 590.40,176.76 591.10,176.61 591.80,176.85 592.50,176.66 593.20,177.26 593.90,177.42 594.60,177.18 595.30,177.21 596.00,177.66 596.70,177.62 597.40,178.01 598.10,178.06 598.80,177.93 599.50,178.02 600.20,178.24 600.90,178.36 601.60,178.37 602.30,178.53 603.00,178.49 603.70,178.86 604.40,178.79 605.10,178.62 605.80,179.12 606.50,178.97 607.20,179.08 607.90,179.37 608.60,179.70 609.30,179.43 610.00,179.52 610.70,179.81 611.40,180.08 612.10,180.14 612.80,180.38 613.50,179.74 614.20,180.21 614.90,180.18 615.60,180.28 616.30,180.33 617.00,180.65 617.70,180.89 618.40,180.90 619.10,180.53 619.80,180.93 620.50,181.29 621.20,181.00 621.90,180.96 622.60,181.08 623.30,181.34 624.00,181.14 624.70,181.09 625.40,181.01 626.10,181.16 626.80,181.65 627.50,181.22 628.20,181.48 628.90,181.49 629.60,181.97 630.30,182.04 631.00,181.46 631.70,181.59 632.40,181.73 633.10,181.71 633.80,182.02 634.50,182.44 635.20,182.06 635.90,182.34 636.60,182.25 637.30,182.64 638.00,182.26 638.70,182.53 639.40,182.15 640.10,182.40 640.80,182.17 641.50,182.58 642.20,182.71 642.90,182.39 643.60,182.65 644.30,182.84 645.00,182.59 645.70,183.11 646.40,182.46 647.10,182.72 647.80,183.24 648.50,183.27 649.20,182.92 649.90,182.70 650.60,182.86 651.30,182.95 652.00,182.94 652.70,183.03 653.40,183.01 654.10,183.46 654.80,182.82 655.50,183.50 656.20,183.15 656.90,183.67 657.60,183.63 658.30,183.68 659.00,183.40 659.70,183.70 660.40,183.15 661.10,183.34 661.80,183.21 662.50,183.18 663.20,183.91 663.90,183.50 664.60,183.42 665.30,183.98 666.00,183.95 666.70,183.83 667.40,183.61 668.10,183.49 668.80,183.53 669.50,183.95 670.20,184.23 670.90,184.04 671.60,183.77 672.30,183.71" stroke="#e2e21e" stroke-width="1.5" fill="none" stroke-linejoin="round" />
<polyline points="482.60,188.96 483.30,188.38 484.00,188.78 484.70,188.78 485.40,189.23 486.10,188.84 486.80,188.95 487.50,189.13 488.20,189.04 488.90,189.53 489.60,189.56 490.30,189.51 491.00,189.04 491.70,189.85 492.40,189.57 493.10,189.67 493.80,189.69 494.50,189.74 495.20,190.14 495.90,189.68 496.60,189.64 497.30,190.39 498.00,189.86 498.70,189.94 499.40,190.14 500.10,190.57 500.80,190.22 501.50,190.00 502.20,189.72 502.90,187.33 503.60,182.90 504.30,177.99 505.00,172.25 505.70,166.16 506.40,160.64 507.10,155.61 507.80,149.78 508.50,144.19 509.20,139.67 509.90,136.15 510.60,132.25 511.30,129.27 512.00,125.48 512.70,122.56 513.40,120.00 514.10,118.83 514.80,118.71 515.50,118.74 516.20,119.20 516.90,119.03 517.60,119.15 518.30,120.28 519.00,120.81 519.70,121.22 520.40,121.25 521.10,121.77 521.80,122.57 522.50,122.49 523.20,122.94 523.90,123.77 524.60,124.01 525.30,124.78 526.00,125.24 526.70,126.69 527.40,127.14 528.10,127.83 528.80,128.61 529.50,129.40 530.20,130.61 530.90,131.44 531.60,132.25 532.30,133.17 533.00,133.72 533.70,134.36 534.40,135.20 535.10,135.78 535.80,136.78 536.50,137.68 537.20,138.71 537.90,139.13 538.60,139.33 539.30,140.27 540.00,140.70 540.70,141.66 541.40,142.27 542.10,142.66 542.80,143.30 543.50,143.70 544.20,144.17 544.90,145.18 545.60,145.74 546.30,146.15 547.00,147.04 547.70,147.53 548.40,148.00 549.10,148.04 549.80,149.19 550.50,148.94 551.20,149.46 551.90,149.83 552.60,150.31 553.30,151.17 554.00,151.49 554.70,151.59 555.40,152.08 556.10,152.95 556.80,153.05 557.50,153.40 558.20,154.31 558.90,154.31 559.60,154.61 560.30,155.39 561.00,156.00 561.70,155.86 562.40,156.79 563.10,156.87 563.80,157.86 564.50,157.97 565.20,158.30 565.90,158.72 566.60,158.94 567.30,159.34 568.00,160.14 568.70,160.56 569.40,160.71 570.10,161.11 570.80,161.80 571.50,162.60 572.20,162.34 572.90,163.26 573.60,163.89 574.30,163.81 575.00,164.22 575.70,164.65 576.40,164.61 577.10,164.65 577.80,164.96 578.50,165.77 579.20,165.60 579.90,166.18 580.60,165.82 581.30,166.50 582.00,166.29 582.70,166.61 583.40,167.12 584.10,167.54 584.80,167.73 585.50,167.80 586.20,167.46 586.90,168.09 587.60,168.37 588.30,168.22 589.00,168.65 589.70,168.68 590.40,169.13 591.10,169.33 591.80,169.37 592.50,169.10 593.20,169.04 593.90,169.34 594.60,169.63 595.30,169.40 596.00,170.03 596.70,170.17 597.40,170.22 598.10,170.17 598.80,170.64 599.50,170.34 600.20,170.38 600.90,170.86 601.60,170.76 602.30,170.83 603.00,170.84 603.70,170.77 604.40,170.92 605.10,171.12 605.80,171.54 606.50,171.32 607.20,171.30 607.90,171.25 608.60,171.86 609.30,171.55 610.00,171.66 610.70,171.46 611.40,172.07 612.10,171.85 612.80,171.89 613.50,172.01 614.20,172.00 614.90,172.15 615.60,172.19 616.30,172.25 617.00,172.72 617.70,172.91 618.40,172.65 619.10,172.43 619.80,172.50 620.50,172.72 621.20,173.26 621.90,173.40 622.60,172.82 623.30,172.93 624.00,173.68 624.70,173.63 625.40,173.55 626.10,173.81 626.80,173.81 627.50,173.60 628.20,174.32 628.90,173.72 629.60,174.08 630.30,173.93 631.00,174.05 631.70,174.26 632.40,174.35 633.10,175.06 633.80,174.87 634.50,175.03 635.20,175.31 635.90,175.21 636.60,175.01 637.30,175.14 638.00,175.12 638.70,175.51 639.40,175.91 640.10,176.14 640.80,176.00 641.50,175.75 642.20,176.35 642.90,176.30 643.60,176.28 644.30,176.66 645.00,176.41 645.70,176.86 646.40,176.65 647.10,176.87 647.80,176.75 648.50,176.80 649.20,177.31 649.90,177.51 650.60,177.00 651.30,177.24 652.00,177.85 652.70,178.13 653.40,178.02 654.10,178.48 654.80,178.35 655.50,178.85 656.20,178.67 656.90,178.77 657.60,179.30 658.30,179.58 659.00,179.11 659.70,179.28 660.40,179.60 661.10,179.62 661.80,179.82 662.50,180.27 663.20,180.82 663.90,180.88 664.60,180.64 665.30,180.82 666.00,181.00 666.70,181.62 667.40,181.37 668.10,181.40 668.80,182.20 669.50,182.35 670.20,182.29 670.90,182.36 671.60,182.32 672.30,182.67" stroke="#000" stroke-width="1.5" fill="none" stroke-linejoin="round" />
<polyline points="482.60,188.23 483.30,188.46 484.00,188.25 484.70,188.84 485.40,188.43 486.10,188.75 486.80,189.11 487.50,188.75 488.20,189.27 488.90,189.14 489.60,189.06 490.30,189.19 491.00,189.21 491.70,189.10 492.40,189.67 493.10,189.25 493.80,189.78 494.50,189.74 495.20,189.18 495.90,189.48 496.60,189.79 497.30,190.20 498.00,189.83 498.70,190.31 499.40,190.25 500.10,190.72 500.80,190.97 501.50,190.98 502.20,189.95 502.90,187.34 503.60,181.53 504.30,174.53 505.00,166.91 505.70,159.93 506.40,152.67 507.10,145.22 507.80,137.90 508.50,130.57 509.20,123.55 509.90,117.51 510.60,113.60 511.30,109.27 512.00,104.99 512.70,101.41 513.40,97.48 514.10,93.76 514.80,91.68 515.50,89.17 516.20,88.46 516.90,86.84 517.60,85.20 518.30,84.00 519.00,83.01 519.70,82.35 520.40,83.14 521.10,83.71 521.80,84.62 522.50,85.15 523.20,85.77 523.90,86.59 524.60,87.19 525.30,87.86 526.00,88.92 526.70,90.30 527.40,91.92 528.10,93.39 528.80,94.71 529.50,96.10 530.20,96.84 530.90,98.48 531.60,99.43 532.30,100.93 533.00,101.99 533.70,103.03 534.40,104.33 535.10,104.88 535.80,106.34 536.50,107.29 537.20,108.05 537.90,109.72 538.60,110.03 539.30,111.38 540.00,112.43 540.70,113.45 541.40,114.74 542.10,115.37 542.80,116.62 543.50,117.13 544.20,118.25 544.90,118.97 545.60,120.34 546.30,121.14 547.00,122.41 547.70,122.85 548.40,124.09 549.10,125.40 549.80,125.51 550.50,126.88 551.20,127.73 551.90,128.61 552.60,129.32 553.30,130.12 554.00,131.33 554.70,131.63 555.40,132.81 556.10,133.62 556.80,134.52 557.50,135.16 558.20,135.57 558.90,136.82 559.60,136.93 560.30,137.75 561.00,138.33 561.70,138.59 562.40,138.71 563.10,139.49 563.80,139.54 564.50,139.91 565.20,140.53 565.90,141.02 566.60,141.47 567.30,141.78 568.00,142.13 568.70,142.97 569.40,143.32 570.10,144.29 570.80,144.55 571.50,145.39 572.20,146.72 572.90,146.95 573.60,147.85 574.30,148.30 575.00,149.45 575.70,149.51 576.40,149.54 577.10,149.98 577.80,150.75 578.50,150.86 579.20,150.51 579.90,151.53 580.60,151.09 581.30,151.69 582.00,152.00 582.70,152.48 583.40,152.23 584.10,153.05 584.80,152.88 585.50,153.53 586.20,153.95 586.90,153.95 587.60,153.75 588.30,154.56 589.00,154.64 589.70,155.15 590.40,155.44 591.10,155.12 591.80,155.70 592.50,155.97 593.20,156.41 593.90,156.37 594.60,156.58 595.30,156.91 596.00,156.63 596.70,157.40 597.40,157.39 598.10,157.64 598.80,157.46 599.50,157.97 600.20,158.08 600.90,158.13 601.60,158.93 602.30,159.06 603.00,158.96 603.70,158.86 604.40,159.80 605.10,159.31 605.80,159.84 606.50,160.09 607.20,160.54 607.90,160.59 608.60,160.75 609.30,160.89 610.00,161.48 610.70,161.56 611.40,161.40 612.10,161.96 612.80,162.29 613.50,162.13 614.20,162.02 614.90,162.22 615.60,163.15 616.30,162.75 617.00,163.44 617.70,163.16 618.40,163.40 619.10,163.56 619.80,164.29 620.50,163.92 621.20,164.40 621.90,164.83 622.60,164.75 623.30,164.47 624.00,164.62 624.70,165.41 625.40,165.13 626.10,165.10 626.80,165.60 627.50,165.94 628.20,165.70 628.90,165.71 629.60,165.89 630.30,166.26 631.00,166.65 631.70,166.23 632.40,166.92 633.10,167.00 633.80,167.04 634.50,167.04 635.20,166.90 635.90,167.42 636.60,167.49 637.30,167.84 638.00,167.49 638.70,167.72 639.40,167.74 640.10,168.25 640.80,168.05 641.50,168.57 642.20,168.64 642.90,168.69 643.60,168.72 644.30,169.45 645.00,169.24 645.70,169.07 646.40,169.60 647.10,169.88 647.80,169.81 648.50,170.27 649.20,170.37 649.90,170.38 650.60,170.00 651.30,170.46 652.00,170.74 652.70,170.70 653.40,171.22 654.10,171.62 654.80,171.94 655.50,172.20 656.20,172.45 656.90,172.35 657.60,172.86 658.30,173.02 659.00,173.49 659.70,173.23 660.40,173.54 661.10,174.22 661.80,174.49 662.50,174.35 663.20,175.04 663.90,175.30 664.60,175.45 665.30,175.56 666.00,175.50 666.70,175.89 667.40,176.58 668.10,176.97 668.80,176.61 669.50,176.76 670.20,177.27 670.90,178.00 671.60,177.68 672.30,178.38" stroke="#35b69a" stroke-width="1.5" fill="none" stroke-linejoin="round" />
<polyline points="482.60,189.03 483.30,188.88 484.00,189.25 484.70,189.00 485.40,189.26 486.10,189.72 486.80,189.09 487.50,189.34 488.20,189.70 488.90,189.30 489.60,189.42 490.30,190.03 491.00,190.22 491.70,189.76 492.40,189.73 493.10,190.42 493.80,189.98 494.50,190.27 495.20,190.34 495.90,190.43 496.60,190.73 497.30,190.83 498.00,190.69 498.70,190.86 499.40,190.91 500.10,190.86 500.80,190.76 501.50,190.66 502.20,190.32 502.90,188.94 503.60,185.30 504.30,180.27 505.00,176.36 505.70,171.29 506.40,167.07 507.10,162.33 507.80,157.63 508.50,153.03 509.20,148.81 509.90,144.19 510.60,139.89 511.30,135.48 512.00,131.11 512.70,126.67 513.40,122.02 514.10,118.24 514.80,114.77 515.50,112.95 516.20,111.32 516.90,109.74 517.60,107.61 518.30,106.93 519.00,106.49 519.70,106.39 520.40,106.94 521.10,107.40 521.80,107.36 522.50,107.99 523.20,109.34 523.90,110.31 524.60,111.88 525.30,112.89 526.00,113.98 526.70,115.07 527.40,115.72 528.10,117.23 528.80,117.81 529.50,118.84 530.20,119.94 530.90,120.71 531.60,121.40 532.30,122.66 533.00,123.89 533.70,124.05 534.40,125.04 535.10,126.46 535.80,127.01 536.50,127.83 537.20,128.71 537.90,129.98 538.60,130.69 539.30,131.62 540.00,132.57 540.70,133.89 541.40,134.27 542.10,135.60 542.80,136.74 543.50,137.22 544.20,138.45 544.90,139.46 545.60,140.69 546.30,141.55 547.00,142.36 547.70,142.88 548.40,143.54 549.10,144.49 549.80,144.40 550.50,144.94 551.20,145.55 551.90,146.02 552.60,146.65 553.30,147.34 554.00,148.24 554.70,148.97 555.40,148.78 556.10,149.72 556.80,150.03 557.50,151.05 558.20,151.60 558.90,151.82 559.60,151.75 560.30,152.60 561.00,153.01 561.70,153.57 562.40,153.78 563.10,154.09 563.80,155.02 564.50,155.66 565.20,155.73 565.90,156.24 566.60,156.44 567.30,157.29 568.00,157.99 568.70,158.22 569.40,158.44 570.10,158.95 570.80,160.06 571.50,160.47 572.20,160.63 572.90,161.35 573.60,161.56 574.30,162.43 575.00,162.43 575.70,162.99 576.40,163.38 577.10,163.61 577.80,163.72 578.50,164.27 579.20,164.18 579.90,164.86 580.60,165.14 581.30,165.18 582.00,165.74 582.70,165.42 583.40,166.25 584.10,165.75 584.80,166.41 585.50,166.35 586.20,166.54 586.90,166.92 587.60,167.25 588.30,167.20 589.00,167.67 589.70,168.42 590.40,168.52 591.10,168.55 591.80,168.90 592.50,168.62 593.20,168.94 593.90,169.15 594.60,168.96 595.30,169.04 596.00,168.88 596.70,169.61 597.40,169.23 598.10,169.22 598.80,169.35 599.50,169.90 600.20,169.61 600.90,170.02 601.60,170.10 602.30,170.45 603.00,170.45 603.70,170.66 604.40,170.18 605.10,170.14 605.80,170.24 606.50,170.48 607.20,170.50 607.90,170.65 608.60,171.20 609.30,171.09 610.00,171.05 610.70,171.35 611.40,171.23 612.10,171.45 612.80,171.58 613.50,171.42 614.20,172.23 614.90,172.30 615.60,171.98 616.30,172.29 617.00,171.92 617.70,172.31 618.40,172.59 619.10,172.55 619.80,172.41 620.50,172.80 621.20,172.68 621.90,173.02 622.60,173.10 623.30,173.00 624.00,173.27 624.70,173.23 625.40,172.71 626.10,173.42 626.80,173.18 627.50,173.10 628.20,173.07 628.90,173.35 629.60,172.96 630.30,173.28 631.00,173.07 631.70,173.23 632.40,173.28 633.10,173.24 633.80,173.31 634.50,172.88 635.20,173.05 635.90,173.20 636.60,173.18 637.30,173.22 638.00,173.18 638.70,173.19 639.40,173.34 640.10,173.10 640.80,173.07 641.50,173.72 642.20,173.54 642.90,173.67 643.60,173.31 644.30,173.77 645.00,173.41 645.70,173.46 646.40,173.11 647.10,173.28 647.80,173.63 648.50,173.75 649.20,173.40 649.90,173.82 650.60,173.70 651.30,173.22 652.00,173.41 652.70,174.03 653.40,173.68 654.10,173.29 654.80,173.86 655.50,173.64 656.20,173.45 656.90,174.15 657.60,173.75 658.30,173.99 659.00,173.75 659.70,174.22 660.40,174.02 661.10,173.84 661.80,173.82 662.50,174.36 663.20,174.16 663.90,174.45 664.60,173.84 665.30,174.07 666.00,174.31 666.70,174.56 667.40,174.42 668.10,174.20 668.80,174.59 669.50,174.49 670.20,174.18 670.90,174.24 671.60,174.43 672.30,174.78" stroke="#6a35a8" stroke-width="1.5" fill="none" stroke-linejoin="round" />
<polyline points="482.60,189.43 483.30,188.73 484.00,189.35 484.70,189.25 485.40,189.70 486.10,189.36 486.80,189.86 487.50,189.34 488.20,190.09 488.90,189.71 489.60,189.62 490.30,189.83 491.00,190.15 491.70,189.76 492.40,190.13 493.10,189.91 493.80,190.05 494.50,190.22 495.20,190.35 495.90,190.47 496.60,190.96 497.30,190.76 498.00,191.20 498.70,191.32 499.40,191.41 500.10,191.53 500.80,191.32 501.50,191.49 502.20,191.13 502.90,188.21 503.60,183.11 504.30,177.12 505.00,170.82 505.70,164.24 506.40,157.87 507.10,151.65 507.80,145.76 508.50,140.39 509.20,135.79 509.90,132.11 510.60,128.43 511.30,125.05 512.00,122.22 512.70,118.76 513.40,116.01 514.10,113.85 514.80,112.66 515.50,111.66 516.20,110.58 516.90,109.91 517.60,108.63 518.30,107.78 519.00,106.75 519.70,106.17 520.40,105.92 521.10,105.68 521.80,104.91 522.50,105.29 523.20,104.94 523.90,104.65 524.60,104.09 525.30,104.22 526.00,103.84 526.70,103.15 527.40,103.48 528.10,103.79 528.80,104.07 529.50,104.55 530.20,104.61 530.90,105.08 531.60,104.97 532.30,105.80 533.00,105.74 533.70,106.56 534.40,107.06 535.10,107.02 535.80,107.17 536.50,107.56 537.20,108.36 537.90,108.48 538.60,109.36 539.30,109.67 540.00,110.00 540.70,110.55 541.40,110.55 542.10,111.21 542.80,111.29 543.50,112.11 544.20,112.72 544.90,112.67 545.60,113.62 546.30,114.42 547.00,114.45 547.70,114.92 548.40,115.52 549.10,116.55 549.80,116.51 550.50,117.64 551.20,117.79 551.90,118.75 552.60,119.42 553.30,119.95 554.00,119.99 554.70,120.84 555.40,121.21 556.10,122.21 556.80,122.31 557.50,122.76 558.20,123.51 558.90,123.81 559.60,124.48 560.30,125.42 561.00,125.68 561.70,126.12 562.40,127.28 563.10,127.29 563.80,128.28 564.50,128.71 565.20,129.08 565.90,129.59 566.60,129.97 567.30,130.61 568.00,130.93 568.70,131.02 569.40,131.76 570.10,132.08 570.80,132.85 571.50,132.63 572.20,133.18 572.90,133.65 573.60,132.77 574.30,133.08 575.00,133.00 575.70,132.54 576.40,132.03 577.10,132.71 577.80,132.59 578.50,133.10 579.20,133.65 579.90,133.55 580.60,133.81 581.30,134.02 582.00,134.51 582.70,134.62 583.40,135.41 584.10,135.82 584.80,135.51 585.50,136.20 586.20,136.72 586.90,137.02 587.60,136.92 588.30,137.44 589.00,137.87 589.70,138.05 590.40,138.76 591.10,139.03 591.80,139.42 592.50,139.10 593.20,139.37 593.90,140.17 594.60,140.51 595.30,140.61 596.00,140.94 596.70,141.73 597.40,142.09 598.10,141.81 598.80,142.25 599.50,143.08 600.20,143.19 600.90,143.32 601.60,144.31 602.30,144.16 603.00,144.31 603.70,144.93 604.40,145.27 605.10,145.82 605.80,146.26 606.50,146.07 607.20,146.73 607.90,147.43 608.60,147.45 609.30,148.12 610.00,148.48 610.70,148.76 611.40,148.99 612.10,148.91 612.80,149.96 613.50,149.77 614.20,150.12 614.90,150.63 615.60,151.01 616.30,151.55 617.00,151.72 617.70,152.38 618.40,152.62 619.10,152.86 619.80,152.92 620.50,153.55 621.20,153.76 621.90,154.27 622.60,154.16 623.30,154.85 624.00,155.07 624.70,154.92 625.40,155.80 626.10,155.72 626.80,155.97 627.50,156.16 628.20,156.48 628.90,157.09 629.60,157.47 630.30,157.38 631.00,157.71 631.70,157.94 632.40,157.94 633.10,158.84 633.80,158.74 634.50,158.70 635.20,159.15 635.90,159.47 636.60,160.10 637.30,159.84 638.00,160.03 638.70,160.84 639.40,160.57 640.10,161.28 640.80,160.75 641.50,161.02 642.20,161.33 642.90,161.68 643.60,162.01 644.30,162.05 645.00,162.77 645.70,162.96 646.40,162.87 647.10,163.41 647.80,163.52 648.50,163.82 649.20,163.72 649.90,163.55 650.60,164.13 651.30,163.92 652.00,164.42 652.70,165.10 653.40,164.84 654.10,165.29 654.80,165.72 655.50,165.74 656.20,165.70 656.90,166.02 657.60,165.92 658.30,166.67 659.00,166.78 659.70,166.73 660.40,167.04 661.10,167.59 661.80,167.16 662.50,167.51 663.20,168.06 663.90,168.40 664.60,168.42 665.30,168.71 666.00,168.43 666.70,169.09 667.40,169.30 668.10,169.13 668.80,169.71 669.50,169.71 670.20,170.00 670.90,170.57 671.60,170.82 672.30,170.27" stroke="#45c6ee" stroke-width="1.5" fill="none" stroke-linejoin="round" />
<polyline points="482.60,188.51 483.30,189.23 484.00,188.66 484.70,189.20 485.40,189.35 486.10,189.35 486.80,189.06 487.50,189.17 488.20,189.53 488.90,189.80 489.60,189.63 490.30,189.60 491.00,189.55 491.70,189.63 492.40,189.95 493.10,189.79 493.80,189.94 494.50,190.09 495.20,190.16 495.90,189.76 496.60,189.98 497.30,190.43 498.00,190.39 498.70,190.67 499.40,190.11 500.10,190.33 500.80,190.61 501.50,190.88 502.20,189.99 502.90,188.17 503.60,183.80 504.30,178.33 505.00,173.36 505.70,167.39 506.40,162.66 507.10,156.78 507.80,152.28 508.50,148.81 509.20,146.88 509.90,145.38 510.60,143.07 511.30,141.54 512.00,139.87 512.70,138.98 513.40,138.87 514.10,139.93 514.80,140.30 515.50,140.94 516.20,141.65 516.90,141.85 517.60,143.02 518.30,143.67 519.00,143.78 519.70,144.87 520.40,145.46 521.10,145.84 521.80,146.52 522.50,147.07 523.20,148.03 523.90,148.76 524.60,149.49 525.30,150.19 526.00,150.94 526.70,151.30 527.40,152.08 528.10,153.05 528.80,153.67 529.50,154.10 530.20,154.82 530.90,156.01 531.60,156.49 532.30,157.07 533.00,157.40 533.70,158.08 534.40,158.93 535.10,159.45 535.80,160.14 536.50,160.28 537.20,161.45 537.90,161.67 538.60,162.36 539.30,163.02 540.00,163.76 540.70,163.67 541.40,164.22 542.10,164.22 542.80,165.15 543.50,164.95 544.20,165.53 544.90,165.99 545.60,166.36 546.30,166.51 547.00,167.02 547.70,166.86 548.40,167.98 549.10,167.94 549.80,168.25 550.50,168.24 551.20,168.69 551.90,169.08 552.60,169.16 553.30,169.19 554.00,169.51 554.70,170.32 555.40,170.04 556.10,170.55 556.80,170.98 557.50,170.85 558.20,171.58 558.90,171.58 559.60,172.22 560.30,171.89 561.00,172.32 561.70,172.54 562.40,172.73 563.10,173.11 563.80,173.38 564.50,173.59 565.20,174.19 565.90,173.96 566.60,173.94 567.30,174.70 568.00,174.65 568.70,174.52 569.40,175.30 570.10,175.48 570.80,175.62 571.50,175.96 572.20,175.72 572.90,176.37 573.60,176.19 574.30,176.79 575.00,177.08 575.70,176.89 576.40,176.92 577.10,177.31 577.80,177.44 578.50,177.41 579.20,177.22 579.90,177.58 580.60,177.98 581.30,177.59 582.00,178.05 582.70,178.59 583.40,178.57 584.10,178.35 584.80,178.39 585.50,178.88 586.20,179.06 586.90,178.94 587.60,179.27 588.30,179.79 589.00,179.66 589.70,179.71 590.40,179.44 591.10,179.86 591.80,179.56 592.50,180.39 593.20,180.10 593.90,180.23 594.60,180.36 595.30,179.92 596.00,180.61 596.70,180.58 597.40,180.15 598.10,180.89 598.80,180.92 599.50,181.09 600.20,180.44 600.90,181.17 601.60,181.13 602.30,180.78 603.00,180.70 603.70,181.25 604.40,180.83 605.10,181.28 605.80,181.56 606.50,181.30 607.20,181.32 607.90,181.45 608.60,181.28 609.30,181.31 610.00,181.78 610.70,182.05 611.40,182.26 612.10,181.61 612.80,181.84 613.50,182.32 614.20,181.97 614.90,182.42 615.60,182.62 616.30,182.63 617.00,182.51 617.70,182.66 618.40,182.83 619.10,182.33 619.80,182.55 620.50,182.94 621.20,182.79 621.90,183.08 622.60,183.30 623.30,183.15 624.00,183.10 624.70,183.26 625.40,183.47 626.10,182.86 626.80,182.87 627.50,183.52 628.20,183.62 628.90,183.52 629.60,183.41 630.30,183.31 631.00,183.94 631.70,183.77 632.40,184.04 633.10,183.83 633.80,184.04 634.50,183.60 635.20,184.04 635.90,183.59 636.60,183.83 637.30,183.98 638.00,184.09 638.70,184.52 639.40,184.28 640.10,183.92 640.80,184.52 641.50,184.54 642.20,184.65 642.90,184.79 643.60,184.72 644.30,184.56 645.00,184.73 645.70,184.29 646.40,184.60 647.10,184.68 647.80,185.00 648.50,184.51 649.20,184.68 649.90,184.76 650.60,184.78 651.30,185.05 652.00,185.53 652.70,185.07 653.40,184.93 654.10,184.97 654.80,185.62 655.50,185.42 656.20,185.96 656.90,185.45 657.60,186.10 658.30,185.64 659.00,186.25 659.70,186.29 660.40,185.94 661.10,185.76 661.80,186.26 662.50,186.31 663.20,186.42 663.90,186.10 664.60,186.75 665.30,186.50 666.00,186.68 666.70,186.71 667.40,186.90 668.10,187.46 668.80,187.44 669.50,187.81 670.20,188.38 670.90,188.62 671.60,188.60 672.30,188.53" stroke="#0000ff" stroke-width="1.5" fill="none" stroke-linejoin="round" />
<polyline points="482.60,188.90 483.30,188.60 484.00,188.58 484.70,188.68 485.40,188.92 486.10,189.15 486.80,188.75 487.50,188.65 488.20,188.82 488.90,188.62 489.60,189.14 490.30,189.47 491.00,188.89 491.70,189.39 492.40,189.00 493.10,189.63 493.80,189.38 494.50,189.30 495.20,189.06 495.90,189.22 496.60,189.87 497.30,189.35 498.00,189.74 498.70,189.75 499.40,189.71 500.10,189.98 500.80,189.56 501.50,190.05 502.20,189.14 502.90,187.20 503.60,183.86 504.30,178.59 505.00,173.66 505.70,169.07 506.40,164.39 507.10,159.72 507.80,156.73 508.50,153.68 509.20,150.23 509.90,147.70 510.60,144.26 511.30,142.60 512.00,142.08 512.70,142.86 513.40,144.47 514.10,146.44 514.80,147.59 515.50,149.43 516.20,151.08 516.90,152.33 517.60,154.57 518.30,155.47 519.00,157.38 519.70,158.55 520.40,159.61 521.10,161.27 521.80,162.91 522.50,164.24 523.20,165.87 523.90,166.24 524.60,167.78 525.30,168.67 526.00,168.98 526.70,170.12 527.40,170.63 528.10,171.92 528.80,172.88 529.50,173.42 530.20,174.69 530.90,175.04 531.60,175.52 532.30,176.35 533.00,176.98 533.70,177.05 534.40,177.40 535.10,178.17 535.80,178.60 536.50,178.60 537.20,179.04 537.90,179.83 538.60,180.39 539.30,180.29 540.00,181.11 540.70,181.50 541.40,181.28 542.10,181.98 542.80,181.97 543.50,181.81 544.20,181.99 544.90,182.23 545.60,182.74 546.30,182.44 547.00,182.94 547.70,183.31 548.40,183.22 549.10,183.47 549.80,183.15 550.50,183.98 551.20,184.12 551.90,184.19 552.60,183.84 553.30,184.28 554.00,184.55 554.70,184.20 555.40,184.33 556.10,185.07 556.80,184.93 557.50,185.35 558.20,185.07 558.90,185.62 559.60,185.57 560.30,185.28 561.00,185.44 561.70,186.12 562.40,185.59 563.10,186.40 563.80,186.27 564.50,186.64 565.20,186.17 565.90,186.18 566.60,187.02 567.30,186.83 568.00,186.75 568.70,187.14 569.40,186.89 570.10,187.47 570.80,187.54 571.50,187.69 572.20,187.59 572.90,187.74 573.60,187.74 574.30,187.72 575.00,188.16 575.70,188.04 576.40,188.06 577.10,187.83 577.80,188.32 578.50,188.15 579.20,187.74 579.90,188.00 580.60,187.96 581.30,188.26 582.00,187.86 582.70,187.79 583.40,187.95 584.10,188.18 584.80,187.50 585.50,188.22 586.20,187.50 586.90,187.43 587.60,187.60 588.30,187.92 589.00,188.06 589.70,187.64 590.40,187.37 591.10,187.51 591.80,187.35 592.50,187.43 593.20,186.99 593.90,187.39 594.60,187.40 595.30,186.82 596.00,186.88 596.70,187.22 597.40,186.51 598.10,186.24 598.80,186.68 599.50,186.42 600.20,186.29 600.90,186.05 601.60,186.25 602.30,186.39 603.00,186.20 603.70,185.76 604.40,185.53 605.10,185.67 605.80,185.97 606.50,185.62 607.20,185.61 607.90,185.61 608.60,185.84 609.30,185.87 610.00,185.23 610.70,185.63 611.40,185.58 612.10,185.37 612.80,185.53 613.50,185.04 614.20,185.30 614.90,185.00 615.60,184.90 616.30,185.35 617.00,185.61 617.70,185.19 618.40,185.30 619.10,185.22 619.80,184.92 620.50,184.96 621.20,185.20 621.90,185.15 622.60,184.74 623.30,185.09 624.00,185.13 624.70,185.24 625.40,184.80 626.10,185.42 626.80,185.13 627.50,185.31 628.20,185.29 628.90,184.92 629.60,184.85 630.30,184.93 631.00,185.30 631.70,184.89 632.40,185.46 633.10,185.23 633.80,185.20 634.50,185.01 635.20,185.08 635.90,185.31 636.60,185.05 637.30,185.29 638.00,185.32 638.70,184.91 639.40,185.08 640.10,184.46 640.80,184.38 641.50,184.48 642.20,184.85 642.90,184.12 643.60,184.21 644.30,184.62 645.00,184.00 645.70,183.88 646.40,183.92 647.10,183.91 647.80,184.00 648.50,183.95 649.20,183.73 649.90,184.14 650.60,183.87 651.30,183.90 652.00,183.86 652.70,183.74 653.40,183.99 654.10,184.08 654.80,184.29 655.50,184.26 656.20,184.28 656.90,184.56 657.60,184.30 658.30,184.06 659.00,184.21 659.70,184.86 660.40,184.30 661.10,184.87 661.80,184.59 662.50,184.73 663.20,184.49 663.90,184.98 664.60,185.31 665.30,185.32 666.00,184.80 666.70,185.38 667.40,185.59 668.10,185.26 668.80,185.20 669.50,185.30 670.20,185.72 670.90,185.51 671.60,185.72 672.30,186.22" stroke="#ff0000" stroke-width="1.5" fill="none" stroke-linejoin="round" />
<line x1="482.50" y1="56.40" x2="482.50" y2="205.50" stroke="#000" stroke-width="1.6" />
<line x1="477.20" y1="190.80" x2="672.90" y2="190.80" stroke="#000" stroke-width="1.6" />
<line x1="477.20" y1="190.80" x2="482.50" y2="190.80" stroke="#000" stroke-width="1.5" />
<text x="475.60" y="193.90" font-size="8.75" text-anchor="end" fill="#111" font-weight="normal" font-style="normal" >0</text>
<line x1="477.20" y1="165.96" x2="482.50" y2="165.96" stroke="#000" stroke-width="1.5" />
<text x="475.60" y="169.06" font-size="8.75" text-anchor="end" fill="#111" font-weight="normal" font-style="normal" >50</text>
<line x1="477.20" y1="141.12" x2="482.50" y2="141.12" stroke="#000" stroke-width="1.5" />
<text x="475.60" y="144.22" font-size="8.75" text-anchor="end" fill="#111" font-weight="normal" font-style="normal" >100</text>
<line x1="477.20" y1="116.28" x2="482.50" y2="116.28" stroke="#000" stroke-width="1.5" />
<text x="475.60" y="119.38" font-size="8.75" text-anchor="end" fill="#111" font-weight="normal" font-style="normal" >150</text>
<line x1="477.20" y1="91.44" x2="482.50" y2="91.44" stroke="#000" stroke-width="1.5" />
<text x="475.60" y="94.54" font-size="8.75" text-anchor="end" fill="#111" font-weight="normal" font-style="normal" >200</text>
<line x1="477.20" y1="66.60" x2="482.50" y2="66.60" stroke="#000" stroke-width="1.5" />
<text x="475.60" y="69.70" font-size="8.75" text-anchor="end" fill="#111" font-weight="normal" font-style="normal" >250</text>
<line x1="530.20" y1="190.80" x2="530.20" y2="195.80" stroke="#000" stroke-width="1.5" />
<text x="530.20" y="204.80" font-size="8.75" text-anchor="middle" fill="#111" font-weight="normal" font-style="normal" >50</text>
<line x1="577.70" y1="190.80" x2="577.70" y2="195.80" stroke="#000" stroke-width="1.5" />
<text x="577.70" y="204.80" font-size="8.75" text-anchor="middle" fill="#111" font-weight="normal" font-style="normal" >100</text>
<line x1="625.30" y1="190.80" x2="625.30" y2="195.80" stroke="#000" stroke-width="1.5" />
<text x="625.30" y="204.80" font-size="8.75" text-anchor="middle" fill="#111" font-weight="normal" font-style="normal" >150</text>
<line x1="672.60" y1="190.80" x2="672.60" y2="195.80" stroke="#000" stroke-width="1.5" />
<text x="672.60" y="204.80" font-size="8.75" text-anchor="middle" fill="#111" font-weight="normal" font-style="normal" >200</text>
<text x="597.00" y="214.80" font-size="10.6" text-anchor="middle" fill="#111" font-weight="normal" font-style="normal" >Time (s)</text>
<text transform="translate(456.20,121.60) rotate(-90)" font-size="10.55" text-anchor="middle" fill="#111">GCaMP5 (&#916;F/F<tspan font-size="70%" dy="1.5">o</tspan><tspan dy="-1.5">, %)</tspan></text>
<text x="-0.40" y="258.60" font-size="20" text-anchor="start" fill="#000" font-weight="normal" font-style="normal" >d</text>
<path d="M75.90,269.00 L75.90,267.20 L210.40,267.20 L210.40,269.00" fill="none" stroke="#1e1414" stroke-width="1.35"/>
<path d="M133.80,259.05 L133.80,264.55 M131.42,260.43 L136.18,263.18 M136.18,260.43 L131.42,263.18 " stroke="#0a0a0a" stroke-width="1.35" fill="none"/>
<path d="M140.00,259.05 L140.00,264.55 M137.62,260.43 L142.38,263.18 M142.38,260.43 L137.62,263.18 " stroke="#0a0a0a" stroke-width="1.35" fill="none"/>
<text x="148.20" y="263.80" font-size="8" fill="#222" text-anchor="start"><tspan font-style="italic">p</tspan>=0.0035</text>
<path d="M75.9,283 L75.9,278.5 L173.6,278.5 L173.6,283.3" fill="none" stroke="#1e1414" stroke-width="1.2"/>
<path d="M161.40,284.90 L161.40,283.30 L185.30,283.30 L185.30,284.90" fill="none" stroke="#1e1414" stroke-width="1.35"/>
<text x="119.90" y="275.80" font-size="8" text-anchor="start" fill="#222" font-weight="normal" font-style="normal" >ns</text>
<text x="142.10" y="293.00" font-size="8" fill="#222" text-anchor="start"><tspan font-style="italic">p</tspan>=0.2785</text>
<text x="180.90" y="293.00" font-size="8" fill="#222" text-anchor="start"><tspan font-style="italic">p</tspan>=0.6836</text>
<text x="77.60" y="297.60" font-size="8" text-anchor="start" fill="#222" font-weight="normal" font-style="normal" >ns</text>
<text x="89.50" y="297.60" font-size="8" fill="#222" text-anchor="start"><tspan font-style="italic">p</tspan>=0.8922</text>
<path d="M75.90,302.20 L75.90,300.60 L120.50,300.60 L120.50,302.20" fill="none" stroke="#1e1414" stroke-width="1.35"/>
<path d="M81.00,303.45 L81.00,308.95 M78.62,304.82 L83.38,307.57 M83.38,304.82 L78.62,307.57 " stroke="#0a0a0a" stroke-width="1.35" fill="none"/>
<text x="85.40" y="308.70" font-size="8" fill="#222" text-anchor="start"><tspan font-style="italic">p</tspan>=0.0166</text>
<path d="M75.90,313.60 L75.90,312.00 L142.10,312.00 L142.10,313.60" fill="none" stroke="#1e1414" stroke-width="1.35"/>
<path d="M81.00,315.75 L81.00,321.25 M78.62,317.12 L83.38,319.88 M83.38,317.12 L78.62,319.88 " stroke="#0a0a0a" stroke-width="1.35" fill="none"/>
<text x="85.40" y="320.30" font-size="8" fill="#222" text-anchor="start"><tspan font-style="italic">p</tspan>=0.0467</text>
<path d="M75.90,325.30 L75.90,323.70 L100.60,323.70 L100.60,325.30" fill="none" stroke="#1e1414" stroke-width="1.35"/>
<path d="M149.60,309.45 L149.60,314.95 M147.22,310.82 L151.98,313.57 M151.98,310.82 L147.22,313.57 " stroke="#0a0a0a" stroke-width="1.35" fill="none"/>
<path d="M155.80,309.45 L155.80,314.95 M153.42,310.82 L158.18,313.57 M158.18,310.82 L153.42,313.57 " stroke="#0a0a0a" stroke-width="1.35" fill="none"/>
<text x="162.80" y="313.90" font-size="8" fill="#222" text-anchor="start"><tspan font-style="italic">p</tspan>=0.0097</text>
<path d="M146.40,319.20 L146.40,317.60 L184.30,317.60 L184.30,319.20" fill="none" stroke="#1e1414" stroke-width="1.35"/>
<path d="M149.60,323.45 L149.60,328.95 M147.22,324.82 L151.98,327.57 M151.98,324.82 L147.22,327.57 " stroke="#0a0a0a" stroke-width="1.35" fill="none"/>
<path d="M155.80,323.45 L155.80,328.95 M153.42,324.82 L158.18,327.57 M158.18,324.82 L153.42,327.57 " stroke="#0a0a0a" stroke-width="1.35" fill="none"/>
<text x="160.90" y="327.90" font-size="8" fill="#222" text-anchor="start"><tspan font-style="italic">p</tspan>=0.0016</text>
<path d="M146.40,333.80 L146.40,332.20 L165.60,332.20 L165.60,333.80" fill="none" stroke="#1e1414" stroke-width="1.35"/>
<path d="M105.40,351.15 L105.40,356.65 M103.02,352.52 L107.78,355.27 M107.78,352.52 L103.02,355.27 " stroke="#0a0a0a" stroke-width="1.35" fill="none"/>
<path d="M111.60,351.15 L111.60,356.65 M109.22,352.52 L113.98,355.27 M113.98,352.52 L109.22,355.27 " stroke="#0a0a0a" stroke-width="1.35" fill="none"/>
<text x="114.90" y="355.50" font-size="8" fill="#222" text-anchor="start"><tspan font-style="italic">p</tspan>=0.047</text>
<path d="M101.60,360.60 L101.60,359.00 L121.20,359.00 L121.20,360.60" fill="none" stroke="#1e1414" stroke-width="1.35"/>
<rect x="68.70" y="394.90" width="16.00" height="39.80" fill="#fbfbfb" stroke="#000" stroke-width="1.8" />
<circle cx="76.70" cy="431.96" r="1.9" fill="#fff" fill-opacity="0.6" stroke="#9a9a9a" stroke-width="0.8"/>
<circle cx="80.20" cy="431.06" r="1.9" fill="#fff" fill-opacity="0.6" stroke="#9a9a9a" stroke-width="0.8"/>
<circle cx="74.20" cy="429.42" r="1.9" fill="#fff" fill-opacity="0.6" stroke="#9a9a9a" stroke-width="0.8"/>
<circle cx="70.70" cy="428.96" r="1.9" fill="#fff" fill-opacity="0.6" stroke="#9a9a9a" stroke-width="0.8"/>
<circle cx="77.20" cy="427.36" r="1.9" fill="#fff" fill-opacity="0.6" stroke="#9a9a9a" stroke-width="0.8"/>
<circle cx="80.70" cy="426.46" r="1.9" fill="#fff" fill-opacity="0.6" stroke="#9a9a9a" stroke-width="0.8"/>
<circle cx="74.20" cy="425.70" r="1.9" fill="#fff" fill-opacity="0.6" stroke="#9a9a9a" stroke-width="0.8"/>
<circle cx="70.70" cy="424.12" r="1.9" fill="#fff" fill-opacity="0.6" stroke="#9a9a9a" stroke-width="0.8"/>
<circle cx="77.20" cy="423.54" r="1.9" fill="#fff" fill-opacity="0.6" stroke="#9a9a9a" stroke-width="0.8"/>
<circle cx="73.70" cy="422.01" r="1.9" fill="#fff" fill-opacity="0.6" stroke="#9a9a9a" stroke-width="0.8"/>
<circle cx="80.20" cy="421.32" r="1.9" fill="#fff" fill-opacity="0.6" stroke="#9a9a9a" stroke-width="0.8"/>
<circle cx="70.70" cy="420.20" r="1.9" fill="#fff" fill-opacity="0.6" stroke="#9a9a9a" stroke-width="0.8"/>
<circle cx="76.70" cy="418.75" r="1.9" fill="#fff" fill-opacity="0.6" stroke="#9a9a9a" stroke-width="0.8"/>
<circle cx="80.20" cy="417.22" r="1.9" fill="#fff" fill-opacity="0.6" stroke="#9a9a9a" stroke-width="0.8"/>
<circle cx="73.70" cy="416.89" r="1.9" fill="#fff" fill-opacity="0.6" stroke="#9a9a9a" stroke-width="0.8"/>
<circle cx="70.20" cy="415.69" r="1.9" fill="#fff" fill-opacity="0.6" stroke="#9a9a9a" stroke-width="0.8"/>
<circle cx="76.70" cy="414.16" r="1.9" fill="#fff" fill-opacity="0.6" stroke="#9a9a9a" stroke-width="0.8"/>
<circle cx="80.20" cy="412.71" r="1.9" fill="#fff" fill-opacity="0.6" stroke="#9a9a9a" stroke-width="0.8"/>
<circle cx="73.70" cy="412.03" r="1.9" fill="#fff" fill-opacity="0.6" stroke="#9a9a9a" stroke-width="0.8"/>
<circle cx="70.20" cy="411.13" r="1.9" fill="#fff" fill-opacity="0.6" stroke="#9a9a9a" stroke-width="0.8"/>
<circle cx="76.70" cy="409.41" r="1.9" fill="#fff" fill-opacity="0.6" stroke="#9a9a9a" stroke-width="0.8"/>
<circle cx="80.70" cy="409.33" r="1.9" fill="#fff" fill-opacity="0.6" stroke="#9a9a9a" stroke-width="0.8"/>
<circle cx="73.70" cy="407.35" r="1.9" fill="#fff" fill-opacity="0.6" stroke="#9a9a9a" stroke-width="0.8"/>
<circle cx="83.20" cy="406.88" r="1.9" fill="#fff" fill-opacity="0.6" stroke="#9a9a9a" stroke-width="0.8"/>
<circle cx="77.20" cy="405.95" r="1.9" fill="#fff" fill-opacity="0.6" stroke="#9a9a9a" stroke-width="0.8"/>
<circle cx="71.20" cy="404.88" r="1.9" fill="#fff" fill-opacity="0.6" stroke="#9a9a9a" stroke-width="0.8"/>
<circle cx="74.70" cy="403.58" r="1.9" fill="#fff" fill-opacity="0.6" stroke="#9a9a9a" stroke-width="0.8"/>
<circle cx="77.70" cy="401.94" r="1.9" fill="#fff" fill-opacity="0.6" stroke="#9a9a9a" stroke-width="0.8"/>
<circle cx="81.20" cy="401.54" r="1.9" fill="#fff" fill-opacity="0.6" stroke="#9a9a9a" stroke-width="0.8"/>
<circle cx="74.70" cy="400.01" r="1.9" fill="#fff" fill-opacity="0.6" stroke="#9a9a9a" stroke-width="0.8"/>
<circle cx="71.20" cy="398.85" r="1.9" fill="#fff" fill-opacity="0.6" stroke="#9a9a9a" stroke-width="0.8"/>
<circle cx="77.70" cy="398.05" r="1.9" fill="#fff" fill-opacity="0.6" stroke="#9a9a9a" stroke-width="0.8"/>
<circle cx="81.20" cy="396.77" r="1.9" fill="#fff" fill-opacity="0.6" stroke="#9a9a9a" stroke-width="0.8"/>
<circle cx="74.70" cy="396.21" r="1.9" fill="#fff" fill-opacity="0.6" stroke="#9a9a9a" stroke-width="0.8"/>
<circle cx="71.20" cy="395.12" r="1.9" fill="#fff" fill-opacity="0.6" stroke="#9a9a9a" stroke-width="0.8"/>
<circle cx="77.20" cy="393.86" r="1.9" fill="#fff" fill-opacity="0.6" stroke="#9a9a9a" stroke-width="0.8"/>
<circle cx="73.70" cy="392.28" r="1.9" fill="#fff" fill-opacity="0.6" stroke="#9a9a9a" stroke-width="0.8"/>
<circle cx="78.70" cy="390.61" r="1.9" fill="#fff" fill-opacity="0.6" stroke="#9a9a9a" stroke-width="0.8"/>
<circle cx="76.70" cy="386.09" r="1.9" fill="#fff" fill-opacity="0.6" stroke="#9a9a9a" stroke-width="0.8"/>
<circle cx="76.70" cy="379.41" r="1.9" fill="#fff" fill-opacity="0.6" stroke="#9a9a9a" stroke-width="0.8"/>
<circle cx="79.20" cy="376.79" r="1.9" fill="#fff" fill-opacity="0.6" stroke="#9a9a9a" stroke-width="0.8"/>
<circle cx="76.70" cy="369.64" r="1.9" fill="#fff" fill-opacity="0.6" stroke="#9a9a9a" stroke-width="0.8"/>
<circle cx="79.20" cy="367.02" r="1.9" fill="#fff" fill-opacity="0.6" stroke="#9a9a9a" stroke-width="0.8"/>
<circle cx="75.70" cy="365.59" r="1.9" fill="#fff" fill-opacity="0.6" stroke="#9a9a9a" stroke-width="0.8"/>
<circle cx="72.20" cy="364.40" r="1.9" fill="#fff" fill-opacity="0.6" stroke="#9a9a9a" stroke-width="0.8"/>
<circle cx="76.70" cy="361.07" r="1.9" fill="#fff" fill-opacity="0.6" stroke="#9a9a9a" stroke-width="0.8"/>
<circle cx="79.70" cy="359.16" r="1.9" fill="#fff" fill-opacity="0.6" stroke="#9a9a9a" stroke-width="0.8"/>
<circle cx="74.20" cy="358.44" r="1.9" fill="#fff" fill-opacity="0.6" stroke="#9a9a9a" stroke-width="0.8"/>
<circle cx="77.20" cy="356.54" r="1.9" fill="#fff" fill-opacity="0.6" stroke="#9a9a9a" stroke-width="0.8"/>
<circle cx="76.70" cy="350.58" r="1.9" fill="#fff" fill-opacity="0.6" stroke="#9a9a9a" stroke-width="0.8"/>
<circle cx="76.70" cy="339.14" r="1.9" fill="#fff" fill-opacity="0.6" stroke="#9a9a9a" stroke-width="0.8"/>
<circle cx="76.70" cy="332.23" r="1.9" fill="#fff" fill-opacity="0.6" stroke="#9a9a9a" stroke-width="0.8"/>
<circle cx="79.20" cy="329.61" r="1.9" fill="#fff" fill-opacity="0.6" stroke="#9a9a9a" stroke-width="0.8"/>
<circle cx="76.70" cy="326.99" r="1.9" fill="#fff" fill-opacity="0.6" stroke="#9a9a9a" stroke-width="0.8"/>
<line x1="76.70" y1="391.81" x2="76.70" y2="398.00" stroke="#000" stroke-width="1.3" />
<line x1="73.20" y1="391.81" x2="80.20" y2="391.81" stroke="#000" stroke-width="1.4" />
<line x1="73.20" y1="398.00" x2="80.20" y2="398.00" stroke="#000" stroke-width="1.4" />
<text x="76.70" y="432.20" font-size="8.3" text-anchor="middle" fill="#5b3a9c" font-weight="normal" font-style="normal" >54</text>
<rect x="93.90" y="408.96" width="16.30" height="25.74" fill="#ffd6d6" stroke="#ff0000" stroke-width="1.8" />
<circle cx="98.40" cy="427.55" r="1.9" fill="#fff" fill-opacity="0.6" stroke="#9a9a9a" stroke-width="0.8"/>
<circle cx="108.52" cy="422.78" r="1.9" fill="#fff" fill-opacity="0.6" stroke="#9a9a9a" stroke-width="0.8"/>
<circle cx="102.17" cy="422.78" r="1.9" fill="#fff" fill-opacity="0.6" stroke="#9a9a9a" stroke-width="0.8"/>
<circle cx="96.73" cy="422.78" r="1.9" fill="#fff" fill-opacity="0.6" stroke="#9a9a9a" stroke-width="0.8"/>
<circle cx="93.05" cy="422.78" r="1.9" fill="#fff" fill-opacity="0.6" stroke="#9a9a9a" stroke-width="0.8"/>
<circle cx="102.05" cy="422.07" r="1.9" fill="#fff" fill-opacity="0.6" stroke="#9a9a9a" stroke-width="0.8"/>
<circle cx="108.36" cy="412.30" r="1.9" fill="#fff" fill-opacity="0.6" stroke="#9a9a9a" stroke-width="0.8"/>
<circle cx="99.00" cy="410.87" r="1.9" fill="#fff" fill-opacity="0.6" stroke="#9a9a9a" stroke-width="0.8"/>
<circle cx="102.77" cy="410.87" r="1.9" fill="#fff" fill-opacity="0.6" stroke="#9a9a9a" stroke-width="0.8"/>
<circle cx="104.89" cy="406.10" r="1.9" fill="#fff" fill-opacity="0.6" stroke="#9a9a9a" stroke-width="0.8"/>
<circle cx="97.56" cy="405.63" r="1.9" fill="#fff" fill-opacity="0.6" stroke="#9a9a9a" stroke-width="0.8"/>
<circle cx="99.41" cy="394.90" r="1.9" fill="#fff" fill-opacity="0.6" stroke="#9a9a9a" stroke-width="0.8"/>
<circle cx="108.14" cy="392.52" r="1.9" fill="#fff" fill-opacity="0.6" stroke="#9a9a9a" stroke-width="0.8"/>
<circle cx="103.08" cy="389.90" r="1.9" fill="#fff" fill-opacity="0.6" stroke="#9a9a9a" stroke-width="0.8"/>
<circle cx="96.29" cy="387.28" r="1.9" fill="#fff" fill-opacity="0.6" stroke="#9a9a9a" stroke-width="0.8"/>
<circle cx="103.14" cy="375.84" r="1.9" fill="#fff" fill-opacity="0.6" stroke="#9a9a9a" stroke-width="0.8"/>
<line x1="102.05" y1="404.44" x2="102.05" y2="413.49" stroke="#ff0000" stroke-width="1.3" />
<line x1="98.55" y1="404.44" x2="105.55" y2="404.44" stroke="#ff0000" stroke-width="1.4" />
<line x1="98.55" y1="413.49" x2="105.55" y2="413.49" stroke="#ff0000" stroke-width="1.4" />
<text x="102.05" y="432.20" font-size="8.3" text-anchor="middle" fill="#5b3a9c" font-weight="normal" font-style="normal" >16</text>
<rect x="112.80" y="393.95" width="16.30" height="40.75" fill="#fbfbc4" stroke="#e6e61e" stroke-width="1.8" />
<circle cx="120.99" cy="429.93" r="1.9" fill="#fff" fill-opacity="0.6" stroke="#9a9a9a" stroke-width="0.8"/>
<circle cx="125.54" cy="426.36" r="1.9" fill="#fff" fill-opacity="0.6" stroke="#9a9a9a" stroke-width="0.8"/>
<circle cx="116.50" cy="419.45" r="1.9" fill="#fff" fill-opacity="0.6" stroke="#9a9a9a" stroke-width="0.8"/>
<circle cx="126.94" cy="411.58" r="1.9" fill="#fff" fill-opacity="0.6" stroke="#9a9a9a" stroke-width="0.8"/>
<circle cx="115.49" cy="409.68" r="1.9" fill="#fff" fill-opacity="0.6" stroke="#9a9a9a" stroke-width="0.8"/>
<circle cx="116.87" cy="406.10" r="1.9" fill="#fff" fill-opacity="0.6" stroke="#9a9a9a" stroke-width="0.8"/>
<circle cx="122.19" cy="402.05" r="1.9" fill="#fff" fill-opacity="0.6" stroke="#9a9a9a" stroke-width="0.8"/>
<circle cx="123.23" cy="396.81" r="1.9" fill="#fff" fill-opacity="0.6" stroke="#9a9a9a" stroke-width="0.8"/>
<circle cx="117.51" cy="394.19" r="1.9" fill="#fff" fill-opacity="0.6" stroke="#9a9a9a" stroke-width="0.8"/>
<circle cx="116.01" cy="389.90" r="1.9" fill="#fff" fill-opacity="0.6" stroke="#9a9a9a" stroke-width="0.8"/>
<circle cx="126.02" cy="387.28" r="1.9" fill="#fff" fill-opacity="0.6" stroke="#9a9a9a" stroke-width="0.8"/>
<circle cx="117.65" cy="380.13" r="1.9" fill="#fff" fill-opacity="0.6" stroke="#9a9a9a" stroke-width="0.8"/>
<circle cx="122.18" cy="377.51" r="1.9" fill="#fff" fill-opacity="0.6" stroke="#9a9a9a" stroke-width="0.8"/>
<circle cx="126.60" cy="376.79" r="1.9" fill="#fff" fill-opacity="0.6" stroke="#9a9a9a" stroke-width="0.8"/>
<circle cx="117.11" cy="375.12" r="1.9" fill="#fff" fill-opacity="0.6" stroke="#9a9a9a" stroke-width="0.8"/>
<circle cx="113.45" cy="375.12" r="1.9" fill="#fff" fill-opacity="0.6" stroke="#9a9a9a" stroke-width="0.8"/>
<circle cx="126.14" cy="372.74" r="1.9" fill="#fff" fill-opacity="0.6" stroke="#9a9a9a" stroke-width="0.8"/>
<circle cx="117.18" cy="371.55" r="1.9" fill="#fff" fill-opacity="0.6" stroke="#9a9a9a" stroke-width="0.8"/>
<circle cx="117.69" cy="364.40" r="1.9" fill="#fff" fill-opacity="0.6" stroke="#9a9a9a" stroke-width="0.8"/>
<line x1="120.95" y1="388.71" x2="120.95" y2="399.19" stroke="#e6e61e" stroke-width="1.3" />
<line x1="117.45" y1="388.71" x2="124.45" y2="388.71" stroke="#e6e61e" stroke-width="1.4" />
<line x1="117.45" y1="399.19" x2="124.45" y2="399.19" stroke="#e6e61e" stroke-width="1.4" />
<text x="120.95" y="432.20" font-size="8.3" text-anchor="middle" fill="#5b3a9c" font-weight="normal" font-style="normal" >19</text>
<rect x="138.00" y="407.53" width="16.30" height="27.17" fill="#c8c8f8" stroke="#0000ff" stroke-width="1.8" />
<circle cx="146.15" cy="432.32" r="1.9" fill="#fff" fill-opacity="0.6" stroke="#9a9a9a" stroke-width="0.8"/>
<circle cx="146.65" cy="428.91" r="1.9" fill="#fff" fill-opacity="0.6" stroke="#9a9a9a" stroke-width="0.8"/>
<circle cx="144.15" cy="426.31" r="1.9" fill="#fff" fill-opacity="0.6" stroke="#9a9a9a" stroke-width="0.8"/>
<circle cx="146.15" cy="422.81" r="1.9" fill="#fff" fill-opacity="0.6" stroke="#9a9a9a" stroke-width="0.8"/>
<circle cx="148.65" cy="420.21" r="1.9" fill="#fff" fill-opacity="0.6" stroke="#9a9a9a" stroke-width="0.8"/>
<circle cx="146.15" cy="417.59" r="1.9" fill="#fff" fill-opacity="0.6" stroke="#9a9a9a" stroke-width="0.8"/>
<circle cx="142.65" cy="417.59" r="1.9" fill="#fff" fill-opacity="0.6" stroke="#9a9a9a" stroke-width="0.8"/>
<circle cx="148.65" cy="414.99" r="1.9" fill="#fff" fill-opacity="0.6" stroke="#9a9a9a" stroke-width="0.8"/>
<circle cx="152.15" cy="414.99" r="1.9" fill="#fff" fill-opacity="0.6" stroke="#9a9a9a" stroke-width="0.8"/>
<circle cx="146.15" cy="412.40" r="1.9" fill="#fff" fill-opacity="0.6" stroke="#9a9a9a" stroke-width="0.8"/>
<circle cx="142.65" cy="412.40" r="1.9" fill="#fff" fill-opacity="0.6" stroke="#9a9a9a" stroke-width="0.8"/>
<circle cx="139.15" cy="412.40" r="1.9" fill="#fff" fill-opacity="0.6" stroke="#9a9a9a" stroke-width="0.8"/>
<circle cx="148.65" cy="409.80" r="1.9" fill="#fff" fill-opacity="0.6" stroke="#9a9a9a" stroke-width="0.8"/>
<circle cx="152.15" cy="409.80" r="1.9" fill="#fff" fill-opacity="0.6" stroke="#9a9a9a" stroke-width="0.8"/>
<circle cx="146.15" cy="407.20" r="1.9" fill="#fff" fill-opacity="0.6" stroke="#9a9a9a" stroke-width="0.8"/>
<circle cx="142.65" cy="407.20" r="1.9" fill="#fff" fill-opacity="0.6" stroke="#9a9a9a" stroke-width="0.8"/>
<circle cx="148.65" cy="404.51" r="1.9" fill="#fff" fill-opacity="0.6" stroke="#9a9a9a" stroke-width="0.8"/>
<circle cx="152.15" cy="404.51" r="1.9" fill="#fff" fill-opacity="0.6" stroke="#9a9a9a" stroke-width="0.8"/>
<circle cx="146.15" cy="400.19" r="1.9" fill="#fff" fill-opacity="0.6" stroke="#9a9a9a" stroke-width="0.8"/>
<circle cx="149.65" cy="400.19" r="1.9" fill="#fff" fill-opacity="0.6" stroke="#9a9a9a" stroke-width="0.8"/>
<circle cx="142.65" cy="400.19" r="1.9" fill="#fff" fill-opacity="0.6" stroke="#9a9a9a" stroke-width="0.8"/>
<circle cx="146.15" cy="396.69" r="1.9" fill="#fff" fill-opacity="0.6" stroke="#9a9a9a" stroke-width="0.8"/>
<circle cx="149.65" cy="396.69" r="1.9" fill="#fff" fill-opacity="0.6" stroke="#9a9a9a" stroke-width="0.8"/>
<circle cx="142.65" cy="396.69" r="1.9" fill="#fff" fill-opacity="0.6" stroke="#9a9a9a" stroke-width="0.8"/>
<circle cx="153.15" cy="396.69" r="1.9" fill="#fff" fill-opacity="0.6" stroke="#9a9a9a" stroke-width="0.8"/>
<circle cx="146.15" cy="387.11" r="1.9" fill="#fff" fill-opacity="0.6" stroke="#9a9a9a" stroke-width="0.8"/>
<circle cx="149.15" cy="385.40" r="1.9" fill="#fff" fill-opacity="0.6" stroke="#9a9a9a" stroke-width="0.8"/>
<circle cx="146.15" cy="369.69" r="1.9" fill="#fff" fill-opacity="0.6" stroke="#9a9a9a" stroke-width="0.8"/>
<circle cx="148.65" cy="367.09" r="1.9" fill="#fff" fill-opacity="0.6" stroke="#9a9a9a" stroke-width="0.8"/>
<line x1="146.15" y1="403.72" x2="146.15" y2="411.35" stroke="#0000ff" stroke-width="1.3" />
<line x1="142.65" y1="403.72" x2="149.65" y2="403.72" stroke="#0000ff" stroke-width="1.4" />
<line x1="142.65" y1="411.35" x2="149.65" y2="411.35" stroke="#0000ff" stroke-width="1.4" />
<text x="146.15" y="432.20" font-size="8.3" text-anchor="middle" fill="#5b3a9c" font-weight="normal" font-style="normal" >29</text>
<rect x="157.00" y="387.28" width="16.20" height="47.42" fill="#d8f3fc" stroke="#50c8f0" stroke-width="1.8" />
<circle cx="159.94" cy="426.31" r="1.9" fill="#fff" fill-opacity="0.6" stroke="#9a9a9a" stroke-width="0.8"/>
<circle cx="168.74" cy="425.50" r="1.9" fill="#fff" fill-opacity="0.6" stroke="#9a9a9a" stroke-width="0.8"/>
<circle cx="163.88" cy="423.69" r="1.9" fill="#fff" fill-opacity="0.6" stroke="#9a9a9a" stroke-width="0.8"/>
<circle cx="166.67" cy="421.09" r="1.9" fill="#fff" fill-opacity="0.6" stroke="#9a9a9a" stroke-width="0.8"/>
<circle cx="160.61" cy="411.49" r="1.9" fill="#fff" fill-opacity="0.6" stroke="#9a9a9a" stroke-width="0.8"/>
<circle cx="170.69" cy="406.10" r="1.9" fill="#fff" fill-opacity="0.6" stroke="#9a9a9a" stroke-width="0.8"/>
<circle cx="169.84" cy="401.91" r="1.9" fill="#fff" fill-opacity="0.6" stroke="#9a9a9a" stroke-width="0.8"/>
<circle cx="158.92" cy="400.19" r="1.9" fill="#fff" fill-opacity="0.6" stroke="#9a9a9a" stroke-width="0.8"/>
<circle cx="168.18" cy="394.09" r="1.9" fill="#fff" fill-opacity="0.6" stroke="#9a9a9a" stroke-width="0.8"/>
<circle cx="162.92" cy="391.50" r="1.9" fill="#fff" fill-opacity="0.6" stroke="#9a9a9a" stroke-width="0.8"/>
<circle cx="170.70" cy="391.50" r="1.9" fill="#fff" fill-opacity="0.6" stroke="#9a9a9a" stroke-width="0.8"/>
<circle cx="160.01" cy="388.90" r="1.9" fill="#fff" fill-opacity="0.6" stroke="#9a9a9a" stroke-width="0.8"/>
<circle cx="169.94" cy="371.41" r="1.9" fill="#fff" fill-opacity="0.6" stroke="#9a9a9a" stroke-width="0.8"/>
<circle cx="169.76" cy="367.09" r="1.9" fill="#fff" fill-opacity="0.6" stroke="#9a9a9a" stroke-width="0.8"/>
<circle cx="161.49" cy="357.01" r="1.9" fill="#fff" fill-opacity="0.6" stroke="#9a9a9a" stroke-width="0.8"/>
<circle cx="169.22" cy="355.70" r="1.9" fill="#fff" fill-opacity="0.6" stroke="#9a9a9a" stroke-width="0.8"/>
<circle cx="164.58" cy="354.89" r="1.9" fill="#fff" fill-opacity="0.6" stroke="#9a9a9a" stroke-width="0.8"/>
<circle cx="162.57" cy="351.39" r="1.9" fill="#fff" fill-opacity="0.6" stroke="#9a9a9a" stroke-width="0.8"/>
<circle cx="168.94" cy="350.51" r="1.9" fill="#fff" fill-opacity="0.6" stroke="#9a9a9a" stroke-width="0.8"/>
<circle cx="161.56" cy="337.40" r="1.9" fill="#fff" fill-opacity="0.6" stroke="#9a9a9a" stroke-width="0.8"/>
<line x1="165.10" y1="379.41" x2="165.10" y2="395.14" stroke="#50c8f0" stroke-width="1.3" />
<line x1="161.60" y1="379.41" x2="168.60" y2="379.41" stroke="#50c8f0" stroke-width="1.4" />
<line x1="161.60" y1="395.14" x2="168.60" y2="395.14" stroke="#50c8f0" stroke-width="1.4" />
<text x="165.10" y="432.20" font-size="8.3" text-anchor="middle" fill="#5b3a9c" font-weight="normal" font-style="normal" >20</text>
<rect x="175.90" y="392.28" width="16.30" height="42.42" fill="#e0d6f0" stroke="#6a38a8" stroke-width="1.8" />
<circle cx="177.86" cy="427.19" r="1.9" fill="#fff" fill-opacity="0.6" stroke="#9a9a9a" stroke-width="0.8"/>
<circle cx="181.82" cy="424.60" r="1.9" fill="#fff" fill-opacity="0.6" stroke="#9a9a9a" stroke-width="0.8"/>
<circle cx="188.79" cy="420.40" r="1.9" fill="#fff" fill-opacity="0.6" stroke="#9a9a9a" stroke-width="0.8"/>
<circle cx="190.12" cy="416.71" r="1.9" fill="#fff" fill-opacity="0.6" stroke="#9a9a9a" stroke-width="0.8"/>
<circle cx="181.18" cy="410.61" r="1.9" fill="#fff" fill-opacity="0.6" stroke="#9a9a9a" stroke-width="0.8"/>
<circle cx="185.89" cy="405.39" r="1.9" fill="#fff" fill-opacity="0.6" stroke="#9a9a9a" stroke-width="0.8"/>
<circle cx="182.75" cy="403.70" r="1.9" fill="#fff" fill-opacity="0.6" stroke="#9a9a9a" stroke-width="0.8"/>
<circle cx="190.30" cy="398.41" r="1.9" fill="#fff" fill-opacity="0.6" stroke="#9a9a9a" stroke-width="0.8"/>
<circle cx="184.52" cy="393.19" r="1.9" fill="#fff" fill-opacity="0.6" stroke="#9a9a9a" stroke-width="0.8"/>
<circle cx="189.76" cy="387.11" r="1.9" fill="#fff" fill-opacity="0.6" stroke="#9a9a9a" stroke-width="0.8"/>
<circle cx="179.05" cy="381.01" r="1.9" fill="#fff" fill-opacity="0.6" stroke="#9a9a9a" stroke-width="0.8"/>
<circle cx="190.17" cy="378.39" r="1.9" fill="#fff" fill-opacity="0.6" stroke="#9a9a9a" stroke-width="0.8"/>
<circle cx="179.87" cy="374.00" r="1.9" fill="#fff" fill-opacity="0.6" stroke="#9a9a9a" stroke-width="0.8"/>
<circle cx="190.06" cy="371.41" r="1.9" fill="#fff" fill-opacity="0.6" stroke="#9a9a9a" stroke-width="0.8"/>
<circle cx="181.00" cy="369.69" r="1.9" fill="#fff" fill-opacity="0.6" stroke="#9a9a9a" stroke-width="0.8"/>
<circle cx="178.96" cy="364.40" r="1.9" fill="#fff" fill-opacity="0.6" stroke="#9a9a9a" stroke-width="0.8"/>
<circle cx="183.20" cy="361.80" r="1.9" fill="#fff" fill-opacity="0.6" stroke="#9a9a9a" stroke-width="0.8"/>
<circle cx="187.02" cy="360.11" r="1.9" fill="#fff" fill-opacity="0.6" stroke="#9a9a9a" stroke-width="0.8"/>
<circle cx="181.63" cy="335.71" r="1.9" fill="#fff" fill-opacity="0.6" stroke="#9a9a9a" stroke-width="0.8"/>
<line x1="184.05" y1="385.37" x2="184.05" y2="399.19" stroke="#6a38a8" stroke-width="1.3" />
<line x1="180.55" y1="385.37" x2="187.55" y2="385.37" stroke="#6a38a8" stroke-width="1.4" />
<line x1="180.55" y1="399.19" x2="187.55" y2="399.19" stroke="#6a38a8" stroke-width="1.4" />
<text x="184.05" y="432.20" font-size="8.3" text-anchor="middle" fill="#5b3a9c" font-weight="normal" font-style="normal" >19</text>
<rect x="201.30" y="376.55" width="16.70" height="58.15" fill="#e8e8e8" stroke="#b4b4b4" stroke-width="1.8" />
<circle cx="211.03" cy="415.90" r="1.9" fill="#fff" fill-opacity="0.6" stroke="#9a9a9a" stroke-width="0.8"/>
<circle cx="206.46" cy="414.11" r="1.9" fill="#fff" fill-opacity="0.6" stroke="#9a9a9a" stroke-width="0.8"/>
<circle cx="212.36" cy="410.61" r="1.9" fill="#fff" fill-opacity="0.6" stroke="#9a9a9a" stroke-width="0.8"/>
<circle cx="203.17" cy="404.51" r="1.9" fill="#fff" fill-opacity="0.6" stroke="#9a9a9a" stroke-width="0.8"/>
<circle cx="215.18" cy="401.10" r="1.9" fill="#fff" fill-opacity="0.6" stroke="#9a9a9a" stroke-width="0.8"/>
<circle cx="210.15" cy="398.41" r="1.9" fill="#fff" fill-opacity="0.6" stroke="#9a9a9a" stroke-width="0.8"/>
<circle cx="212.50" cy="390.61" r="1.9" fill="#fff" fill-opacity="0.6" stroke="#9a9a9a" stroke-width="0.8"/>
<circle cx="207.88" cy="390.61" r="1.9" fill="#fff" fill-opacity="0.6" stroke="#9a9a9a" stroke-width="0.8"/>
<circle cx="204.06" cy="387.99" r="1.9" fill="#fff" fill-opacity="0.6" stroke="#9a9a9a" stroke-width="0.8"/>
<circle cx="211.79" cy="384.66" r="1.9" fill="#fff" fill-opacity="0.6" stroke="#9a9a9a" stroke-width="0.8"/>
<circle cx="207.44" cy="379.89" r="1.9" fill="#fff" fill-opacity="0.6" stroke="#9a9a9a" stroke-width="0.8"/>
<circle cx="207.23" cy="375.79" r="1.9" fill="#fff" fill-opacity="0.6" stroke="#9a9a9a" stroke-width="0.8"/>
<circle cx="214.17" cy="375.79" r="1.9" fill="#fff" fill-opacity="0.6" stroke="#9a9a9a" stroke-width="0.8"/>
<circle cx="203.16" cy="375.79" r="1.9" fill="#fff" fill-opacity="0.6" stroke="#9a9a9a" stroke-width="0.8"/>
<circle cx="206.88" cy="372.29" r="1.9" fill="#fff" fill-opacity="0.6" stroke="#9a9a9a" stroke-width="0.8"/>
<circle cx="208.74" cy="363.21" r="1.9" fill="#fff" fill-opacity="0.6" stroke="#9a9a9a" stroke-width="0.8"/>
<circle cx="214.87" cy="362.71" r="1.9" fill="#fff" fill-opacity="0.6" stroke="#9a9a9a" stroke-width="0.8"/>
<circle cx="213.50" cy="358.44" r="1.9" fill="#fff" fill-opacity="0.6" stroke="#9a9a9a" stroke-width="0.8"/>
<circle cx="205.36" cy="356.61" r="1.9" fill="#fff" fill-opacity="0.6" stroke="#9a9a9a" stroke-width="0.8"/>
<circle cx="209.85" cy="353.99" r="1.9" fill="#fff" fill-opacity="0.6" stroke="#9a9a9a" stroke-width="0.8"/>
<circle cx="213.79" cy="353.99" r="1.9" fill="#fff" fill-opacity="0.6" stroke="#9a9a9a" stroke-width="0.8"/>
<circle cx="206.07" cy="353.11" r="1.9" fill="#fff" fill-opacity="0.6" stroke="#9a9a9a" stroke-width="0.8"/>
<circle cx="205.74" cy="349.60" r="1.9" fill="#fff" fill-opacity="0.6" stroke="#9a9a9a" stroke-width="0.8"/>
<circle cx="209.33" cy="347.89" r="1.9" fill="#fff" fill-opacity="0.6" stroke="#9a9a9a" stroke-width="0.8"/>
<circle cx="214.20" cy="336.00" r="1.9" fill="#fff" fill-opacity="0.6" stroke="#9a9a9a" stroke-width="0.8"/>
<circle cx="204.10" cy="327.80" r="1.9" fill="#fff" fill-opacity="0.6" stroke="#9a9a9a" stroke-width="0.8"/>
<circle cx="208.54" cy="315.55" r="1.9" fill="#fff" fill-opacity="0.6" stroke="#9a9a9a" stroke-width="0.8"/>
<line x1="209.65" y1="369.41" x2="209.65" y2="383.70" stroke="#b4b4b4" stroke-width="1.3" />
<line x1="206.15" y1="369.41" x2="213.15" y2="369.41" stroke="#b4b4b4" stroke-width="1.4" />
<line x1="206.15" y1="383.70" x2="213.15" y2="383.70" stroke="#b4b4b4" stroke-width="1.4" />
<text x="209.65" y="432.20" font-size="8.3" text-anchor="middle" fill="#5b3a9c" font-weight="normal" font-style="normal" >27</text>
<line x1="59.70" y1="267.20" x2="59.70" y2="435.50" stroke="#000" stroke-width="1.6" />
<line x1="52.20" y1="434.70" x2="227.00" y2="434.70" stroke="#000" stroke-width="1.7" />
<line x1="52.20" y1="434.70" x2="59.70" y2="434.70" stroke="#000" stroke-width="1.5" />
<text x="50.60" y="438.10" font-size="9.3" text-anchor="end" fill="#111" font-weight="normal" font-style="normal" >0</text>
<line x1="52.20" y1="387.04" x2="59.70" y2="387.04" stroke="#000" stroke-width="1.5" />
<text x="50.60" y="390.44" font-size="9.3" text-anchor="end" fill="#111" font-weight="normal" font-style="normal" >200</text>
<line x1="52.20" y1="339.38" x2="59.70" y2="339.38" stroke="#000" stroke-width="1.5" />
<text x="50.60" y="342.78" font-size="9.3" text-anchor="end" fill="#111" font-weight="normal" font-style="normal" >400</text>
<line x1="52.20" y1="291.72" x2="59.70" y2="291.72" stroke="#000" stroke-width="1.5" />
<text x="50.60" y="295.12" font-size="9.3" text-anchor="end" fill="#111" font-weight="normal" font-style="normal" >600</text>
<text transform="translate(27.30,357.40) rotate(-90)" font-size="10.45" text-anchor="middle" fill="#111">Maximum GCaMP5 (&#916;F/F<tspan font-size="70%" dy="1.5">o</tspan><tspan dy="-1.5">, %)</tspan></text>
<text transform="translate(81.00,443.30) rotate(-45)" font-size="8.2" text-anchor="end" fill="#111" font-style="normal">WT</text>
<text transform="translate(102.90,443.30) rotate(-45)" font-size="8.2" text-anchor="end" fill="#111" font-style="italic">unc-13</text>
<text transform="translate(124.90,441.20) rotate(-45)" font-size="8.2" text-anchor="end" fill="#111" font-style="italic">unc-13;Pvap-1::unc-13</text>
<text transform="translate(148.70,442.80) rotate(-45)" font-size="8.2" text-anchor="end" fill="#111" font-style="italic">unc-25</text>
<text transform="translate(170.80,443.20) rotate(-45)" font-size="8.2" text-anchor="end" fill="#111" font-style="italic">unc-25; Pvap-1::unc-25</text>
<text transform="translate(193.00,442.20) rotate(-45)" font-size="8.2" text-anchor="end" fill="#111" font-style="italic">unc-25; PR11D1.3::unc-25</text>
<text transform="translate(216.00,442.80) rotate(-45)" font-size="8.2" text-anchor="end" fill="#111" font-style="normal">WT, GABA+</text>
<text x="243.40" y="258.60" font-size="20" text-anchor="start" fill="#000" font-weight="normal" font-style="normal" >e</text>
<path d="M299.1,292.3 L316.2,292.3 Q317,292.3 317.2,291 L317.8,286 Q318,284.6 319.2,284.6 L482,284.6" fill="none" stroke="#5a4d4d" stroke-width="1.1"/>
<text x="294.30" y="289.00" font-size="8.3" text-anchor="start" fill="#000" font-weight="normal" font-style="normal" >15 &#176;C</text>
<text x="401.00" y="278.70" font-size="8.3" text-anchor="start" fill="#000" font-weight="normal" font-style="normal" >28 &#176;C</text>
<line x1="397.70" y1="300.90" x2="405.60" y2="300.90" stroke="#000" stroke-width="1.7" />
<text x="410.20" y="303.90" font-size="8.2" text-anchor="start" fill="#111" font-weight="normal" font-style="normal" >WT</text>
<line x1="397.70" y1="314.10" x2="405.60" y2="314.10" stroke="#0000ff" stroke-width="1.7" />
<text x="410.20" y="317.10" font-size="8.2" text-anchor="start" fill="#111" font-weight="normal" font-style="italic" >exp-1</text>
<line x1="397.70" y1="326.30" x2="405.60" y2="326.30" stroke="#ff0000" stroke-width="1.7" />
<text x="410.20" y="329.30" font-size="8.2" text-anchor="start" fill="#111" font-weight="normal" font-style="italic" >exp-1;Pgcy-8::exp-1</text>
<path d="M297.90,438.84 L298.50,438.50 L299.10,439.54 L299.70,439.00 L300.30,439.57 L300.90,438.47 L301.50,439.05 L302.10,438.99 L302.70,438.85 L303.30,438.62 L303.90,438.92 L304.50,438.74 L305.10,439.72 L305.70,439.25 L306.30,439.36 L306.90,440.16 L307.50,439.81 L308.10,440.00 L308.70,439.94 L309.30,439.25 L309.90,439.80 L310.50,440.39 L311.10,440.41 L311.70,440.00 L312.30,440.41 L312.90,440.68 L313.50,439.83 L314.10,440.52 L314.70,440.76 L315.30,440.78 L315.90,440.42 L316.50,440.35 L317.10,440.17 L317.70,438.61 L318.30,435.91 L318.90,432.64 L319.50,430.32 L320.10,421.50 L320.70,419.43 L321.30,415.63 L321.90,411.83 L322.50,406.89 L323.10,399.17 L323.70,390.94 L324.30,383.82 L324.90,376.57 L325.50,369.27 L326.10,363.41 L326.70,357.09 L327.30,351.17 L327.90,346.91 L328.50,341.64 L329.10,335.72 L329.70,331.09 L330.30,328.19 L330.90,326.48 L331.50,324.84 L332.10,323.32 L332.70,322.64 L333.30,320.68 L333.90,319.19 L334.50,319.61 L335.10,319.60 L335.70,319.43 L336.30,319.93 L336.90,320.21 L337.50,320.91 L338.10,321.18 L338.70,322.30 L339.30,323.02 L339.90,324.63 L340.50,324.92 L341.10,326.40 L341.70,326.76 L342.30,327.57 L342.90,328.84 L343.50,329.79 L344.10,330.83 L344.70,331.00 L345.30,332.75 L345.90,333.68 L346.50,334.82 L347.10,335.13 L347.70,335.58 L348.30,337.64 L348.90,338.49 L349.50,339.24 L350.10,340.83 L350.70,341.63 L351.30,342.57 L351.90,344.05 L352.50,344.90 L353.10,345.51 L353.70,346.38 L354.30,347.14 L354.90,348.93 L355.50,348.61 L356.10,350.03 L356.70,351.41 L357.30,352.94 L357.90,353.30 L358.50,353.95 L359.10,355.05 L359.70,355.81 L360.30,357.70 L360.90,358.74 L361.50,360.15 L362.10,360.06 L362.70,361.98 L363.30,362.43 L363.90,363.40 L364.50,364.58 L365.10,365.43 L365.70,365.97 L366.30,367.50 L366.90,368.76 L367.50,369.07 L368.10,370.65 L368.70,371.18 L369.30,372.39 L369.90,373.09 L370.50,374.85 L371.10,375.08 L371.70,375.83 L372.30,376.67 L372.90,378.16 L373.50,378.81 L374.10,379.15 L374.70,380.42 L375.30,380.47 L375.90,381.83 L376.50,382.57 L377.10,384.14 L377.70,384.17 L378.30,385.69 L378.90,386.41 L379.50,387.05 L380.10,387.36 L380.70,388.45 L381.30,389.03 L381.90,389.55 L382.50,389.38 L383.10,390.57 L383.70,389.98 L384.30,391.09 L384.90,391.30 L385.50,392.21 L386.10,391.31 L386.70,392.40 L387.30,392.73 L387.90,393.60 L388.50,393.98 L389.10,394.18 L389.70,394.10 L390.30,395.39 L390.90,395.08 L391.50,394.93 L392.10,396.29 L392.70,395.76 L393.30,396.70 L393.90,396.00 L394.50,397.13 L395.10,398.14 L395.70,397.87 L396.30,398.50 L396.90,398.67 L397.50,398.70 L398.10,399.23 L398.70,399.20 L399.30,399.82 L399.90,400.01 L400.50,400.05 L401.10,401.00 L401.70,400.93 L402.30,401.08 L402.90,400.40 L403.50,400.93 L404.10,401.36 L404.70,402.01 L405.30,401.68 L405.90,402.10 L406.50,402.31 L407.10,402.50 L407.70,403.16 L408.30,403.81 L408.90,403.63 L409.50,403.99 L410.10,403.05 L410.70,404.35 L411.30,404.88 L411.90,404.21 L412.50,404.46 L413.10,404.85 L413.70,405.02 L414.30,405.53 L414.90,405.70 L415.50,405.83 L416.10,406.77 L416.70,405.53 L417.30,405.87 L417.90,406.51 L418.50,406.96 L419.10,406.24 L419.70,406.88 L420.30,406.15 L420.90,406.40 L421.50,407.24 L422.10,408.02 L422.70,406.90 L423.30,407.94 L423.90,407.46 L424.50,407.42 L425.10,408.22 L425.70,407.50 L426.30,408.14 L426.90,408.20 L427.50,408.14 L428.10,408.05 L428.70,408.64 L429.30,408.96 L429.90,409.07 L430.50,409.05 L431.10,409.00 L431.70,409.79 L432.30,409.10 L432.90,409.82 L433.50,408.84 L434.10,409.46 L434.70,410.19 L435.30,410.32 L435.90,409.50 L436.50,410.45 L437.10,410.41 L437.70,411.07 L438.30,411.29 L438.90,410.27 L439.50,410.33 L440.10,410.62 L440.70,410.71 L441.30,411.49 L441.90,411.26 L442.50,411.50 L443.10,410.80 L443.70,412.21 L444.30,412.04 L444.90,411.55 L445.50,412.50 L446.10,412.73 L446.70,412.75 L447.30,412.11 L447.90,411.98 L448.50,413.02 L449.10,412.73 L449.70,413.11 L450.30,413.50 L450.90,413.10 L451.50,413.36 L452.10,413.80 L452.70,413.29 L453.30,413.64 L453.90,414.05 L454.50,412.93 L455.10,413.47 L455.70,414.66 L456.30,414.52 L456.90,414.53 L457.50,414.86 L458.10,414.76 L458.70,413.91 L459.30,414.38 L459.90,415.64 L460.50,414.89 L461.10,414.92 L461.70,415.64 L462.30,415.04 L462.90,415.55 L463.50,415.95 L464.10,415.39 L464.70,415.95 L465.30,416.06 L465.90,415.99 L466.50,415.85 L467.10,416.38 L467.70,416.66 L468.30,417.24 L468.90,416.88 L469.50,416.67 L470.10,417.44 L470.70,417.26 L471.30,417.67 L471.90,417.47 L472.50,417.94 L473.10,418.40 L473.70,418.32 L474.30,417.68 L474.90,418.70 L475.50,418.74 L476.10,418.50 L476.70,418.67 L477.30,419.73 L477.90,419.80 L478.50,419.44 L479.10,419.48 L479.70,420.01 L480.30,420.17 L480.90,419.49 L481.50,420.09 L482.10,420.27 L482.70,420.62 L483.30,421.56 L483.90,421.36 L484.50,421.13 L485.10,421.71 L485.70,421.17 L486.30,422.67 L486.90,422.13 L487.50,422.86 L488.10,421.77 L488.10,432.65 L487.50,432.85 L486.90,432.19 L486.30,432.73 L485.70,431.58 L485.10,432.09 L484.50,431.07 L483.90,430.99 L483.30,431.58 L482.70,430.52 L482.10,430.02 L481.50,430.04 L480.90,430.01 L480.30,430.27 L479.70,430.03 L479.10,429.39 L478.50,428.96 L477.90,429.06 L477.30,429.85 L476.70,428.23 L476.10,429.03 L475.50,429.09 L474.90,428.86 L474.30,428.33 L473.70,428.69 L473.10,428.30 L472.50,427.62 L471.90,428.25 L471.30,427.74 L470.70,427.39 L470.10,427.33 L469.50,426.53 L468.90,426.81 L468.30,427.68 L467.70,427.27 L467.10,426.62 L466.50,426.03 L465.90,426.16 L465.30,425.28 L464.70,425.45 L464.10,425.56 L463.50,425.57 L462.90,425.65 L462.30,425.38 L461.70,425.19 L461.10,424.58 L460.50,425.65 L459.90,425.24 L459.30,424.58 L458.70,424.96 L458.10,424.91 L457.50,424.37 L456.90,424.00 L456.30,424.42 L455.70,424.28 L455.10,424.08 L454.50,423.90 L453.90,424.20 L453.30,423.06 L452.70,423.41 L452.10,423.59 L451.50,423.50 L450.90,423.45 L450.30,422.63 L449.70,422.69 L449.10,422.17 L448.50,422.90 L447.90,422.25 L447.30,422.38 L446.70,422.36 L446.10,422.69 L445.50,422.42 L444.90,421.29 L444.30,421.43 L443.70,422.35 L443.10,421.46 L442.50,421.97 L441.90,421.83 L441.30,421.47 L440.70,421.03 L440.10,420.20 L439.50,420.58 L438.90,420.31 L438.30,420.76 L437.70,420.95 L437.10,419.64 L436.50,420.54 L435.90,420.06 L435.30,419.36 L434.70,419.67 L434.10,419.67 L433.50,418.92 L432.90,419.06 L432.30,419.70 L431.70,419.03 L431.10,419.79 L430.50,419.08 L429.90,418.54 L429.30,418.85 L428.70,417.89 L428.10,418.20 L427.50,418.04 L426.90,418.63 L426.30,417.67 L425.70,417.68 L425.10,417.51 L424.50,417.22 L423.90,416.95 L423.30,417.69 L422.70,417.20 L422.10,417.08 L421.50,417.36 L420.90,416.85 L420.30,416.80 L419.70,416.49 L419.10,416.34 L418.50,416.82 L417.90,416.46 L417.30,416.03 L416.70,416.70 L416.10,416.67 L415.50,415.53 L414.90,416.00 L414.30,415.84 L413.70,415.07 L413.10,414.84 L412.50,414.48 L411.90,414.19 L411.30,413.97 L410.70,413.85 L410.10,413.82 L409.50,413.14 L408.90,413.08 L408.30,413.87 L407.70,412.96 L407.10,412.95 L406.50,412.95 L405.90,411.96 L405.30,412.55 L404.70,411.54 L404.10,410.70 L403.50,411.59 L402.90,410.63 L402.30,411.11 L401.70,410.19 L401.10,410.71 L400.50,410.22 L399.90,409.72 L399.30,409.41 L398.70,409.60 L398.10,409.15 L397.50,409.11 L396.90,408.60 L396.30,407.75 L395.70,407.95 L395.10,407.61 L394.50,407.21 L393.90,406.89 L393.30,406.12 L392.70,406.78 L392.10,406.22 L391.50,404.92 L390.90,404.18 L390.30,404.56 L389.70,404.03 L389.10,403.82 L388.50,403.25 L387.90,403.60 L387.30,402.68 L386.70,402.69 L386.10,401.64 L385.50,402.02 L384.90,400.65 L384.30,400.65 L383.70,400.39 L383.10,399.89 L382.50,400.14 L381.90,399.87 L381.30,398.61 L380.70,398.60 L380.10,398.50 L379.50,397.80 L378.90,396.17 L378.30,395.53 L377.70,394.88 L377.10,393.86 L376.50,392.81 L375.90,392.31 L375.30,391.34 L374.70,390.50 L374.10,389.06 L373.50,389.00 L372.90,388.26 L372.30,387.30 L371.70,385.68 L371.10,385.06 L370.50,384.87 L369.90,383.45 L369.30,381.91 L368.70,381.88 L368.10,381.20 L367.50,379.85 L366.90,378.80 L366.30,377.70 L365.70,377.48 L365.10,377.14 L364.50,375.39 L363.90,374.30 L363.30,373.59 L362.70,372.63 L362.10,371.32 L361.50,371.26 L360.90,369.73 L360.30,369.30 L359.70,368.24 L359.10,367.36 L358.50,365.77 L357.90,365.48 L357.30,363.92 L356.70,363.67 L356.10,362.41 L355.50,361.21 L354.90,361.12 L354.30,359.67 L353.70,359.00 L353.10,357.71 L352.50,356.86 L351.90,356.34 L351.30,355.81 L350.70,353.99 L350.10,353.97 L349.50,352.07 L348.90,352.18 L348.30,351.09 L347.70,350.32 L347.10,349.22 L346.50,347.97 L345.90,347.82 L345.30,346.20 L344.70,345.62 L344.10,344.03 L343.50,343.48 L342.90,343.04 L342.30,341.23 L341.70,341.02 L341.10,340.08 L340.50,338.36 L339.90,338.53 L339.30,336.95 L338.70,336.09 L338.10,335.53 L337.50,335.29 L336.90,335.11 L336.30,334.27 L335.70,333.22 L335.10,333.87 L334.50,333.15 L333.90,333.72 L333.30,334.66 L332.70,336.55 L332.10,336.86 L331.50,339.12 L330.90,340.37 L330.30,342.64 L329.70,345.26 L329.10,349.28 L328.50,355.55 L327.90,360.32 L327.30,365.48 L326.70,371.00 L326.10,377.26 L325.50,383.32 L324.90,390.39 L324.30,398.09 L323.70,405.24 L323.10,413.19 L322.50,420.14 L321.90,425.97 L321.30,430.24 L320.70,433.30 L320.10,435.23 L319.50,431.79 L318.90,435.02 L318.30,436.93 L317.70,440.74 L317.10,442.32 L316.50,442.46 L315.90,441.94 L315.30,442.16 L314.70,442.33 L314.10,442.12 L313.50,442.15 L312.90,442.75 L312.30,442.00 L311.70,441.21 L311.10,442.41 L310.50,441.53 L309.90,441.29 L309.30,441.59 L308.70,441.68 L308.10,440.77 L307.50,442.02 L306.90,441.00 L306.30,441.65 L305.70,441.32 L305.10,440.89 L304.50,440.20 L303.90,441.37 L303.30,441.18 L302.70,441.26 L302.10,440.64 L301.50,440.25 L300.90,441.00 L300.30,440.76 L299.70,440.24 L299.10,440.50 L298.50,440.42 L297.90,440.12Z" fill="#d0d0d0" fill-opacity="0.7" stroke="none"/>
<path d="M297.90,438.97 L298.50,439.70 L299.10,439.48 L299.70,438.93 L300.30,440.25 L300.90,440.15 L301.50,440.05 L302.10,439.08 L302.70,439.83 L303.30,439.36 L303.90,439.58 L304.50,439.55 L305.10,439.60 L305.70,440.25 L306.30,439.17 L306.90,440.27 L307.50,440.80 L308.10,439.77 L308.70,440.24 L309.30,440.34 L309.90,440.05 L310.50,440.60 L311.10,440.81 L311.70,441.05 L312.30,440.34 L312.90,440.08 L313.50,440.22 L314.10,440.79 L314.70,441.19 L315.30,440.52 L315.90,441.25 L316.50,440.87 L317.10,439.47 L317.70,438.66 L318.30,436.57 L318.90,432.76 L319.50,430.86 L320.10,418.92 L320.70,416.17 L321.30,412.68 L321.90,408.01 L322.50,403.65 L323.10,399.56 L323.70,394.72 L324.30,390.85 L324.90,386.16 L325.50,382.79 L326.10,379.07 L326.70,376.23 L327.30,372.05 L327.90,368.89 L328.50,365.37 L329.10,362.69 L329.70,361.28 L330.30,360.80 L330.90,360.25 L331.50,358.50 L332.10,358.15 L332.70,357.03 L333.30,356.57 L333.90,356.61 L334.50,357.41 L335.10,357.49 L335.70,357.79 L336.30,359.06 L336.90,358.31 L337.50,358.71 L338.10,359.62 L338.70,360.22 L339.30,360.88 L339.90,361.18 L340.50,361.07 L341.10,362.75 L341.70,362.51 L342.30,362.80 L342.90,363.84 L343.50,364.15 L344.10,364.24 L344.70,365.53 L345.30,366.44 L345.90,367.06 L346.50,366.86 L347.10,368.82 L347.70,368.87 L348.30,370.11 L348.90,370.13 L349.50,371.14 L350.10,372.06 L350.70,372.05 L351.30,373.68 L351.90,374.22 L352.50,375.11 L353.10,374.29 L353.70,375.81 L354.30,376.23 L354.90,376.94 L355.50,377.10 L356.10,377.61 L356.70,377.89 L357.30,378.56 L357.90,379.36 L358.50,379.67 L359.10,380.87 L359.70,381.17 L360.30,381.69 L360.90,382.39 L361.50,382.73 L362.10,382.62 L362.70,383.20 L363.30,384.06 L363.90,384.75 L364.50,384.38 L365.10,385.16 L365.70,385.91 L366.30,385.45 L366.90,386.58 L367.50,387.71 L368.10,387.17 L368.70,387.86 L369.30,387.81 L369.90,388.40 L370.50,389.56 L371.10,389.49 L371.70,389.85 L372.30,389.52 L372.90,389.86 L373.50,390.09 L374.10,391.15 L374.70,390.97 L375.30,391.91 L375.90,391.35 L376.50,391.79 L377.10,392.80 L377.70,392.92 L378.30,393.60 L378.90,393.27 L379.50,393.74 L380.10,394.31 L380.70,394.44 L381.30,395.12 L381.90,395.17 L382.50,395.18 L383.10,396.08 L383.70,396.31 L384.30,396.87 L384.90,396.62 L385.50,396.60 L386.10,396.92 L386.70,397.51 L387.30,397.85 L387.90,398.39 L388.50,398.67 L389.10,398.78 L389.70,399.05 L390.30,399.45 L390.90,400.07 L391.50,400.42 L392.10,401.00 L392.70,401.73 L393.30,401.24 L393.90,402.00 L394.50,402.42 L395.10,402.44 L395.70,402.47 L396.30,402.65 L396.90,402.93 L397.50,403.87 L398.10,403.65 L398.70,404.54 L399.30,405.12 L399.90,404.33 L400.50,404.34 L401.10,405.79 L401.70,405.35 L402.30,405.01 L402.90,405.91 L403.50,405.53 L404.10,405.45 L404.70,406.52 L405.30,406.33 L405.90,406.59 L406.50,407.00 L407.10,406.58 L407.70,407.02 L408.30,407.10 L408.90,407.01 L409.50,407.85 L410.10,408.07 L410.70,408.09 L411.30,407.73 L411.90,408.21 L412.50,408.30 L413.10,408.64 L413.70,408.34 L414.30,408.71 L414.90,409.23 L415.50,408.73 L416.10,409.10 L416.70,409.00 L417.30,409.93 L417.90,409.83 L418.50,410.37 L419.10,410.62 L419.70,410.63 L420.30,410.14 L420.90,410.76 L421.50,411.71 L422.10,411.34 L422.70,411.16 L423.30,411.76 L423.90,412.26 L424.50,411.49 L425.10,411.84 L425.70,411.94 L426.30,413.05 L426.90,412.11 L427.50,413.44 L428.10,412.54 L428.70,413.55 L429.30,413.49 L429.90,413.68 L430.50,413.39 L431.10,413.92 L431.70,414.47 L432.30,413.94 L432.90,414.09 L433.50,414.21 L434.10,415.03 L434.70,414.70 L435.30,414.93 L435.90,414.40 L436.50,415.31 L437.10,415.38 L437.70,414.85 L438.30,415.77 L438.90,416.39 L439.50,415.47 L440.10,415.73 L440.70,415.58 L441.30,415.91 L441.90,416.53 L442.50,416.03 L443.10,416.68 L443.70,416.60 L444.30,416.35 L444.90,416.18 L445.50,416.91 L446.10,417.74 L446.70,417.45 L447.30,416.78 L447.90,417.42 L448.50,417.36 L449.10,417.63 L449.70,417.83 L450.30,417.45 L450.90,418.62 L451.50,418.85 L452.10,418.53 L452.70,417.97 L453.30,417.94 L453.90,418.21 L454.50,419.63 L455.10,418.46 L455.70,418.40 L456.30,419.50 L456.90,419.56 L457.50,419.62 L458.10,419.70 L458.70,420.18 L459.30,419.45 L459.90,419.89 L460.50,420.06 L461.10,420.21 L461.70,420.44 L462.30,420.64 L462.90,420.42 L463.50,420.42 L464.10,421.16 L464.70,420.88 L465.30,421.04 L465.90,420.69 L466.50,421.65 L467.10,421.19 L467.70,422.02 L468.30,421.35 L468.90,422.52 L469.50,422.34 L470.10,422.56 L470.70,422.42 L471.30,423.22 L471.90,422.55 L472.50,422.40 L473.10,423.71 L473.70,423.95 L474.30,423.24 L474.90,423.84 L475.50,424.01 L476.10,424.12 L476.70,423.54 L477.30,424.43 L477.90,424.69 L478.50,425.01 L479.10,424.06 L479.70,425.20 L480.30,424.75 L480.90,425.49 L481.50,425.49 L482.10,425.37 L482.70,425.20 L483.30,425.60 L483.90,425.28 L484.50,425.91 L485.10,425.82 L485.70,425.79 L486.30,425.90 L486.90,425.23 L487.50,425.87 L488.10,426.03 L488.10,440.26 L487.50,439.85 L486.90,439.50 L486.30,440.00 L485.70,439.73 L485.10,440.20 L484.50,439.46 L483.90,439.50 L483.30,439.51 L482.70,439.81 L482.10,439.00 L481.50,439.61 L480.90,439.37 L480.30,438.85 L479.70,439.12 L479.10,438.10 L478.50,438.04 L477.90,437.96 L477.30,438.46 L476.70,438.32 L476.10,437.92 L475.50,437.68 L474.90,437.32 L474.30,436.93 L473.70,437.78 L473.10,437.02 L472.50,436.23 L471.90,436.59 L471.30,437.03 L470.70,437.16 L470.10,436.59 L469.50,436.15 L468.90,436.68 L468.30,435.50 L467.70,436.49 L467.10,435.41 L466.50,434.79 L465.90,435.05 L465.30,435.24 L464.70,434.45 L464.10,435.41 L463.50,433.97 L462.90,434.07 L462.30,434.42 L461.70,434.37 L461.10,433.95 L460.50,434.53 L459.90,433.89 L459.30,434.09 L458.70,434.29 L458.10,433.81 L457.50,433.57 L456.90,432.89 L456.30,433.40 L455.70,433.01 L455.10,432.82 L454.50,433.09 L453.90,432.38 L453.30,432.38 L452.70,432.24 L452.10,432.10 L451.50,432.25 L450.90,431.66 L450.30,432.29 L449.70,431.40 L449.10,431.43 L448.50,432.03 L447.90,431.83 L447.30,431.32 L446.70,431.29 L446.10,431.56 L445.50,430.46 L444.90,430.56 L444.30,430.39 L443.70,429.84 L443.10,430.29 L442.50,430.83 L441.90,430.04 L441.30,430.09 L440.70,429.72 L440.10,430.20 L439.50,430.59 L438.90,430.16 L438.30,429.66 L437.70,429.39 L437.10,429.09 L436.50,429.83 L435.90,429.16 L435.30,429.84 L434.70,428.01 L434.10,429.47 L433.50,428.35 L432.90,428.02 L432.30,428.54 L431.70,428.46 L431.10,428.06 L430.50,427.39 L429.90,427.51 L429.30,426.78 L428.70,427.76 L428.10,427.00 L427.50,427.44 L426.90,426.13 L426.30,426.74 L425.70,426.85 L425.10,426.45 L424.50,425.13 L423.90,425.39 L423.30,425.43 L422.70,424.85 L422.10,425.22 L421.50,425.54 L420.90,424.49 L420.30,423.87 L419.70,424.83 L419.10,424.61 L418.50,423.48 L417.90,424.18 L417.30,423.89 L416.70,423.09 L416.10,423.13 L415.50,423.21 L414.90,422.73 L414.30,423.28 L413.70,422.29 L413.10,421.81 L412.50,422.58 L411.90,421.66 L411.30,422.11 L410.70,421.82 L410.10,421.46 L409.50,420.91 L408.90,421.47 L408.30,421.77 L407.70,420.52 L407.10,420.93 L406.50,420.81 L405.90,420.51 L405.30,419.97 L404.70,420.13 L404.10,419.76 L403.50,419.34 L402.90,419.09 L402.30,418.72 L401.70,418.90 L401.10,418.83 L400.50,418.85 L399.90,418.78 L399.30,418.80 L398.70,418.20 L398.10,418.52 L397.50,417.68 L396.90,417.68 L396.30,416.80 L395.70,416.76 L395.10,416.47 L394.50,415.84 L393.90,415.91 L393.30,415.56 L392.70,414.97 L392.10,415.07 L391.50,414.01 L390.90,414.72 L390.30,413.47 L389.70,413.05 L389.10,413.31 L388.50,412.62 L387.90,412.68 L387.30,411.89 L386.70,411.40 L386.10,410.87 L385.50,410.93 L384.90,410.77 L384.30,409.86 L383.70,410.19 L383.10,409.31 L382.50,409.58 L381.90,408.98 L381.30,408.42 L380.70,407.94 L380.10,408.26 L379.50,407.74 L378.90,407.93 L378.30,407.28 L377.70,407.04 L377.10,406.72 L376.50,406.16 L375.90,405.93 L375.30,405.62 L374.70,405.67 L374.10,404.61 L373.50,403.98 L372.90,404.78 L372.30,403.72 L371.70,403.34 L371.10,403.38 L370.50,403.38 L369.90,402.97 L369.30,402.02 L368.70,402.24 L368.10,401.89 L367.50,401.72 L366.90,401.33 L366.30,400.60 L365.70,401.55 L365.10,400.78 L364.50,400.32 L363.90,399.63 L363.30,399.72 L362.70,398.81 L362.10,398.56 L361.50,398.72 L360.90,397.83 L360.30,397.95 L359.70,396.97 L359.10,397.53 L358.50,395.92 L357.90,395.95 L357.30,395.98 L356.70,395.39 L356.10,395.67 L355.50,394.90 L354.90,394.09 L354.30,393.26 L353.70,392.90 L353.10,393.08 L352.50,392.08 L351.90,392.53 L351.30,390.96 L350.70,390.88 L350.10,390.49 L349.50,389.69 L348.90,388.94 L348.30,388.32 L347.70,388.53 L347.10,387.78 L346.50,386.99 L345.90,385.86 L345.30,385.54 L344.70,385.33 L344.10,384.04 L343.50,383.78 L342.90,383.54 L342.30,383.11 L341.70,382.35 L341.10,381.63 L340.50,380.57 L339.90,379.97 L339.30,379.53 L338.70,379.56 L338.10,379.04 L337.50,378.57 L336.90,378.58 L336.30,378.20 L335.70,377.96 L335.10,377.17 L334.50,376.80 L333.90,376.75 L333.30,376.73 L332.70,376.77 L332.10,377.92 L331.50,378.66 L330.90,379.57 L330.30,379.94 L329.70,380.43 L329.10,382.29 L328.50,384.56 L327.90,387.82 L327.30,391.52 L326.70,395.63 L326.10,398.87 L325.50,402.17 L324.90,405.41 L324.30,409.89 L323.70,415.23 L323.10,419.32 L322.50,423.68 L321.90,427.85 L321.30,431.78 L320.70,435.94 L320.10,438.09 L319.50,431.51 L318.90,434.71 L318.30,437.81 L317.70,439.87 L317.10,441.50 L316.50,441.90 L315.90,442.71 L315.30,442.29 L314.70,442.26 L314.10,442.38 L313.50,442.13 L312.90,442.83 L312.30,441.98 L311.70,442.56 L311.10,442.14 L310.50,441.46 L309.90,441.33 L309.30,441.17 L308.70,442.12 L308.10,441.06 L307.50,441.58 L306.90,442.06 L306.30,441.84 L305.70,441.31 L305.10,441.97 L304.50,441.35 L303.90,441.51 L303.30,441.15 L302.70,441.55 L302.10,440.84 L301.50,441.58 L300.90,441.80 L300.30,441.24 L299.70,440.34 L299.10,441.77 L298.50,441.24 L297.90,440.60Z" fill="#d0d0fc" fill-opacity="0.7" stroke="none"/>
<path d="M297.90,437.72 L298.50,438.59 L299.10,438.15 L299.70,438.81 L300.30,438.98 L300.90,438.91 L301.50,438.77 L302.10,438.32 L302.70,439.25 L303.30,439.17 L303.90,438.97 L304.50,438.80 L305.10,439.03 L305.70,439.43 L306.30,439.29 L306.90,439.23 L307.50,439.24 L308.10,439.25 L308.70,439.19 L309.30,439.29 L309.90,440.20 L310.50,439.21 L311.10,439.85 L311.70,439.59 L312.30,440.52 L312.90,439.79 L313.50,439.79 L314.10,440.63 L314.70,441.06 L315.30,440.29 L315.90,440.73 L316.50,440.24 L317.10,441.56 L317.70,440.61 L318.30,439.44 L318.90,438.52 L319.50,435.90 L320.10,420.40 L320.70,417.27 L321.30,414.66 L321.90,411.80 L322.50,408.27 L323.10,404.60 L323.70,398.87 L324.30,390.32 L324.90,382.62 L325.50,376.01 L326.10,367.96 L326.70,360.73 L327.30,353.52 L327.90,348.73 L328.50,343.03 L329.10,337.09 L329.70,330.20 L330.30,325.71 L330.90,321.44 L331.50,317.58 L332.10,316.56 L332.70,314.98 L333.30,313.75 L333.90,312.33 L334.50,311.04 L335.10,310.35 L335.70,308.94 L336.30,308.36 L336.90,308.00 L337.50,307.96 L338.10,308.56 L338.70,309.07 L339.30,309.69 L339.90,309.68 L340.50,310.03 L341.10,310.96 L341.70,311.60 L342.30,312.35 L342.90,313.65 L343.50,314.00 L344.10,314.46 L344.70,314.44 L345.30,315.66 L345.90,317.14 L346.50,317.19 L347.10,317.87 L347.70,319.08 L348.30,320.01 L348.90,321.16 L349.50,323.03 L350.10,323.48 L350.70,323.63 L351.30,325.66 L351.90,325.74 L352.50,327.76 L353.10,328.06 L353.70,329.47 L354.30,329.61 L354.90,330.33 L355.50,331.31 L356.10,332.69 L356.70,332.54 L357.30,333.62 L357.90,334.53 L358.50,335.85 L359.10,335.43 L359.70,336.85 L360.30,338.14 L360.90,339.06 L361.50,338.74 L362.10,339.49 L362.70,341.19 L363.30,341.03 L363.90,343.43 L364.50,344.31 L365.10,344.14 L365.70,345.22 L366.30,345.89 L366.90,346.99 L367.50,348.09 L368.10,349.72 L368.70,349.86 L369.30,350.76 L369.90,351.31 L370.50,352.29 L371.10,353.28 L371.70,353.78 L372.30,354.94 L372.90,355.57 L373.50,356.33 L374.10,357.36 L374.70,358.36 L375.30,357.89 L375.90,359.18 L376.50,359.75 L377.10,361.32 L377.70,361.82 L378.30,361.73 L378.90,362.55 L379.50,363.52 L380.10,364.08 L380.70,364.63 L381.30,365.19 L381.90,366.28 L382.50,366.75 L383.10,367.44 L383.70,367.98 L384.30,367.95 L384.90,368.37 L385.50,369.02 L386.10,369.98 L386.70,370.09 L387.30,370.63 L387.90,370.10 L388.50,371.06 L389.10,371.41 L389.70,372.33 L390.30,372.49 L390.90,372.86 L391.50,373.70 L392.10,374.17 L392.70,374.51 L393.30,374.90 L393.90,374.34 L394.50,374.87 L395.10,375.18 L395.70,375.25 L396.30,376.27 L396.90,375.94 L397.50,376.64 L398.10,376.94 L398.70,377.98 L399.30,376.95 L399.90,378.55 L400.50,378.13 L401.10,378.79 L401.70,379.50 L402.30,380.29 L402.90,379.15 L403.50,379.93 L404.10,380.30 L404.70,381.44 L405.30,381.73 L405.90,381.66 L406.50,382.10 L407.10,382.45 L407.70,383.10 L408.30,383.87 L408.90,383.41 L409.50,384.10 L410.10,383.70 L410.70,384.94 L411.30,385.51 L411.90,384.94 L412.50,385.69 L413.10,385.52 L413.70,386.31 L414.30,386.63 L414.90,387.02 L415.50,387.38 L416.10,387.68 L416.70,388.17 L417.30,388.91 L417.90,388.65 L418.50,389.79 L419.10,389.41 L419.70,389.58 L420.30,390.07 L420.90,390.37 L421.50,390.97 L422.10,390.83 L422.70,391.45 L423.30,392.41 L423.90,392.46 L424.50,393.01 L425.10,393.11 L425.70,393.36 L426.30,394.67 L426.90,394.93 L427.50,394.02 L428.10,395.17 L428.70,395.63 L429.30,396.06 L429.90,396.50 L430.50,395.97 L431.10,397.20 L431.70,397.05 L432.30,398.02 L432.90,398.85 L433.50,397.82 L434.10,398.20 L434.70,398.82 L435.30,399.11 L435.90,399.69 L436.50,399.91 L437.10,399.79 L437.70,400.81 L438.30,400.33 L438.90,400.34 L439.50,401.22 L440.10,401.24 L440.70,401.75 L441.30,401.69 L441.90,401.91 L442.50,402.16 L443.10,401.51 L443.70,402.04 L444.30,403.01 L444.90,402.36 L445.50,402.67 L446.10,402.29 L446.70,403.10 L447.30,403.40 L447.90,402.22 L448.50,403.40 L449.10,403.36 L449.70,404.06 L450.30,403.56 L450.90,403.58 L451.50,404.31 L452.10,404.13 L452.70,404.39 L453.30,404.99 L453.90,405.49 L454.50,405.36 L455.10,404.98 L455.70,405.74 L456.30,406.32 L456.90,405.50 L457.50,406.59 L458.10,406.26 L458.70,406.75 L459.30,407.02 L459.90,406.89 L460.50,406.71 L461.10,407.11 L461.70,407.34 L462.30,407.86 L462.90,408.30 L463.50,407.65 L464.10,408.95 L464.70,408.44 L465.30,409.45 L465.90,409.04 L466.50,409.17 L467.10,409.71 L467.70,409.01 L468.30,409.25 L468.90,410.04 L469.50,410.03 L470.10,410.40 L470.70,411.57 L471.30,410.46 L471.90,410.98 L472.50,411.89 L473.10,411.59 L473.70,412.05 L474.30,413.05 L474.90,413.05 L475.50,413.78 L476.10,413.73 L476.70,414.41 L477.30,414.32 L477.90,413.70 L478.50,414.60 L479.10,414.82 L479.70,415.69 L480.30,414.99 L480.90,416.22 L481.50,415.70 L482.10,415.75 L482.70,416.81 L483.30,416.77 L483.90,417.62 L484.50,417.86 L485.10,417.12 L485.70,417.34 L486.30,418.15 L486.90,418.82 L487.50,418.64 L488.10,419.14 L488.10,437.34 L487.50,437.80 L486.90,436.93 L486.30,436.84 L485.70,436.65 L485.10,436.88 L484.50,436.79 L483.90,435.85 L483.30,436.43 L482.70,435.55 L482.10,435.31 L481.50,435.31 L480.90,434.69 L480.30,433.94 L479.70,433.97 L479.10,433.68 L478.50,433.34 L477.90,433.13 L477.30,433.65 L476.70,432.66 L476.10,432.65 L475.50,432.92 L474.90,431.78 L474.30,431.42 L473.70,432.06 L473.10,430.70 L472.50,430.37 L471.90,430.68 L471.30,429.62 L470.70,429.65 L470.10,429.73 L469.50,428.94 L468.90,428.90 L468.30,428.70 L467.70,428.54 L467.10,428.57 L466.50,428.64 L465.90,428.20 L465.30,427.50 L464.70,427.96 L464.10,427.46 L463.50,427.44 L462.90,426.89 L462.30,427.14 L461.70,426.99 L461.10,426.01 L460.50,426.76 L459.90,426.77 L459.30,426.10 L458.70,425.85 L458.10,425.38 L457.50,426.01 L456.90,425.56 L456.30,425.10 L455.70,425.04 L455.10,424.69 L454.50,424.02 L453.90,424.19 L453.30,423.51 L452.70,423.85 L452.10,424.00 L451.50,422.84 L450.90,422.59 L450.30,423.11 L449.70,423.11 L449.10,421.78 L448.50,422.03 L447.90,421.72 L447.30,421.39 L446.70,421.30 L446.10,421.33 L445.50,421.91 L444.90,421.21 L444.30,422.05 L443.70,421.22 L443.10,420.92 L442.50,421.22 L441.90,421.34 L441.30,420.60 L440.70,420.05 L440.10,420.40 L439.50,419.82 L438.90,420.11 L438.30,419.80 L437.70,419.66 L437.10,418.93 L436.50,418.77 L435.90,419.18 L435.30,417.58 L434.70,417.40 L434.10,417.54 L433.50,417.36 L432.90,417.39 L432.30,416.95 L431.70,416.83 L431.10,416.48 L430.50,415.08 L429.90,415.73 L429.30,414.66 L428.70,414.10 L428.10,414.57 L427.50,412.74 L426.90,413.69 L426.30,412.98 L425.70,412.16 L425.10,412.44 L424.50,412.18 L423.90,411.75 L423.30,411.70 L422.70,410.46 L422.10,410.39 L421.50,409.63 L420.90,409.87 L420.30,409.73 L419.70,408.69 L419.10,408.97 L418.50,408.17 L417.90,407.39 L417.30,408.42 L416.70,407.69 L416.10,407.42 L415.50,406.28 L414.90,406.18 L414.30,405.90 L413.70,405.63 L413.10,405.17 L412.50,404.58 L411.90,403.80 L411.30,403.55 L410.70,403.37 L410.10,403.09 L409.50,403.12 L408.90,401.73 L408.30,402.12 L407.70,401.99 L407.10,400.60 L406.50,400.30 L405.90,400.31 L405.30,400.26 L404.70,400.38 L404.10,399.69 L403.50,398.55 L402.90,398.68 L402.30,398.30 L401.70,397.99 L401.10,397.39 L400.50,397.42 L399.90,397.58 L399.30,396.90 L398.70,396.80 L398.10,395.65 L397.50,396.40 L396.90,395.01 L396.30,394.24 L395.70,395.10 L395.10,394.22 L394.50,394.47 L393.90,392.80 L393.30,393.91 L392.70,392.48 L392.10,392.17 L391.50,392.30 L390.90,391.47 L390.30,391.62 L389.70,390.84 L389.10,390.55 L388.50,390.02 L387.90,388.87 L387.30,388.66 L386.70,388.89 L386.10,388.24 L385.50,387.31 L384.90,387.70 L384.30,387.10 L383.70,386.45 L383.10,386.39 L382.50,385.47 L381.90,384.71 L381.30,384.45 L380.70,384.29 L380.10,383.24 L379.50,382.84 L378.90,382.22 L378.30,381.35 L377.70,380.86 L377.10,380.19 L376.50,378.75 L375.90,378.82 L375.30,377.88 L374.70,377.27 L374.10,376.55 L373.50,375.23 L372.90,374.86 L372.30,374.71 L371.70,373.81 L371.10,371.95 L370.50,372.10 L369.90,371.17 L369.30,369.98 L368.70,369.38 L368.10,368.48 L367.50,368.17 L366.90,367.49 L366.30,365.88 L365.70,365.25 L365.10,365.53 L364.50,364.52 L363.90,364.12 L363.30,362.99 L362.70,362.03 L362.10,361.68 L361.50,360.80 L360.90,360.39 L360.30,359.52 L359.70,358.70 L359.10,358.68 L358.50,358.29 L357.90,357.42 L357.30,356.17 L356.70,355.56 L356.10,355.02 L355.50,354.41 L354.90,354.44 L354.30,353.63 L353.70,353.53 L353.10,352.00 L352.50,351.28 L351.90,350.32 L351.30,349.50 L350.70,349.25 L350.10,348.44 L349.50,347.81 L348.90,347.01 L348.30,345.61 L347.70,345.20 L347.10,344.64 L346.50,342.97 L345.90,343.24 L345.30,342.62 L344.70,341.00 L344.10,340.54 L343.50,340.02 L342.90,339.33 L342.30,339.33 L341.70,338.13 L341.10,337.69 L340.50,337.60 L339.90,336.62 L339.30,335.96 L338.70,335.45 L338.10,335.90 L337.50,334.85 L336.90,334.53 L336.30,334.30 L335.70,335.96 L335.10,337.06 L334.50,337.64 L333.90,339.10 L333.30,340.00 L332.70,341.13 L332.10,342.48 L331.50,345.15 L330.90,347.27 L330.30,352.38 L329.70,357.39 L329.10,363.58 L328.50,369.76 L327.90,375.16 L327.30,380.57 L326.70,387.07 L326.10,394.43 L325.50,401.94 L324.90,409.63 L324.30,416.98 L323.70,424.39 L323.10,430.93 L322.50,435.03 L321.90,438.66 L321.30,440.83 L320.70,444.36 L320.10,447.69 L319.50,436.93 L318.90,440.19 L318.30,441.91 L317.70,442.72 L317.10,442.72 L316.50,441.35 L315.90,442.53 L315.30,441.47 L314.70,442.43 L314.10,442.45 L313.50,441.76 L312.90,442.04 L312.30,441.89 L311.70,441.60 L311.10,441.28 L310.50,441.57 L309.90,441.38 L309.30,441.86 L308.70,441.33 L308.10,440.85 L307.50,440.96 L306.90,441.26 L306.30,440.25 L305.70,440.43 L305.10,441.17 L304.50,441.36 L303.90,440.63 L303.30,440.79 L302.70,440.10 L302.10,440.26 L301.50,440.44 L300.90,440.22 L300.30,440.37 L299.70,439.96 L299.10,439.83 L298.50,440.26 L297.90,440.03Z" fill="#fcc8c8" fill-opacity="0.65" stroke="none"/>
<polyline points="297.90,439.32 298.50,439.28 299.10,439.74 299.70,439.75 300.30,439.85 300.90,439.72 301.50,439.85 302.10,440.22 302.70,440.24 303.30,439.92 303.90,439.99 304.50,439.91 305.10,440.44 305.70,440.02 306.30,440.53 306.90,440.78 307.50,440.77 308.10,440.51 308.70,440.88 309.30,440.47 309.90,440.98 310.50,440.64 311.10,441.06 311.70,440.68 312.30,441.09 312.90,441.47 313.50,441.04 314.10,441.04 314.70,441.34 315.30,441.13 315.90,441.26 316.50,441.73 317.10,441.13 317.70,439.37 318.30,436.60 318.90,433.68 319.50,431.27 320.10,428.58 320.70,425.94 321.30,423.08 321.90,419.27 322.50,413.37 323.10,406.09 323.70,398.52 324.30,391.16 324.90,383.71 325.50,376.25 326.10,370.01 326.70,363.90 327.30,358.57 327.90,353.70 328.50,348.39 329.10,342.56 329.70,338.16 330.30,335.10 330.90,332.90 331.50,331.90 332.10,330.37 332.70,329.14 333.30,327.59 333.90,326.44 334.50,326.07 335.10,326.59 335.70,326.70 336.30,327.25 336.90,327.68 337.50,327.85 338.10,328.48 338.70,328.83 339.30,330.38 339.90,331.32 340.50,331.77 341.10,332.97 341.70,333.91 342.30,334.82 342.90,335.51 343.50,336.51 344.10,337.44 344.70,338.34 345.30,339.68 345.90,340.50 346.50,341.41 347.10,341.91 347.70,342.94 348.30,344.15 348.90,345.27 349.50,345.98 350.10,347.20 350.70,347.70 351.30,349.05 351.90,350.16 352.50,351.05 353.10,351.92 353.70,352.45 354.30,353.58 354.90,354.59 355.50,355.31 356.10,356.48 356.70,357.90 357.30,358.50 357.90,359.71 358.50,360.27 359.10,361.21 359.70,362.13 360.30,363.30 360.90,364.60 361.50,365.49 362.10,366.06 362.70,367.16 363.30,367.97 363.90,369.03 364.50,369.99 365.10,371.19 365.70,371.55 366.30,372.85 366.90,373.62 367.50,374.74 368.10,375.80 368.70,376.30 369.30,377.37 369.90,378.62 370.50,379.33 371.10,380.12 371.70,380.89 372.30,381.95 372.90,382.87 373.50,383.63 374.10,384.35 374.70,385.31 375.30,386.00 375.90,387.02 376.50,388.15 377.10,389.17 377.70,389.65 378.30,390.54 378.90,391.62 379.50,392.62 380.10,392.95 380.70,394.00 381.30,393.79 381.90,394.69 382.50,394.63 383.10,395.26 383.70,395.42 384.30,396.17 384.90,396.16 385.50,396.78 386.10,396.90 386.70,397.35 387.30,397.80 387.90,398.30 388.50,398.63 389.10,399.27 389.70,399.16 390.30,399.82 390.90,399.73 391.50,400.39 392.10,400.75 392.70,401.32 393.30,401.29 393.90,401.58 394.50,401.78 395.10,402.61 395.70,403.02 396.30,402.95 396.90,403.45 397.50,403.75 398.10,403.92 398.70,404.57 399.30,404.52 399.90,404.65 400.50,405.16 401.10,405.44 401.70,405.68 402.30,405.99 402.90,405.67 403.50,406.15 404.10,406.19 404.70,406.64 405.30,406.99 405.90,407.52 406.50,407.64 407.10,407.70 407.70,408.02 408.30,408.32 408.90,408.62 409.50,408.70 410.10,408.51 410.70,409.28 411.30,409.49 411.90,409.71 412.50,409.86 413.10,410.39 413.70,410.49 414.30,410.63 414.90,410.52 415.50,410.78 416.10,411.36 416.70,411.12 417.30,411.11 417.90,411.51 418.50,411.37 419.10,411.78 419.70,411.58 420.30,411.67 420.90,411.84 421.50,412.19 422.10,412.57 422.70,412.07 423.30,412.80 423.90,412.36 424.50,412.81 425.10,413.03 425.70,412.87 426.30,412.83 426.90,413.56 427.50,413.64 428.10,413.29 428.70,413.42 429.30,413.64 429.90,413.51 430.50,414.03 431.10,414.39 431.70,414.30 432.30,414.53 432.90,414.45 433.50,414.21 434.10,414.93 434.70,414.72 435.30,414.74 435.90,414.74 436.50,415.16 437.10,415.02 437.70,415.52 438.30,415.83 438.90,415.35 439.50,415.48 440.10,415.54 440.70,415.96 441.30,416.10 441.90,416.39 442.50,416.63 443.10,416.31 443.70,416.86 444.30,416.90 444.90,416.66 445.50,417.08 446.10,417.26 446.70,417.16 447.30,417.39 447.90,417.30 448.50,417.90 449.10,417.36 449.70,417.83 450.30,418.13 450.90,418.36 451.50,417.91 452.10,418.56 452.70,418.59 453.30,418.24 453.90,418.61 454.50,418.49 455.10,418.81 455.70,419.40 456.30,419.22 456.90,419.20 457.50,419.75 458.10,419.90 458.70,419.48 459.30,419.92 459.90,420.06 460.50,420.35 461.10,419.86 461.70,420.51 462.30,420.30 462.90,420.52 463.50,420.59 464.10,420.83 464.70,420.86 465.30,420.81 465.90,421.10 466.50,421.42 467.10,421.68 467.70,421.88 468.30,422.10 468.90,422.15 469.50,421.96 470.10,422.57 470.70,422.79 471.30,422.77 471.90,422.79 472.50,422.67 473.10,423.02 473.70,423.53 474.30,423.24 474.90,423.83 475.50,423.89 476.10,423.97 476.70,423.79 477.30,424.42 477.90,424.34 478.50,424.18 479.10,424.54 479.70,424.90 480.30,424.89 480.90,425.07 481.50,425.36 482.10,425.25 482.70,425.90 483.30,426.10 483.90,426.38 484.50,426.61 485.10,426.64 485.70,426.49 486.30,427.15 486.90,427.15 487.50,427.47 488.10,427.15" stroke="#000" stroke-width="1.6" fill="none" stroke-linejoin="round" />
<polyline points="297.90,439.93 298.50,440.01 299.10,440.41 299.70,440.08 300.30,440.67 300.90,440.64 301.50,440.61 302.10,440.45 302.70,440.75 303.30,440.38 303.90,440.67 304.50,440.55 305.10,440.67 305.70,441.04 306.30,440.56 306.90,440.97 307.50,441.02 308.10,440.59 308.70,441.26 309.30,440.92 309.90,441.03 310.50,440.91 311.10,441.15 311.70,441.49 312.30,441.12 312.90,441.45 313.50,441.54 314.10,441.66 314.70,441.60 315.30,441.47 315.90,441.47 316.50,441.56 317.10,440.74 317.70,439.40 318.30,436.79 318.90,433.79 319.50,431.26 320.10,428.53 320.70,426.26 321.30,422.12 321.90,418.17 322.50,413.53 323.10,409.04 323.70,405.06 324.30,400.21 324.90,396.14 325.50,392.41 326.10,388.69 326.70,385.45 327.30,381.96 327.90,378.40 328.50,375.06 329.10,372.85 329.70,371.12 330.30,370.02 330.90,369.55 331.50,368.64 332.10,367.86 332.70,367.06 333.30,366.69 333.90,366.81 334.50,367.30 335.10,367.30 335.70,367.99 336.30,368.28 336.90,368.70 337.50,368.56 338.10,369.23 338.70,369.71 339.30,370.31 339.90,370.76 340.50,371.05 341.10,372.27 341.70,372.83 342.30,372.88 342.90,373.98 343.50,374.33 344.10,374.50 344.70,375.52 345.30,375.88 345.90,376.55 346.50,376.98 347.10,378.12 347.70,378.62 348.30,378.95 348.90,379.81 349.50,380.34 350.10,381.36 350.70,381.44 351.30,382.40 351.90,383.07 352.50,383.67 353.10,383.73 353.70,384.64 354.30,384.64 354.90,385.11 355.50,385.92 356.10,386.61 356.70,386.75 357.30,387.07 357.90,387.51 358.50,388.21 359.10,389.02 359.70,389.34 360.30,389.72 360.90,390.24 361.50,390.50 362.10,391.00 362.70,391.44 363.30,392.13 363.90,392.39 364.50,392.28 365.10,392.95 365.70,393.55 366.30,393.24 366.90,393.61 367.50,394.49 368.10,394.50 368.70,395.08 369.30,395.34 369.90,395.40 370.50,396.08 371.10,395.90 371.70,396.28 372.30,396.57 372.90,397.29 373.50,397.19 374.10,397.78 374.70,398.36 375.30,398.68 375.90,398.75 376.50,398.99 377.10,399.81 377.70,400.17 378.30,400.38 378.90,400.70 379.50,400.71 380.10,401.22 380.70,401.51 381.30,401.98 381.90,402.13 382.50,402.68 383.10,402.89 383.70,403.56 384.30,403.37 384.90,403.53 385.50,403.92 386.10,404.27 386.70,404.93 387.30,405.15 387.90,405.48 388.50,405.91 389.10,406.20 389.70,406.18 390.30,406.51 390.90,407.33 391.50,407.57 392.10,407.67 392.70,408.23 393.30,408.56 393.90,408.47 394.50,409.06 395.10,409.63 395.70,410.01 396.30,410.24 396.90,410.33 397.50,411.01 398.10,411.04 398.70,411.54 399.30,411.69 399.90,411.83 400.50,411.52 401.10,412.22 401.70,411.92 402.30,412.06 402.90,412.46 403.50,412.75 404.10,412.64 404.70,413.31 405.30,412.86 405.90,413.57 406.50,413.67 407.10,413.89 407.70,413.84 408.30,414.33 408.90,414.10 409.50,414.40 410.10,414.81 410.70,415.02 411.30,414.63 411.90,415.19 412.50,415.57 413.10,415.35 413.70,415.41 414.30,415.90 414.90,416.24 415.50,415.99 416.10,416.57 416.70,416.31 417.30,417.07 417.90,416.64 418.50,416.84 419.10,417.51 419.70,417.39 420.30,417.34 420.90,417.66 421.50,418.27 422.10,418.44 422.70,418.25 423.30,418.23 423.90,418.87 424.50,418.65 425.10,419.25 425.70,419.29 426.30,419.74 426.90,419.35 427.50,420.10 428.10,419.71 428.70,420.26 429.30,420.27 429.90,420.59 430.50,420.55 431.10,421.23 431.70,421.11 432.30,421.38 432.90,421.41 433.50,421.75 434.10,421.94 434.70,421.51 435.30,422.24 435.90,421.88 436.50,422.24 437.10,422.06 437.70,422.29 438.30,422.79 438.90,422.90 439.50,423.05 440.10,422.97 440.70,422.97 441.30,423.09 441.90,423.14 442.50,423.48 443.10,423.42 443.70,423.35 444.30,423.83 444.90,423.74 445.50,424.04 446.10,424.24 446.70,424.53 447.30,424.05 447.90,424.48 448.50,424.83 449.10,424.36 449.70,424.83 450.30,424.75 450.90,425.12 451.50,425.36 452.10,425.35 452.70,425.26 453.30,425.49 453.90,425.48 454.50,426.04 455.10,425.85 455.70,425.86 456.30,426.47 456.90,426.35 457.50,426.46 458.10,426.88 458.70,426.77 459.30,427.02 459.90,426.82 460.50,427.07 461.10,427.03 461.70,427.49 462.30,427.27 462.90,427.42 463.50,427.46 464.10,428.09 464.70,427.86 465.30,428.34 465.90,428.25 466.50,428.17 467.10,428.69 467.70,428.95 468.30,428.82 468.90,429.33 469.50,429.29 470.10,429.32 470.70,429.71 471.30,429.77 471.90,430.09 472.50,429.74 473.10,430.41 473.70,430.49 474.30,430.34 474.90,430.54 475.50,430.75 476.10,430.61 476.70,431.02 477.30,431.52 477.90,431.53 478.50,431.63 479.10,431.42 479.70,432.05 480.30,431.76 480.90,432.35 481.50,432.11 482.10,432.03 482.70,432.38 483.30,432.12 483.90,432.78 484.50,432.73 485.10,432.76 485.70,432.98 486.30,433.13 486.90,432.68 487.50,433.15 488.10,433.39" stroke="#0000ff" stroke-width="1.6" fill="none" stroke-linejoin="round" />
<polyline points="297.90,438.88 298.50,439.02 299.10,439.10 299.70,439.20 300.30,439.43 300.90,439.62 301.50,439.50 302.10,439.67 302.70,439.58 303.30,439.59 303.90,439.93 304.50,440.12 305.10,439.90 305.70,440.02 306.30,439.70 306.90,440.34 307.50,440.27 308.10,440.34 308.70,440.09 309.30,440.46 309.90,440.56 310.50,440.33 311.10,440.59 311.70,440.91 312.30,441.02 312.90,441.06 313.50,441.12 314.10,441.39 314.70,441.37 315.30,440.95 315.90,441.24 316.50,441.09 317.10,441.79 317.70,441.72 318.30,440.81 318.90,439.22 319.50,436.69 320.10,434.06 320.70,431.08 321.30,427.85 321.90,425.41 322.50,422.01 323.10,417.32 323.70,411.60 324.30,404.03 324.90,396.51 325.50,389.02 326.10,381.30 326.70,373.74 327.30,367.36 327.90,361.53 328.50,356.05 329.10,349.93 329.70,344.05 330.30,338.97 330.90,334.33 331.50,331.42 332.10,329.65 332.70,328.24 333.30,326.98 333.90,325.57 334.50,324.45 335.10,323.31 335.70,322.32 336.30,321.52 336.90,320.97 337.50,321.14 338.10,322.12 338.70,321.91 339.30,322.41 339.90,323.29 340.50,323.70 341.10,324.50 341.70,324.90 342.30,325.65 342.90,326.35 343.50,327.06 344.10,327.67 344.70,328.09 345.30,328.94 345.90,329.85 346.50,330.21 347.10,331.43 347.70,332.22 348.30,333.36 348.90,333.82 349.50,335.14 350.10,335.58 350.70,336.62 351.30,337.56 351.90,338.27 352.50,339.42 353.10,340.28 353.70,341.17 354.30,341.47 354.90,342.53 355.50,343.01 356.10,343.86 356.70,344.13 357.30,345.03 357.90,345.95 358.50,346.57 359.10,346.96 359.70,347.95 360.30,348.78 360.90,349.54 361.50,349.68 362.10,350.43 362.70,351.34 363.30,351.93 363.90,353.37 364.50,354.16 365.10,354.98 365.70,355.66 366.30,356.33 366.90,357.26 367.50,357.82 368.10,359.18 368.70,359.59 369.30,360.81 369.90,361.35 370.50,362.06 371.10,363.01 371.70,363.71 372.30,364.88 372.90,364.97 373.50,365.91 374.10,366.69 374.70,367.47 375.30,367.84 375.90,369.12 376.50,369.54 377.10,370.46 377.70,370.90 378.30,371.64 378.90,372.38 379.50,373.13 380.10,374.18 380.70,374.26 381.30,374.62 381.90,375.76 382.50,375.70 383.10,376.68 383.70,376.97 384.30,377.58 384.90,377.74 385.50,378.23 386.10,378.93 386.70,379.15 387.30,379.64 387.90,379.86 388.50,380.70 389.10,380.87 389.70,381.70 390.30,381.62 390.90,382.43 391.50,382.67 392.10,383.09 392.70,383.57 393.30,383.89 393.90,383.84 394.50,384.40 395.10,385.02 395.70,385.10 396.30,385.26 396.90,385.76 397.50,386.48 398.10,386.29 398.70,387.27 399.30,386.96 399.90,387.69 400.50,387.77 401.10,387.98 401.70,388.83 402.30,389.19 402.90,389.05 403.50,389.51 404.10,389.74 404.70,390.44 405.30,390.90 405.90,391.21 406.50,391.10 407.10,391.55 407.70,392.15 408.30,392.79 408.90,392.68 409.50,393.42 410.10,393.49 410.70,393.87 411.30,394.45 411.90,394.49 412.50,395.14 413.10,395.30 413.70,395.70 414.30,396.12 414.90,396.87 415.50,397.18 416.10,397.69 416.70,397.80 417.30,398.36 417.90,398.35 418.50,399.00 419.10,399.27 419.70,399.68 420.30,399.84 420.90,400.28 421.50,400.67 422.10,400.86 422.70,401.31 423.30,401.61 423.90,402.25 424.50,402.42 425.10,402.95 425.70,403.17 426.30,403.65 426.90,404.03 427.50,403.84 428.10,404.65 428.70,404.75 429.30,405.05 429.90,405.80 430.50,406.05 431.10,406.53 431.70,406.87 432.30,407.48 432.90,407.76 433.50,407.66 434.10,407.72 434.70,408.26 435.30,408.47 435.90,409.14 436.50,408.95 437.10,409.38 437.70,409.98 438.30,409.93 438.90,410.06 439.50,410.37 440.10,410.72 440.70,411.15 441.30,411.69 441.90,411.77 442.50,411.92 443.10,411.55 443.70,411.72 444.30,412.03 444.90,411.56 445.50,411.83 446.10,412.17 446.70,412.07 447.30,412.48 447.90,412.08 448.50,412.37 449.10,412.79 449.70,413.26 450.30,413.49 450.90,413.46 451.50,413.63 452.10,414.07 452.70,414.35 453.30,414.18 453.90,414.41 454.50,414.51 455.10,414.91 455.70,415.17 456.30,415.68 456.90,415.57 457.50,416.04 458.10,415.77 458.70,416.07 459.30,416.67 459.90,416.86 460.50,416.80 461.10,416.93 461.70,417.28 462.30,417.57 462.90,417.59 463.50,417.55 464.10,417.96 464.70,418.17 465.30,418.54 465.90,418.46 466.50,419.08 467.10,419.21 467.70,419.00 468.30,419.29 468.90,419.73 469.50,419.66 470.10,420.01 470.70,420.58 471.30,420.49 471.90,420.90 472.50,421.22 473.10,421.54 473.70,422.09 474.30,422.28 474.90,422.26 475.50,422.87 476.10,423.32 476.70,423.40 477.30,423.77 477.90,423.54 478.50,424.07 479.10,424.35 479.70,424.80 480.30,425.01 480.90,425.15 481.50,425.77 482.10,425.78 482.70,426.16 483.30,426.66 483.90,426.55 484.50,426.83 485.10,426.97 485.70,427.40 486.30,427.50 486.90,427.84 487.50,428.40 488.10,428.26" stroke="#ff0000" stroke-width="1.6" fill="none" stroke-linejoin="round" />
<line x1="297.90" y1="298.20" x2="297.90" y2="448.60" stroke="#000" stroke-width="1.6" />
<line x1="292.30" y1="441.80" x2="489.00" y2="441.80" stroke="#000" stroke-width="1.6" />
<line x1="292.30" y1="441.70" x2="297.90" y2="441.70" stroke="#000" stroke-width="1.5" />
<text x="290.80" y="444.90" font-size="8.75" text-anchor="end" fill="#111" font-weight="normal" font-style="normal" >0</text>
<line x1="292.30" y1="409.15" x2="297.90" y2="409.15" stroke="#000" stroke-width="1.5" />
<text x="290.80" y="412.35" font-size="8.75" text-anchor="end" fill="#111" font-weight="normal" font-style="normal" >50</text>
<line x1="292.30" y1="376.60" x2="297.90" y2="376.60" stroke="#000" stroke-width="1.5" />
<text x="290.80" y="379.80" font-size="8.75" text-anchor="end" fill="#111" font-weight="normal" font-style="normal" >100</text>
<line x1="292.30" y1="344.05" x2="297.90" y2="344.05" stroke="#000" stroke-width="1.5" />
<text x="290.80" y="347.25" font-size="8.75" text-anchor="end" fill="#111" font-weight="normal" font-style="normal" >150</text>
<line x1="292.30" y1="311.50" x2="297.90" y2="311.50" stroke="#000" stroke-width="1.5" />
<text x="290.80" y="314.70" font-size="8.75" text-anchor="end" fill="#111" font-weight="normal" font-style="normal" >200</text>
<line x1="297.90" y1="441.80" x2="297.90" y2="447.00" stroke="#000" stroke-width="1.5" />
<text x="297.90" y="459.40" font-size="8.75" text-anchor="middle" fill="#111" font-weight="normal" font-style="normal" >0</text>
<line x1="345.50" y1="441.80" x2="345.50" y2="447.00" stroke="#000" stroke-width="1.5" />
<text x="345.50" y="459.40" font-size="8.75" text-anchor="middle" fill="#111" font-weight="normal" font-style="normal" >50</text>
<line x1="393.10" y1="441.80" x2="393.10" y2="447.00" stroke="#000" stroke-width="1.5" />
<text x="393.10" y="459.40" font-size="8.75" text-anchor="middle" fill="#111" font-weight="normal" font-style="normal" >100</text>
<line x1="441.00" y1="441.80" x2="441.00" y2="447.00" stroke="#000" stroke-width="1.5" />
<text x="441.00" y="459.40" font-size="8.75" text-anchor="middle" fill="#111" font-weight="normal" font-style="normal" >150</text>
<line x1="488.60" y1="441.80" x2="488.60" y2="447.00" stroke="#000" stroke-width="1.5" />
<text x="488.60" y="459.40" font-size="8.75" text-anchor="middle" fill="#111" font-weight="normal" font-style="normal" >200</text>
<text x="397.50" y="469.60" font-size="10.6" text-anchor="middle" fill="#111" font-weight="normal" font-style="normal" >Time (s)</text>
<text transform="translate(271.00,373.20) rotate(-90)" font-size="10.55" text-anchor="middle" fill="#111">GCaMP5 (&#916;F/F<tspan font-size="70%" dy="1.5">o</tspan><tspan dy="-1.5">, %)</tspan></text>
<text x="499.70" y="259.00" font-size="20" text-anchor="start" fill="#000" font-weight="normal" font-style="normal" >f</text>
<line x1="577.60" y1="275.10" x2="614.30" y2="275.10" stroke="#111" stroke-width="1.6" />
<path d="M580.20,266.05 L580.20,271.55 M577.82,267.43 L582.58,270.18 M582.58,267.43 L577.82,270.18 " stroke="#0a0a0a" stroke-width="1.35" fill="none"/>
<path d="M586.90,266.05 L586.90,271.55 M584.52,267.43 L589.28,270.18 M589.28,267.43 L584.52,270.18 " stroke="#0a0a0a" stroke-width="1.35" fill="none"/>
<path d="M593.60,266.05 L593.60,271.55 M591.22,267.43 L595.98,270.18 M595.98,267.43 L591.22,270.18 " stroke="#0a0a0a" stroke-width="1.35" fill="none"/>
<text x="599.20" y="270.30" font-size="8.5" fill="#222" text-anchor="start"><tspan font-style="italic">p</tspan>&lt;0.001</text>
<line x1="614.30" y1="297.00" x2="647.50" y2="297.00" stroke="#111" stroke-width="1.6" />
<path d="M617.00,286.85 L617.00,292.35 M614.62,288.23 L619.38,290.98 M619.38,288.23 L614.62,290.98 " stroke="#0a0a0a" stroke-width="1.35" fill="none"/>
<path d="M622.80,286.85 L622.80,292.35 M620.42,288.23 L625.18,290.98 M625.18,288.23 L620.42,290.98 " stroke="#0a0a0a" stroke-width="1.35" fill="none"/>
<text x="628.10" y="291.80" font-size="8.5" fill="#222" text-anchor="start"><tspan font-style="italic">p</tspan>=0.0041</text>
<rect x="569.60" y="367.31" width="21.30" height="68.29" fill="#d4d4d4" stroke="#000" stroke-width="1.8" />
<circle cx="580.25" cy="428.03" r="1.9" fill="#fff" fill-opacity="0.6" stroke="#9a9a9a" stroke-width="0.8"/>
<circle cx="583.25" cy="425.97" r="1.9" fill="#fff" fill-opacity="0.6" stroke="#9a9a9a" stroke-width="0.8"/>
<circle cx="580.25" cy="423.44" r="1.9" fill="#fff" fill-opacity="0.6" stroke="#9a9a9a" stroke-width="0.8"/>
<circle cx="583.75" cy="422.43" r="1.9" fill="#fff" fill-opacity="0.6" stroke="#9a9a9a" stroke-width="0.8"/>
<circle cx="578.25" cy="420.49" r="1.9" fill="#fff" fill-opacity="0.6" stroke="#9a9a9a" stroke-width="0.8"/>
<circle cx="581.25" cy="418.48" r="1.9" fill="#fff" fill-opacity="0.6" stroke="#9a9a9a" stroke-width="0.8"/>
<circle cx="576.75" cy="417.37" r="1.9" fill="#fff" fill-opacity="0.6" stroke="#9a9a9a" stroke-width="0.8"/>
<circle cx="580.25" cy="414.91" r="1.9" fill="#fff" fill-opacity="0.6" stroke="#9a9a9a" stroke-width="0.8"/>
<circle cx="583.25" cy="412.83" r="1.9" fill="#fff" fill-opacity="0.6" stroke="#9a9a9a" stroke-width="0.8"/>
<circle cx="580.25" cy="410.67" r="1.9" fill="#fff" fill-opacity="0.6" stroke="#9a9a9a" stroke-width="0.8"/>
<circle cx="576.75" cy="410.11" r="1.9" fill="#fff" fill-opacity="0.6" stroke="#9a9a9a" stroke-width="0.8"/>
<circle cx="582.25" cy="407.86" r="1.9" fill="#fff" fill-opacity="0.6" stroke="#9a9a9a" stroke-width="0.8"/>
<circle cx="578.75" cy="406.39" r="1.9" fill="#fff" fill-opacity="0.6" stroke="#9a9a9a" stroke-width="0.8"/>
<circle cx="580.25" cy="403.20" r="1.9" fill="#fff" fill-opacity="0.6" stroke="#9a9a9a" stroke-width="0.8"/>
<circle cx="583.25" cy="401.56" r="1.9" fill="#fff" fill-opacity="0.6" stroke="#9a9a9a" stroke-width="0.8"/>
<circle cx="577.25" cy="400.91" r="1.9" fill="#fff" fill-opacity="0.6" stroke="#9a9a9a" stroke-width="0.8"/>
<circle cx="580.25" cy="397.30" r="1.9" fill="#fff" fill-opacity="0.6" stroke="#9a9a9a" stroke-width="0.8"/>
<circle cx="583.25" cy="395.47" r="1.9" fill="#fff" fill-opacity="0.6" stroke="#9a9a9a" stroke-width="0.8"/>
<circle cx="578.75" cy="394.19" r="1.9" fill="#fff" fill-opacity="0.6" stroke="#9a9a9a" stroke-width="0.8"/>
<circle cx="575.75" cy="392.41" r="1.9" fill="#fff" fill-opacity="0.6" stroke="#9a9a9a" stroke-width="0.8"/>
<circle cx="580.75" cy="391.40" r="1.9" fill="#fff" fill-opacity="0.6" stroke="#9a9a9a" stroke-width="0.8"/>
<circle cx="584.25" cy="389.80" r="1.9" fill="#fff" fill-opacity="0.6" stroke="#9a9a9a" stroke-width="0.8"/>
<circle cx="580.25" cy="386.99" r="1.9" fill="#fff" fill-opacity="0.6" stroke="#9a9a9a" stroke-width="0.8"/>
<circle cx="583.75" cy="386.00" r="1.9" fill="#fff" fill-opacity="0.6" stroke="#9a9a9a" stroke-width="0.8"/>
<circle cx="578.75" cy="383.90" r="1.9" fill="#fff" fill-opacity="0.6" stroke="#9a9a9a" stroke-width="0.8"/>
<circle cx="581.75" cy="381.95" r="1.9" fill="#fff" fill-opacity="0.6" stroke="#9a9a9a" stroke-width="0.8"/>
<circle cx="578.25" cy="380.48" r="1.9" fill="#fff" fill-opacity="0.6" stroke="#9a9a9a" stroke-width="0.8"/>
<circle cx="580.75" cy="377.82" r="1.9" fill="#fff" fill-opacity="0.6" stroke="#9a9a9a" stroke-width="0.8"/>
<circle cx="577.75" cy="376.00" r="1.9" fill="#fff" fill-opacity="0.6" stroke="#9a9a9a" stroke-width="0.8"/>
<circle cx="580.25" cy="373.39" r="1.9" fill="#fff" fill-opacity="0.6" stroke="#9a9a9a" stroke-width="0.8"/>
<circle cx="583.75" cy="372.14" r="1.9" fill="#fff" fill-opacity="0.6" stroke="#9a9a9a" stroke-width="0.8"/>
<circle cx="579.25" cy="370.05" r="1.9" fill="#fff" fill-opacity="0.6" stroke="#9a9a9a" stroke-width="0.8"/>
<circle cx="582.75" cy="368.45" r="1.9" fill="#fff" fill-opacity="0.6" stroke="#9a9a9a" stroke-width="0.8"/>
<circle cx="579.75" cy="366.29" r="1.9" fill="#fff" fill-opacity="0.6" stroke="#9a9a9a" stroke-width="0.8"/>
<circle cx="583.25" cy="364.81" r="1.9" fill="#fff" fill-opacity="0.6" stroke="#9a9a9a" stroke-width="0.8"/>
<circle cx="577.75" cy="363.29" r="1.9" fill="#fff" fill-opacity="0.6" stroke="#9a9a9a" stroke-width="0.8"/>
<circle cx="580.25" cy="360.09" r="1.9" fill="#fff" fill-opacity="0.6" stroke="#9a9a9a" stroke-width="0.8"/>
<circle cx="583.25" cy="358.24" r="1.9" fill="#fff" fill-opacity="0.6" stroke="#9a9a9a" stroke-width="0.8"/>
<circle cx="580.25" cy="355.71" r="1.9" fill="#fff" fill-opacity="0.6" stroke="#9a9a9a" stroke-width="0.8"/>
<circle cx="582.75" cy="353.01" r="1.9" fill="#fff" fill-opacity="0.6" stroke="#9a9a9a" stroke-width="0.8"/>
<circle cx="577.75" cy="353.01" r="1.9" fill="#fff" fill-opacity="0.6" stroke="#9a9a9a" stroke-width="0.8"/>
<circle cx="586.25" cy="353.01" r="1.9" fill="#fff" fill-opacity="0.6" stroke="#9a9a9a" stroke-width="0.8"/>
<circle cx="574.25" cy="353.01" r="1.9" fill="#fff" fill-opacity="0.6" stroke="#9a9a9a" stroke-width="0.8"/>
<circle cx="580.25" cy="347.46" r="1.9" fill="#fff" fill-opacity="0.6" stroke="#9a9a9a" stroke-width="0.8"/>
<circle cx="580.25" cy="342.08" r="1.9" fill="#fff" fill-opacity="0.6" stroke="#9a9a9a" stroke-width="0.8"/>
<circle cx="580.25" cy="337.81" r="1.9" fill="#fff" fill-opacity="0.6" stroke="#9a9a9a" stroke-width="0.8"/>
<circle cx="583.75" cy="337.81" r="1.9" fill="#fff" fill-opacity="0.6" stroke="#9a9a9a" stroke-width="0.8"/>
<circle cx="580.25" cy="333.67" r="1.9" fill="#fff" fill-opacity="0.6" stroke="#9a9a9a" stroke-width="0.8"/>
<circle cx="583.75" cy="333.67" r="1.9" fill="#fff" fill-opacity="0.6" stroke="#9a9a9a" stroke-width="0.8"/>
<circle cx="580.25" cy="328.12" r="1.9" fill="#fff" fill-opacity="0.6" stroke="#9a9a9a" stroke-width="0.8"/>
<circle cx="582.75" cy="325.40" r="1.9" fill="#fff" fill-opacity="0.6" stroke="#9a9a9a" stroke-width="0.8"/>
<circle cx="577.75" cy="325.40" r="1.9" fill="#fff" fill-opacity="0.6" stroke="#9a9a9a" stroke-width="0.8"/>
<circle cx="586.25" cy="325.40" r="1.9" fill="#fff" fill-opacity="0.6" stroke="#9a9a9a" stroke-width="0.8"/>
<circle cx="580.25" cy="315.84" r="1.9" fill="#fff" fill-opacity="0.6" stroke="#9a9a9a" stroke-width="0.8"/>
<circle cx="582.75" cy="313.15" r="1.9" fill="#fff" fill-opacity="0.6" stroke="#9a9a9a" stroke-width="0.8"/>
<circle cx="577.75" cy="313.15" r="1.9" fill="#fff" fill-opacity="0.6" stroke="#9a9a9a" stroke-width="0.8"/>
<circle cx="580.25" cy="304.74" r="1.9" fill="#fff" fill-opacity="0.6" stroke="#9a9a9a" stroke-width="0.8"/>
<circle cx="580.25" cy="294.98" r="1.9" fill="#fff" fill-opacity="0.6" stroke="#9a9a9a" stroke-width="0.8"/>
<circle cx="582.75" cy="292.29" r="1.9" fill="#fff" fill-opacity="0.6" stroke="#9a9a9a" stroke-width="0.8"/>
<circle cx="580.25" cy="289.60" r="1.9" fill="#fff" fill-opacity="0.6" stroke="#9a9a9a" stroke-width="0.8"/>
<circle cx="580.25" cy="282.54" r="1.9" fill="#fff" fill-opacity="0.6" stroke="#9a9a9a" stroke-width="0.8"/>
<line x1="580.25" y1="361.80" x2="580.25" y2="373.00" stroke="#000" stroke-width="1.4" />
<line x1="575.75" y1="361.80" x2="584.75" y2="361.80" stroke="#000" stroke-width="1.5" />
<line x1="575.75" y1="373.00" x2="584.75" y2="373.00" stroke="#000" stroke-width="1.5" />
<text x="580.25" y="431.80" font-size="8.3" text-anchor="middle" fill="#2d4fa8" font-weight="normal" font-style="normal" >61</text>
<rect x="602.70" y="389.35" width="21.30" height="46.25" fill="#c4c4f8" stroke="#0000ff" stroke-width="1.8" />
<circle cx="615.30" cy="433.92" r="1.9" fill="#fff" fill-opacity="0.6" stroke="#9a9a9a" stroke-width="0.8"/>
<circle cx="608.77" cy="432.24" r="1.9" fill="#fff" fill-opacity="0.6" stroke="#9a9a9a" stroke-width="0.8"/>
<circle cx="616.30" cy="430.55" r="1.9" fill="#fff" fill-opacity="0.6" stroke="#9a9a9a" stroke-width="0.8"/>
<circle cx="613.27" cy="428.87" r="1.9" fill="#fff" fill-opacity="0.6" stroke="#9a9a9a" stroke-width="0.8"/>
<circle cx="609.51" cy="427.19" r="1.9" fill="#fff" fill-opacity="0.6" stroke="#9a9a9a" stroke-width="0.8"/>
<circle cx="615.69" cy="425.51" r="1.9" fill="#fff" fill-opacity="0.6" stroke="#9a9a9a" stroke-width="0.8"/>
<circle cx="605.93" cy="423.83" r="1.9" fill="#fff" fill-opacity="0.6" stroke="#9a9a9a" stroke-width="0.8"/>
<circle cx="617.11" cy="422.14" r="1.9" fill="#fff" fill-opacity="0.6" stroke="#9a9a9a" stroke-width="0.8"/>
<circle cx="607.45" cy="420.46" r="1.9" fill="#fff" fill-opacity="0.6" stroke="#9a9a9a" stroke-width="0.8"/>
<circle cx="612.23" cy="418.78" r="1.9" fill="#fff" fill-opacity="0.6" stroke="#9a9a9a" stroke-width="0.8"/>
<circle cx="608.49" cy="417.10" r="1.9" fill="#fff" fill-opacity="0.6" stroke="#9a9a9a" stroke-width="0.8"/>
<circle cx="620.22" cy="415.42" r="1.9" fill="#fff" fill-opacity="0.6" stroke="#9a9a9a" stroke-width="0.8"/>
<circle cx="613.62" cy="412.05" r="1.9" fill="#fff" fill-opacity="0.6" stroke="#9a9a9a" stroke-width="0.8"/>
<circle cx="606.60" cy="410.37" r="1.9" fill="#fff" fill-opacity="0.6" stroke="#9a9a9a" stroke-width="0.8"/>
<circle cx="609.59" cy="408.69" r="1.9" fill="#fff" fill-opacity="0.6" stroke="#9a9a9a" stroke-width="0.8"/>
<circle cx="618.58" cy="405.32" r="1.9" fill="#fff" fill-opacity="0.6" stroke="#9a9a9a" stroke-width="0.8"/>
<circle cx="612.70" cy="403.64" r="1.9" fill="#fff" fill-opacity="0.6" stroke="#9a9a9a" stroke-width="0.8"/>
<circle cx="617.87" cy="401.96" r="1.9" fill="#fff" fill-opacity="0.6" stroke="#9a9a9a" stroke-width="0.8"/>
<circle cx="615.86" cy="398.60" r="1.9" fill="#fff" fill-opacity="0.6" stroke="#9a9a9a" stroke-width="0.8"/>
<circle cx="620.67" cy="396.91" r="1.9" fill="#fff" fill-opacity="0.6" stroke="#9a9a9a" stroke-width="0.8"/>
<circle cx="614.78" cy="395.23" r="1.9" fill="#fff" fill-opacity="0.6" stroke="#9a9a9a" stroke-width="0.8"/>
<circle cx="619.22" cy="393.55" r="1.9" fill="#fff" fill-opacity="0.6" stroke="#9a9a9a" stroke-width="0.8"/>
<circle cx="613.42" cy="391.87" r="1.9" fill="#fff" fill-opacity="0.6" stroke="#9a9a9a" stroke-width="0.8"/>
<circle cx="618.31" cy="390.19" r="1.9" fill="#fff" fill-opacity="0.6" stroke="#9a9a9a" stroke-width="0.8"/>
<circle cx="614.07" cy="388.50" r="1.9" fill="#fff" fill-opacity="0.6" stroke="#9a9a9a" stroke-width="0.8"/>
<circle cx="619.31" cy="382.11" r="1.9" fill="#fff" fill-opacity="0.6" stroke="#9a9a9a" stroke-width="0.8"/>
<circle cx="617.00" cy="373.70" r="1.9" fill="#fff" fill-opacity="0.6" stroke="#9a9a9a" stroke-width="0.8"/>
<circle cx="612.97" cy="368.32" r="1.9" fill="#fff" fill-opacity="0.6" stroke="#9a9a9a" stroke-width="0.8"/>
<circle cx="617.34" cy="368.32" r="1.9" fill="#fff" fill-opacity="0.6" stroke="#9a9a9a" stroke-width="0.8"/>
<circle cx="613.67" cy="361.26" r="1.9" fill="#fff" fill-opacity="0.6" stroke="#9a9a9a" stroke-width="0.8"/>
<circle cx="615.25" cy="357.22" r="1.9" fill="#fff" fill-opacity="0.6" stroke="#9a9a9a" stroke-width="0.8"/>
<circle cx="609.97" cy="353.01" r="1.9" fill="#fff" fill-opacity="0.6" stroke="#9a9a9a" stroke-width="0.8"/>
<circle cx="607.01" cy="346.12" r="1.9" fill="#fff" fill-opacity="0.6" stroke="#9a9a9a" stroke-width="0.8"/>
<circle cx="610.14" cy="343.43" r="1.9" fill="#fff" fill-opacity="0.6" stroke="#9a9a9a" stroke-width="0.8"/>
<circle cx="609.93" cy="339.22" r="1.9" fill="#fff" fill-opacity="0.6" stroke="#9a9a9a" stroke-width="0.8"/>
<circle cx="613.95" cy="336.36" r="1.9" fill="#fff" fill-opacity="0.6" stroke="#9a9a9a" stroke-width="0.8"/>
<circle cx="607.93" cy="336.36" r="1.9" fill="#fff" fill-opacity="0.6" stroke="#9a9a9a" stroke-width="0.8"/>
<circle cx="609.32" cy="317.19" r="1.9" fill="#fff" fill-opacity="0.6" stroke="#9a9a9a" stroke-width="0.8"/>
<line x1="613.35" y1="382.80" x2="613.35" y2="396.00" stroke="#0000ff" stroke-width="1.4" />
<line x1="608.85" y1="382.80" x2="617.85" y2="382.80" stroke="#0000ff" stroke-width="1.5" />
<line x1="608.85" y1="396.00" x2="617.85" y2="396.00" stroke="#0000ff" stroke-width="1.5" />
<text x="613.35" y="431.80" font-size="8.3" text-anchor="middle" fill="#2d4fa8" font-weight="normal" font-style="normal" >38</text>
<rect x="636.40" y="363.61" width="21.60" height="71.99" fill="#fde0e0" stroke="#ff0000" stroke-width="1.8" />
<circle cx="650.11" cy="415.08" r="1.9" fill="#fff" fill-opacity="0.6" stroke="#9a9a9a" stroke-width="0.8"/>
<circle cx="650.30" cy="403.98" r="1.9" fill="#fff" fill-opacity="0.6" stroke="#9a9a9a" stroke-width="0.8"/>
<circle cx="640.66" cy="403.98" r="1.9" fill="#fff" fill-opacity="0.6" stroke="#9a9a9a" stroke-width="0.8"/>
<circle cx="645.81" cy="398.60" r="1.9" fill="#fff" fill-opacity="0.6" stroke="#9a9a9a" stroke-width="0.8"/>
<circle cx="653.27" cy="398.60" r="1.9" fill="#fff" fill-opacity="0.6" stroke="#9a9a9a" stroke-width="0.8"/>
<circle cx="639.79" cy="398.60" r="1.9" fill="#fff" fill-opacity="0.6" stroke="#9a9a9a" stroke-width="0.8"/>
<circle cx="644.98" cy="386.49" r="1.9" fill="#fff" fill-opacity="0.6" stroke="#9a9a9a" stroke-width="0.8"/>
<circle cx="651.00" cy="380.90" r="1.9" fill="#fff" fill-opacity="0.6" stroke="#9a9a9a" stroke-width="0.8"/>
<circle cx="652.50" cy="376.39" r="1.9" fill="#fff" fill-opacity="0.6" stroke="#9a9a9a" stroke-width="0.8"/>
<circle cx="654.00" cy="372.36" r="1.9" fill="#fff" fill-opacity="0.6" stroke="#9a9a9a" stroke-width="0.8"/>
<circle cx="645.99" cy="366.81" r="1.9" fill="#fff" fill-opacity="0.6" stroke="#9a9a9a" stroke-width="0.8"/>
<circle cx="650.91" cy="358.56" r="1.9" fill="#fff" fill-opacity="0.6" stroke="#9a9a9a" stroke-width="0.8"/>
<circle cx="643.01" cy="358.23" r="1.9" fill="#fff" fill-opacity="0.6" stroke="#9a9a9a" stroke-width="0.8"/>
<circle cx="642.99" cy="348.81" r="1.9" fill="#fff" fill-opacity="0.6" stroke="#9a9a9a" stroke-width="0.8"/>
<circle cx="646.24" cy="336.36" r="1.9" fill="#fff" fill-opacity="0.6" stroke="#9a9a9a" stroke-width="0.8"/>
<circle cx="640.14" cy="334.51" r="1.9" fill="#fff" fill-opacity="0.6" stroke="#9a9a9a" stroke-width="0.8"/>
<circle cx="649.89" cy="334.51" r="1.9" fill="#fff" fill-opacity="0.6" stroke="#9a9a9a" stroke-width="0.8"/>
<circle cx="645.76" cy="323.92" r="1.9" fill="#fff" fill-opacity="0.6" stroke="#9a9a9a" stroke-width="0.8"/>
<circle cx="642.18" cy="323.92" r="1.9" fill="#fff" fill-opacity="0.6" stroke="#9a9a9a" stroke-width="0.8"/>
<circle cx="646.71" cy="317.86" r="1.9" fill="#fff" fill-opacity="0.6" stroke="#9a9a9a" stroke-width="0.8"/>
<circle cx="641.61" cy="313.49" r="1.9" fill="#fff" fill-opacity="0.6" stroke="#9a9a9a" stroke-width="0.8"/>
<circle cx="649.03" cy="313.49" r="1.9" fill="#fff" fill-opacity="0.6" stroke="#9a9a9a" stroke-width="0.8"/>
<circle cx="640.10" cy="307.43" r="1.9" fill="#fff" fill-opacity="0.6" stroke="#9a9a9a" stroke-width="0.8"/>
<line x1="647.20" y1="355.70" x2="647.20" y2="369.00" stroke="#ff0000" stroke-width="1.4" />
<line x1="642.70" y1="355.70" x2="651.70" y2="355.70" stroke="#ff0000" stroke-width="1.5" />
<line x1="642.70" y1="369.00" x2="651.70" y2="369.00" stroke="#ff0000" stroke-width="1.5" />
<text x="647.20" y="431.80" font-size="8.3" text-anchor="middle" fill="#2d4fa8" font-weight="normal" font-style="normal" >23</text>
<line x1="557.70" y1="267.20" x2="557.70" y2="436.00" stroke="#000" stroke-width="1.6" />
<line x1="551.00" y1="435.40" x2="670.00" y2="435.40" stroke="#000" stroke-width="1.7" />
<line x1="550.20" y1="435.60" x2="557.70" y2="435.60" stroke="#000" stroke-width="1.5" />
<text x="548.40" y="439.00" font-size="9.3" text-anchor="end" fill="#111" font-weight="normal" font-style="normal" >0</text>
<line x1="550.20" y1="401.96" x2="557.70" y2="401.96" stroke="#000" stroke-width="1.5" />
<text x="548.40" y="405.36" font-size="9.3" text-anchor="end" fill="#111" font-weight="normal" font-style="normal" >100</text>
<line x1="550.20" y1="368.32" x2="557.70" y2="368.32" stroke="#000" stroke-width="1.5" />
<text x="548.40" y="371.72" font-size="9.3" text-anchor="end" fill="#111" font-weight="normal" font-style="normal" >200</text>
<line x1="550.20" y1="334.68" x2="557.70" y2="334.68" stroke="#000" stroke-width="1.5" />
<text x="548.40" y="338.08" font-size="9.3" text-anchor="end" fill="#111" font-weight="normal" font-style="normal" >300</text>
<line x1="550.20" y1="301.04" x2="557.70" y2="301.04" stroke="#000" stroke-width="1.5" />
<text x="548.40" y="304.44" font-size="9.3" text-anchor="end" fill="#111" font-weight="normal" font-style="normal" >400</text>
<line x1="550.20" y1="267.40" x2="557.70" y2="267.40" stroke="#000" stroke-width="1.5" />
<text x="548.40" y="270.80" font-size="9.3" text-anchor="end" fill="#111" font-weight="normal" font-style="normal" >500</text>
<text transform="translate(525.30,347.50) rotate(-90)" font-size="10.45" text-anchor="middle" fill="#111">Maximum GCaMP5 (&#916;F/F<tspan font-size="70%" dy="1.5">o</tspan><tspan dy="-1.5">, %)</tspan></text>
<text transform="translate(584.20,441.90) rotate(-45)" font-size="8.2" text-anchor="end" fill="#111" font-style="normal">WT</text>
<text transform="translate(618.40,440.50) rotate(-45)" font-size="8.2" text-anchor="end" fill="#111" font-style="italic">exp-1</text>
<text transform="translate(649.40,440.60) rotate(-45)" font-size="8.2" text-anchor="end" fill="#111" font-style="italic">exp-1;</text>
<text transform="translate(662.30,440.00) rotate(-45)" font-size="8.2" text-anchor="end" fill="#111" font-style="italic">Pgcy-8::exp-1</text>
<text x="-0.60" y="521.50" font-size="20" text-anchor="start" fill="#000" font-weight="normal" font-style="normal" >g</text>
<rect x="24.60" y="522.80" width="201.20" height="166.00" fill="#010d01" stroke="none" stroke-width="1.5" />
<rect x="24.60" y="522.80" width="201.20" height="166.00" fill="url(#noiseG)" stroke="none" stroke-width="1.5" opacity="0.45"/>
<g clip-path="url(#cl1)">
<ellipse cx="206.6" cy="560.8" rx="20" ry="30" fill="#0a3a0a" opacity="0.35" transform="rotate(-35 206.6 560.8)" filter="url(#bl60)"/>
<path d="M93.6,655.4 C94.7,655.0 97.6,654.8 100.1,652.9 C102.6,651.0 105.7,647.2 108.6,644.3 C111.5,641.4 114.8,638.2 117.3,635.4 C119.8,632.6 121.5,629.8 123.6,627.3 C125.7,624.8 127.7,622.6 130.2,620.3 C132.7,618.0 135.5,615.5 138.6,613.3 C141.7,611.1 146.9,608.0 148.6,606.9" fill="none" stroke="#127012" stroke-width="1.25" stroke-linecap="round" stroke-linejoin="round" opacity="1.0" filter="url(#bl6)"/>
<path d="M138.6,613.3 C140.3,612.2 145.4,609.0 148.6,606.9 C151.8,604.8 154.5,602.8 157.6,600.8 C160.7,598.8 163.8,596.8 166.9,594.6 C170.0,592.4 173.0,590.1 176.1,587.8 C179.2,585.5 182.5,583.0 185.3,580.8 C188.1,578.6 191.7,575.7 193.0,574.7" fill="none" stroke="#0a3c0a" stroke-width="1.2" stroke-linecap="round" stroke-linejoin="round" opacity="1.0" filter="url(#bl6)"/>
<path d="M225.6,523.3 C225.4,523.5 226.5,523.1 224.4,524.7 C222.3,526.3 216.5,530.5 212.8,533.1 C209.1,535.6 205.2,537.7 202.2,540.0 C199.2,542.3 196.6,544.7 194.7,547.0 C192.8,549.3 191.2,552.7 190.5,553.8" fill="none" stroke="#18a018" stroke-width="1.5" stroke-linecap="round" stroke-linejoin="round" opacity="1.0" filter="url(#bl7)"/>
<path d="M182.5,565.0 C184.2,565.1 189.2,565.2 192.6,565.6 C196.0,566.0 201.4,567.3 203.2,567.6" fill="none" stroke="#0b4a0b" stroke-width="0.9" stroke-linecap="round" stroke-linejoin="round" opacity="1.0" filter="url(#bl6)"/>
<path d="M224.1,525.8 C224.2,535.3 224.3,573.3 224.4,582.8" fill="none" stroke="#0a380a" stroke-width="1.0" stroke-linecap="round" stroke-linejoin="round" opacity="1.0" filter="url(#bl6)"/>
<path d="M191.1,552.8 C190.3,554.0 187.6,558.2 186.2,560.2 C184.8,562.1 183.1,563.8 182.5,564.5" fill="none" stroke="#2aee2a" stroke-width="3.4" stroke-linecap="round" stroke-linejoin="round" opacity="1.0" filter="url(#bl8)"/>
<ellipse cx="212.8" cy="533.1" rx="3.0" ry="2.0" fill="#2aee2a" opacity="1.0" transform="rotate(-35 212.8 533.1)" filter="url(#bl8)"/>
<ellipse cx="182.5" cy="565.0" rx="3.1" ry="2.9" fill="#33ff33" opacity="1.0" transform="rotate(0 182.5 565.0)" filter="url(#bl8)"/>
<ellipse cx="203.2" cy="567.6" rx="3.6" ry="3.0" fill="#33ff33" opacity="1.0" transform="rotate(0 203.2 567.6)" filter="url(#bl8)"/>
<ellipse cx="217.0" cy="569.2" rx="3.1" ry="2.1" fill="#2af02a" opacity="1.0" transform="rotate(0 217.0 569.2)" filter="url(#bl8)"/>
<ellipse cx="193.1" cy="573.5" rx="3.0" ry="3.0" fill="#2af02a" opacity="1.0" transform="rotate(0 193.1 573.5)" filter="url(#bl8)"/>
<ellipse cx="205.3" cy="552.3" rx="2.2" ry="2.2" fill="#128a12" opacity="1.0" transform="rotate(0 205.3 552.3)" filter="url(#bl8)"/>
<path d="M193.8,583.8 L219.4,579.4 L219.4,580.4 L193.8,588.4 Z" fill="#33ff33" stroke="#33ff33" stroke-width="1.0" stroke-linejoin="round" filter="url(#bl8)"/>
</g>
<line x1="101.1" y1="625.9" x2="111.1" y2="632.5" stroke="#e8141e" stroke-width="1.1"/>
<path d="M117.0,636.3 L109.4,635.1 L112.9,629.8 Z" fill="#e8141e"/>
<line x1="32.30" y1="683.50" x2="78.20" y2="683.50" stroke="#fff" stroke-width="1.8" />
<text x="27.40" y="543.40" font-size="17.9" text-anchor="start" fill="#fff" font-weight="normal" font-style="italic" >Pexp-1::gfp</text>
<rect x="254.80" y="522.80" width="201.20" height="166.00" fill="#000" stroke="none" stroke-width="1.5" />
<g clip-path="url(#cl2)">
<path d="M330.3,652.9 C331.7,651.5 335.9,647.2 338.8,644.3 C341.7,641.4 345.0,638.2 347.5,635.4 C350.0,632.6 351.7,629.8 353.8,627.3 C355.9,624.8 357.9,622.6 360.4,620.3 C362.9,618.0 365.7,615.5 368.8,613.3 C371.9,611.1 375.6,609.0 378.8,606.9 C382.0,604.8 384.8,602.8 387.8,600.8 C390.9,598.8 394.0,596.8 397.1,594.6 C400.2,592.4 403.2,590.1 406.3,587.8 C409.4,585.5 412.7,583.0 415.5,580.8 C418.3,578.6 421.9,575.7 423.2,574.7" fill="none" stroke="#a010a0" stroke-width="1.0" stroke-linecap="round" stroke-linejoin="round" opacity="0.95" filter="url(#bl5)"/>
<path d="M406.4,557.7 C406.3,558.5 405.9,561.1 406.0,562.8 C406.1,564.5 405.9,565.8 406.8,567.8 C407.7,569.8 409.6,573.1 411.6,574.8 C413.6,576.5 417.8,577.5 419.0,578.0" fill="none" stroke="#8a148a" stroke-width="0.9" stroke-linecap="round" stroke-linejoin="round" opacity="0.9" filter="url(#bl5)"/>
<path d="M415.6,563.4 C416.0,564.0 416.9,565.6 417.8,566.8 C418.7,568.0 420.3,570.1 420.8,570.8" fill="none" stroke="#8a148a" stroke-width="0.9" stroke-linecap="round" stroke-linejoin="round" opacity="0.9" filter="url(#bl5)"/>
<path d="M420.4,582.7 C421.5,582.8 424.3,583.4 426.8,583.3 C429.3,583.1 433.9,582.0 435.3,581.8" fill="none" stroke="#7a127a" stroke-width="1.0" stroke-linecap="round" stroke-linejoin="round" opacity="1.0" filter="url(#bl5)"/>
<ellipse cx="432.7" cy="567.3" rx="2.6" ry="2.1" fill="#701070" opacity="1.0" transform="rotate(0 432.7 567.3)" filter="url(#bl8)"/>
<ellipse cx="426.1" cy="584.4" rx="2.2" ry="1.3" fill="#ff22ff" opacity="1.0" transform="rotate(0 426.1 584.4)" filter="url(#bl5)"/>
<ellipse cx="422.6" cy="573.9" rx="6.5" ry="6.5" fill="#ff00ff" opacity="0.35" transform="rotate(0 422.6 573.9)" filter="url(#bl10)"/>
<ellipse cx="422.6" cy="573.9" rx="4.2" ry="4.5" fill="#ff10ff" opacity="1.0" transform="rotate(0 422.6 573.9)" filter="url(#bl7)"/>
</g>
<line x1="331.7" y1="626.2" x2="341.8" y2="632.1" stroke="#e8141e" stroke-width="1.1"/>
<path d="M347.8,635.6 L340.1,634.8 L343.4,629.3 Z" fill="#e8141e"/>
<text x="368.70" y="586.30" font-size="9.3" text-anchor="start" fill="#eee" font-weight="normal" font-style="normal" >Soma</text>
<text x="292.30" y="624.10" font-size="9.1" text-anchor="start" fill="#eee" font-weight="normal" font-style="normal" >Dendrite</text>
<line x1="262.30" y1="683.50" x2="308.20" y2="683.50" stroke="#fff" stroke-width="1.8" />
<text x="261.00" y="543.00" font-size="17.9" text-anchor="start" fill="#fff" font-weight="normal" font-style="italic" >Pgcy-8::mCherry</text>
<rect x="484.00" y="522.80" width="201.00" height="166.00" fill="#010d01" stroke="none" stroke-width="1.5" />
<rect x="484.00" y="522.80" width="201.00" height="166.00" fill="url(#noiseG)" stroke="none" stroke-width="1.5" opacity="0.45"/>
<g clip-path="url(#cl3)">
<ellipse cx="666.0" cy="560.8" rx="20" ry="30" fill="#0a3a0a" opacity="0.35" transform="rotate(-35 666.0 560.8)" filter="url(#bl60)"/>
<path d="M553.0,655.4 C554.1,655.0 557.0,654.8 559.5,652.9 C562.0,651.0 565.1,647.2 568.0,644.3 C570.9,641.4 574.2,638.2 576.7,635.4 C579.2,632.6 580.9,629.8 583.0,627.3 C585.1,624.8 587.1,622.6 589.6,620.3 C592.1,618.0 594.9,615.5 598.0,613.3 C601.1,611.1 606.3,608.0 608.0,606.9" fill="none" stroke="#127012" stroke-width="1.25" stroke-linecap="round" stroke-linejoin="round" opacity="1.0" filter="url(#bl6)"/>
<path d="M598.0,613.3 C599.7,612.2 604.8,609.0 608.0,606.9 C611.2,604.8 614.0,602.8 617.0,600.8 C620.0,598.8 623.2,596.8 626.3,594.6 C629.4,592.4 632.4,590.1 635.5,587.8 C638.6,585.5 641.9,583.0 644.7,580.8 C647.5,578.6 651.1,575.7 652.4,574.7" fill="none" stroke="#0a3c0a" stroke-width="1.2" stroke-linecap="round" stroke-linejoin="round" opacity="1.0" filter="url(#bl6)"/>
<path d="M685.0,523.3 C684.8,523.5 685.9,523.1 683.8,524.7 C681.7,526.3 675.9,530.5 672.2,533.1 C668.5,535.6 664.6,537.7 661.6,540.0 C658.6,542.3 656.1,544.7 654.1,547.0 C652.1,549.3 650.6,552.7 649.9,553.8" fill="none" stroke="#18a018" stroke-width="1.5" stroke-linecap="round" stroke-linejoin="round" opacity="1.0" filter="url(#bl7)"/>
<path d="M641.9,565.0 C643.6,565.1 648.5,565.2 652.0,565.6 C655.5,566.0 660.8,567.3 662.6,567.6" fill="none" stroke="#0b4a0b" stroke-width="0.9" stroke-linecap="round" stroke-linejoin="round" opacity="1.0" filter="url(#bl6)"/>
<path d="M683.5,525.8 C683.5,535.3 683.8,573.3 683.8,582.8" fill="none" stroke="#0a380a" stroke-width="1.0" stroke-linecap="round" stroke-linejoin="round" opacity="1.0" filter="url(#bl6)"/>
<path d="M650.5,552.8 C649.7,554.0 647.0,558.2 645.6,560.2 C644.2,562.1 642.5,563.8 641.9,564.5" fill="none" stroke="#2aee2a" stroke-width="3.4" stroke-linecap="round" stroke-linejoin="round" opacity="1.0" filter="url(#bl8)"/>
<ellipse cx="672.2" cy="533.1" rx="3.0" ry="2.0" fill="#2aee2a" opacity="1.0" transform="rotate(-35 672.2 533.1)" filter="url(#bl8)"/>
<ellipse cx="641.9" cy="565.0" rx="3.1" ry="2.9" fill="#33ff33" opacity="1.0" transform="rotate(0 641.9 565.0)" filter="url(#bl8)"/>
<ellipse cx="662.6" cy="567.6" rx="3.6" ry="3.0" fill="#33ff33" opacity="1.0" transform="rotate(0 662.6 567.6)" filter="url(#bl8)"/>
<ellipse cx="676.4" cy="569.2" rx="3.1" ry="2.1" fill="#2af02a" opacity="1.0" transform="rotate(0 676.4 569.2)" filter="url(#bl8)"/>
<ellipse cx="652.5" cy="573.5" rx="3.0" ry="3.0" fill="#2af02a" opacity="1.0" transform="rotate(0 652.5 573.5)" filter="url(#bl8)"/>
<ellipse cx="664.7" cy="552.3" rx="2.2" ry="2.2" fill="#128a12" opacity="1.0" transform="rotate(0 664.7 552.3)" filter="url(#bl8)"/>
<path d="M653.2,583.8 L678.8,579.4 L678.8,580.4 L653.2,588.4 Z" fill="#33ff33" stroke="#33ff33" stroke-width="1.0" stroke-linejoin="round" filter="url(#bl8)"/>
<path d="M559.5,652.9 C560.9,651.5 565.1,647.2 568.0,644.3 C570.9,641.4 574.2,638.2 576.7,635.4 C579.2,632.6 580.9,629.8 583.0,627.3 C585.1,624.8 587.1,622.6 589.6,620.3 C592.1,618.0 594.9,615.5 598.0,613.3 C601.1,611.1 604.8,609.0 608.0,606.9 C611.2,604.8 614.0,602.8 617.0,600.8 C620.0,598.8 623.2,596.8 626.3,594.6 C629.4,592.4 632.4,590.1 635.5,587.8 C638.6,585.5 641.9,583.0 644.7,580.8 C647.5,578.6 651.1,575.7 652.4,574.7" fill="none" stroke="#a04cb4" stroke-width="1.0" stroke-linecap="round" stroke-linejoin="round" opacity="0.95" filter="url(#bl5)"/>
<path d="M635.6,557.7 C635.5,558.5 635.1,561.1 635.2,562.8 C635.3,564.5 635.1,565.8 636.0,567.8 C636.9,569.8 638.8,573.1 640.8,574.8 C642.8,576.5 647.0,577.5 648.2,578.0" fill="none" stroke="#8a148a" stroke-width="0.9" stroke-linecap="round" stroke-linejoin="round" opacity="0.9" filter="url(#bl5)"/>
<path d="M644.8,563.4 C645.2,564.0 646.1,565.6 647.0,566.8 C647.9,568.0 649.5,570.1 650.0,570.8" fill="none" stroke="#8a148a" stroke-width="0.9" stroke-linecap="round" stroke-linejoin="round" opacity="0.9" filter="url(#bl5)"/>
<path d="M649.6,582.7 C650.7,582.8 653.5,583.4 656.0,583.3 C658.5,583.1 663.1,582.0 664.5,581.8" fill="none" stroke="#7a127a" stroke-width="1.0" stroke-linecap="round" stroke-linejoin="round" opacity="1.0" filter="url(#bl5)"/>
<ellipse cx="661.9" cy="567.3" rx="2.6" ry="2.1" fill="#701070" opacity="1.0" transform="rotate(0 661.9 567.3)" filter="url(#bl8)"/>
<ellipse cx="655.3" cy="584.4" rx="2.2" ry="1.3" fill="#ff22ff" opacity="1.0" transform="rotate(0 655.3 584.4)" filter="url(#bl5)"/>
<ellipse cx="651.8" cy="573.9" rx="6.5" ry="6.5" fill="#ff00ff" opacity="0.35" transform="rotate(0 651.8 573.9)" filter="url(#bl10)"/>
<ellipse cx="651.8" cy="573.9" rx="4.2" ry="4.5" fill="#ff10ff" opacity="1.0" transform="rotate(0 651.8 573.9)" filter="url(#bl7)"/>
</g>
<line x1="560.5" y1="626.0" x2="570.3" y2="632.1" stroke="#e8141e" stroke-width="1.1"/>
<path d="M576.2,635.8 L568.6,634.8 L572.0,629.4 Z" fill="#e8141e"/>
<line x1="491.60" y1="683.40" x2="537.50" y2="683.40" stroke="#fff" stroke-width="1.8" />
<text x="488.90" y="542.70" font-size="17.6" text-anchor="start" fill="#fff" font-weight="normal" font-style="normal" >Merge</text>
</g></svg>
</body></html>
